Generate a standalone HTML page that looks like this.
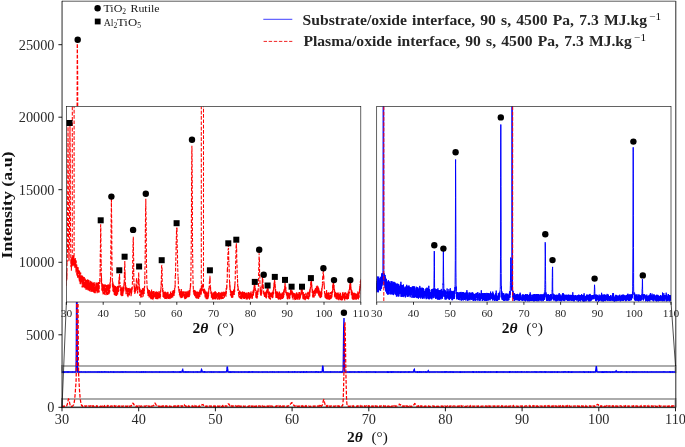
<!DOCTYPE html><html><head><meta charset="utf-8"><style>html,body{margin:0;padding:0;background:#fff;}svg{display:block;will-change:transform;}</style></head><body><svg width="685" height="447" viewBox="0 0 685 447"><defs><clipPath id="cm"><rect x="62.0" y="1.3" width="613.5" height="406.0"/></clipPath><clipPath id="cl"><rect x="66.4" y="106.5" width="294.4" height="195.5"/></clipPath><clipPath id="cr"><rect x="376.7" y="106.5" width="294.3" height="195.5"/></clipPath></defs><g fill="none" stroke="#a8a8a8" stroke-width="1.9"><rect x="62.0" y="366" width="613.5" height="6.2"/><rect x="62.0" y="399" width="613.5" height="8.3"/></g><g clip-path="url(#cm)" fill="none"><polyline points="62,371.9 62.3,372 62.5,372 62.8,372 63,372 63.3,371.9 63.5,371.9 63.8,372.1 64,372 64.3,371.9 64.6,372.1 64.8,372 65.1,372.1 65.3,372 65.6,372 65.8,371.9 66.1,372 66.3,372.1 66.6,372 66.9,372 67.1,372 67.4,371.9 67.6,372.1 67.9,372 68.1,372 68.4,371.9 68.6,372.1 68.9,372 69.2,372 69.4,372.1 69.7,372 69.9,372.1 70.2,372 70.4,372.1 70.7,372 70.9,372.1 71.2,372.1 71.5,371.9 71.7,371.9 72,371.9 72.2,372.1 72.5,372 72.7,372 73,372 73.2,372 73.5,372 73.8,372 74,372 74.3,372 74.5,372.1 74.8,372 75,372.1 75.3,372.1 75.5,372.1 75.8,372 76.1,370.4 76.3,353.5 76.6,292 76.8,250.8 77.1,307.4 77.3,359.9 77.6,371.1 77.8,372 78.1,372 78.4,372 78.6,371.9 78.9,372.1 79.1,372.1 79.4,371.9 79.6,372.1 79.9,372 80.1,371.9 80.4,372 80.7,372.1 80.9,372.1 81.2,371.9 81.4,372 81.7,371.9 81.9,372 82.2,372 82.5,372.1 82.7,372.1 83,372 83.2,372.1 83.5,372 83.7,371.9 84,372 84.2,371.9 84.5,371.9 84.8,372 85,372 85.3,371.9 85.5,371.9 85.8,372.1 86,372 86.3,372.1 86.5,372.1 86.8,372 87.1,372 87.3,372 87.6,372 87.8,372 88.1,372 88.3,372 88.6,372.1 88.8,372 89.1,372 89.4,372 89.6,371.9 89.9,372 90.1,372.1 90.4,372 90.6,372 90.9,371.9 91.1,372 91.4,372 91.7,371.9 91.9,372 92.2,372 92.4,371.9 92.7,372 92.9,372 93.2,372 93.4,372 93.7,372 94,372 94.2,371.9 94.5,371.9 94.7,372 95,372.1 95.2,372 95.5,372 95.7,372 96,372 96.3,372 96.5,372 96.8,372 97,372 97.3,372 97.5,372 97.8,372.1 98,371.9 98.3,372 98.6,372 98.8,372 99.1,371.9 99.3,372.1 99.6,371.9 99.8,371.9 100.1,372 100.3,372 100.6,371.9 100.9,372 101.1,372 101.4,372.1 101.6,372 101.9,372.1 102.1,371.9 102.4,372 102.6,372 102.9,372.1 103.2,372 103.4,371.9 103.7,371.9 103.9,372 104.2,371.9 104.4,372.1 104.7,372.1 104.9,371.9 105.2,372 105.5,372.1 105.7,372 106,372.1 106.2,372 106.5,371.9 106.7,372 107,372.1 107.2,372 107.5,372 107.8,372 108,372 108.3,372 108.5,372.1 108.8,371.9 109,371.9 109.3,372.1 109.5,372.1 109.8,372.1 110.1,372 110.3,372.1 110.6,372.1 110.8,371.9 111.1,372 111.3,372.1 111.6,372 111.8,372 112.1,372 112.4,372 112.6,371.9 112.9,371.9 113.1,372 113.4,372 113.6,372.1 113.9,371.9 114.1,372.1 114.4,372 114.7,372.1 114.9,372.1 115.2,372.1 115.4,372 115.7,371.9 115.9,372 116.2,371.9 116.4,372 116.7,372 117,372 117.2,372 117.5,372.1 117.7,372 118,372 118.2,372 118.5,372.1 118.7,372 119,372.1 119.3,372 119.5,371.9 119.8,372 120,372.1 120.3,371.9 120.5,372.1 120.8,372.1 121,372.1 121.3,372.1 121.6,371.9 121.8,372 122.1,372.1 122.3,371.9 122.6,372 122.8,372 123.1,372 123.3,372 123.6,372 123.9,372.1 124.1,371.9 124.4,371.9 124.6,371.9 124.9,371.9 125.1,371.9 125.4,372.1 125.7,372.1 125.9,371.9 126.2,372 126.4,372 126.7,372 126.9,372 127.2,372 127.4,372 127.7,372 128,371.9 128.2,372 128.5,371.9 128.7,372 129,372 129.2,372 129.5,371.9 129.7,371.9 130,372 130.3,372 130.5,372.1 130.8,372 131,372.1 131.3,372 131.5,372 131.8,372 132,372 132.3,372 132.6,372 132.8,372 133.1,372 133.3,371.9 133.6,372 133.8,372 134.1,371.9 134.3,372 134.6,372 134.9,372.1 135.1,372.1 135.4,372 135.6,372.1 135.9,372.1 136.1,372 136.4,372 136.6,371.9 136.9,372.1 137.2,372 137.4,372.1 137.7,372.1 137.9,372 138.2,372 138.4,372 138.7,371.9 138.9,372 139.2,371.9 139.5,371.9 139.7,372.1 140,371.9 140.2,371.9 140.5,371.9 140.7,372.1 141,371.9 141.2,371.9 141.5,372.1 141.8,371.9 142,372.1 142.3,372 142.5,372.1 142.8,372.1 143,372 143.3,372.1 143.5,371.9 143.8,372.1 144.1,372 144.3,372 144.6,371.9 144.8,372 145.1,372.1 145.3,371.9 145.6,372 145.8,372 146.1,372.1 146.4,371.9 146.6,371.9 146.9,371.9 147.1,372 147.4,372.1 147.6,372 147.9,372 148.1,372 148.4,372 148.7,372 148.9,371.9 149.2,372 149.4,372.1 149.7,372 149.9,372 150.2,371.9 150.4,372 150.7,372.1 151,372 151.2,372 151.5,372 151.7,372 152,372.1 152.2,371.9 152.5,371.9 152.7,372 153,372.1 153.3,372 153.5,372 153.8,372 154,371.9 154.3,372 154.5,371.9 154.8,372 155,372 155.3,371.9 155.6,372 155.8,372.1 156.1,372 156.3,372 156.6,372 156.8,372.1 157.1,372 157.3,372 157.6,371.9 157.9,371.9 158.1,372 158.4,372 158.6,371.9 158.9,372 159.1,372 159.4,372.1 159.6,371.9 159.9,372.1 160.2,372 160.4,372 160.7,372 160.9,372.1 161.2,372.1 161.4,372 161.7,372 161.9,372 162.2,372.1 162.5,372 162.7,372 163,372.1 163.2,372 163.5,371.9 163.7,371.9 164,372 164.2,372 164.5,372.1 164.8,372.1 165,371.9 165.3,371.9 165.5,372 165.8,371.9 166,372 166.3,372.1 166.6,372.1 166.8,372 167.1,372.1 167.3,372 167.6,372 167.8,372 168.1,371.9 168.3,371.9 168.6,372.1 168.9,372 169.1,372 169.4,372 169.6,372 169.9,371.9 170.1,372 170.4,372 170.6,372 170.9,371.9 171.2,372 171.4,372.1 171.7,372 171.9,372 172.2,371.9 172.4,372 172.7,372 172.9,371.9 173.2,372.1 173.5,372.1 173.7,371.9 174,372.1 174.2,372 174.5,372.1 174.7,372.1 175,372 175.2,372 175.5,372 175.8,372.1 176,372 176.3,372.1 176.5,372.1 176.8,372 177,372 177.3,371.9 177.5,372 177.8,372 178.1,372 178.3,372 178.6,372 178.8,371.9 179.1,372 179.3,372 179.6,371.9 179.8,372.1 180.1,372 180.4,371.9 180.6,372.1 180.9,371.9 181.1,372 181.4,372 181.6,372 181.9,371.9 182.1,371.3 182.4,370.2 182.7,369.7 182.9,370.6 183.2,371.5 183.4,372 183.7,372 183.9,372 184.2,372 184.4,372 184.7,372 185,372 185.2,372.1 185.5,371.9 185.7,372 186,371.9 186.2,372.1 186.5,372 186.7,372 187,372 187.3,372 187.5,372.1 187.8,372 188,372.1 188.3,371.9 188.5,372 188.8,371.9 189,371.9 189.3,372.1 189.6,372 189.8,371.9 190.1,371.9 190.3,372 190.6,372 190.8,372.1 191.1,372 191.3,372 191.6,371.9 191.9,372 192.1,371.9 192.4,372 192.6,372 192.9,371.9 193.1,372 193.4,372.1 193.6,371.9 193.9,372.1 194.2,372.1 194.4,372.1 194.7,372 194.9,372 195.2,372 195.4,372 195.7,372.1 195.9,372 196.2,372 196.5,372.1 196.7,372 197,372 197.2,372 197.5,371.9 197.7,372.1 198,372 198.2,372 198.5,372 198.8,372 199,371.9 199.3,372 199.5,371.9 199.8,372 200,372 200.3,372 200.5,372 200.8,372 201.1,371.6 201.3,370.3 201.6,369.6 201.8,370.1 202.1,371.2 202.3,371.9 202.6,371.9 202.8,371.9 203.1,372 203.4,372.1 203.6,372 203.9,372.1 204.1,372 204.4,371.9 204.6,372.1 204.9,372 205.2,372.1 205.4,372 205.7,372 205.9,372 206.2,372.1 206.4,372.1 206.7,372.1 206.9,372 207.2,372.1 207.5,372 207.7,371.9 208,371.9 208.2,371.9 208.5,371.9 208.7,371.9 209,372 209.2,372 209.5,372 209.8,372 210,372 210.3,372 210.5,372 210.8,372.1 211,372 211.3,371.9 211.5,372.1 211.8,372 212.1,372 212.3,372 212.6,372 212.8,372 213.1,371.9 213.3,371.9 213.6,371.9 213.8,372.1 214.1,371.9 214.4,372 214.6,371.9 214.9,371.9 215.1,371.9 215.4,372 215.6,371.9 215.9,371.9 216.1,371.9 216.4,371.9 216.7,372 216.9,371.9 217.2,371.9 217.4,372 217.7,372 217.9,372 218.2,371.9 218.4,372 218.7,372 219,371.9 219.2,372.1 219.5,371.9 219.7,371.9 220,372 220.2,371.9 220.5,372 220.7,372 221,371.9 221.3,371.9 221.5,372 221.8,372 222,372.1 222.3,372 222.5,372.1 222.8,372 223,371.9 223.3,372 223.6,372.1 223.8,372 224.1,372 224.3,371.9 224.6,372 224.8,372.1 225.1,372 225.3,371.9 225.6,371.9 225.9,371.9 226.1,371.9 226.4,371.9 226.6,371.5 226.9,369.9 227.1,367.3 227.4,366.6 227.6,369.2 227.9,371.2 228.2,372 228.4,372.1 228.7,372.1 228.9,371.9 229.2,372 229.4,372 229.7,372.1 229.9,371.9 230.2,372 230.5,372.1 230.7,371.9 231,372 231.2,372 231.5,372 231.7,372.1 232,371.9 232.2,372 232.5,372 232.8,372.1 233,372 233.3,372.1 233.5,372 233.8,372 234,371.9 234.3,372.1 234.5,372 234.8,372 235.1,371.9 235.3,372 235.6,372 235.8,372 236.1,372 236.3,372 236.6,371.9 236.8,372 237.1,371.9 237.4,372 237.6,372.1 237.9,372 238.1,371.9 238.4,371.9 238.6,372.1 238.9,372 239.1,372.1 239.4,372.1 239.7,372 239.9,372.1 240.2,372 240.4,372 240.7,372 240.9,371.9 241.2,372 241.4,372.1 241.7,371.9 242,372 242.2,371.9 242.5,371.9 242.7,372 243,371.9 243.2,371.9 243.5,371.9 243.7,372 244,372 244.3,371.9 244.5,371.9 244.8,372.1 245,371.9 245.3,372 245.5,372 245.8,372.1 246.1,372 246.3,372.1 246.6,372 246.8,371.9 247.1,371.9 247.3,371.9 247.6,372.1 247.8,371.9 248.1,371.9 248.4,372.1 248.6,371.9 248.9,372.1 249.1,371.9 249.4,372 249.6,371.9 249.9,372.1 250.1,372 250.4,372 250.7,372.1 250.9,372.1 251.2,372 251.4,372 251.7,372 251.9,371.9 252.2,372.1 252.4,372 252.7,372.1 253,371.9 253.2,372 253.5,372 253.7,372 254,371.9 254.2,372 254.5,372 254.7,371.9 255,372 255.3,372 255.5,372 255.8,372 256,372 256.3,371.9 256.5,372 256.8,372.1 257,372 257.3,372 257.6,371.9 257.8,371.9 258.1,371.9 258.3,372.1 258.6,372 258.8,372.1 259.1,372.1 259.3,372 259.6,372.1 259.9,372 260.1,372 260.4,372.1 260.6,372.1 260.9,372.1 261.1,372 261.4,372.1 261.6,372 261.9,372.1 262.2,372.1 262.4,372 262.7,372.1 262.9,371.9 263.2,371.9 263.4,372 263.7,372 263.9,372 264.2,372 264.5,371.9 264.7,372 265,372 265.2,372 265.5,372 265.7,372 266,372 266.2,372 266.5,371.9 266.8,372 267,372 267.3,371.9 267.5,371.9 267.8,372.1 268,372 268.3,372.1 268.5,372.1 268.8,372.1 269.1,372 269.3,371.9 269.6,372 269.8,372 270.1,372 270.3,372 270.6,372 270.8,372.1 271.1,372 271.4,372 271.6,372.1 271.9,372.1 272.1,372 272.4,371.9 272.6,372.1 272.9,371.9 273.1,371.9 273.4,372 273.7,372 273.9,371.9 274.2,371.9 274.4,371.9 274.7,372.1 274.9,372 275.2,372.1 275.4,372.1 275.7,372.1 276,371.9 276.2,371.9 276.5,371.9 276.7,372 277,372 277.2,371.9 277.5,372 277.7,371.9 278,372 278.3,371.9 278.5,372.1 278.8,372 279,372 279.3,371.9 279.5,372 279.8,372 280,372 280.3,372.1 280.6,372.1 280.8,371.9 281.1,371.9 281.3,372.1 281.6,372.1 281.8,372 282.1,372.1 282.3,372 282.6,372 282.9,371.9 283.1,371.9 283.4,372 283.6,372.1 283.9,372.1 284.1,372 284.4,372 284.6,372.1 284.9,372.1 285.2,372 285.4,372 285.7,372 285.9,371.9 286.2,371.9 286.4,372 286.7,372.1 286.9,372 287.2,372 287.5,372 287.7,372 288,372.1 288.2,372 288.5,372.1 288.7,371.9 289,372 289.3,372 289.5,372 289.8,372.1 290,372.1 290.3,372.1 290.5,372 290.8,371.9 291,372 291.3,372 291.6,372 291.8,372 292.1,372 292.3,372.1 292.6,371.9 292.8,372 293.1,372 293.3,372 293.6,372.1 293.9,372.1 294.1,372 294.4,371.9 294.6,372.1 294.9,371.9 295.1,372 295.4,372.1 295.6,372 295.9,372 296.2,372.1 296.4,372.1 296.7,372 296.9,372 297.2,372 297.4,371.9 297.7,372 297.9,372.1 298.2,371.9 298.5,371.9 298.7,371.9 299,371.9 299.2,372 299.5,372 299.7,372.1 300,372 300.2,372.1 300.5,371.9 300.8,372 301,372.1 301.3,371.9 301.5,372 301.8,372 302,372 302.3,372 302.5,371.9 302.8,371.9 303.1,372.1 303.3,371.9 303.6,372.1 303.8,371.9 304.1,372.1 304.3,372 304.6,372 304.8,371.9 305.1,371.9 305.4,372.1 305.6,371.9 305.9,371.9 306.1,372.1 306.4,372.1 306.6,371.9 306.9,372.1 307.1,372 307.4,372 307.7,371.9 307.9,372 308.2,372.1 308.4,372 308.7,371.9 308.9,371.9 309.2,371.9 309.4,372 309.7,372.1 310,371.9 310.2,371.9 310.5,372.1 310.7,372.1 311,372.1 311.2,371.9 311.5,372 311.7,372.1 312,372 312.3,372 312.5,372 312.8,371.9 313,372 313.3,372 313.5,372.1 313.8,372 314,372 314.3,372 314.6,372 314.8,372 315.1,372.1 315.3,371.9 315.6,372 315.8,372.1 316.1,372.1 316.3,371.9 316.6,372.1 316.9,372.1 317.1,371.9 317.4,372 317.6,371.9 317.9,371.9 318.1,372.1 318.4,372 318.6,372.1 318.9,371.9 319.2,371.9 319.4,372.1 319.7,372.1 319.9,372.1 320.2,372 320.4,372 320.7,372.1 320.9,371.9 321.2,372 321.5,372 321.7,371.9 322,371.9 322.2,370.9 322.5,368.3 322.7,365.6 323,366.7 323.2,369.8 323.5,371.6 323.8,372.1 324,372.1 324.3,372.1 324.5,372.1 324.8,372 325,372.1 325.3,372 325.5,371.9 325.8,372 326.1,372 326.3,372 326.6,372 326.8,372 327.1,372.1 327.3,372 327.6,372 327.9,372 328.1,372.1 328.4,372.1 328.6,372 328.9,372 329.1,372 329.4,371.9 329.6,372 329.9,372.1 330.2,372.1 330.4,371.9 330.7,372.1 330.9,372 331.2,372.1 331.4,372 331.7,371.9 331.9,372 332.2,372.1 332.5,372 332.7,372.1 333,372 333.2,372 333.5,372 333.7,372 334,372 334.2,372 334.5,372 334.8,372.1 335,372 335.3,371.9 335.5,371.9 335.8,372 336,372 336.3,371.9 336.5,371.9 336.8,372 337.1,372 337.3,371.9 337.6,372 337.8,372.1 338.1,372 338.3,372 338.6,372.1 338.8,372.1 339.1,372.1 339.4,372 339.6,372 339.9,371.9 340.1,372.1 340.4,372 340.6,372 340.9,372.1 341.1,372 341.4,371.9 341.7,372.1 341.9,372 342.2,371.9 342.4,371.9 342.7,372 342.9,371.6 343.2,368.8 343.4,354.8 343.7,328.2 344,318.1 344.2,339.9 344.5,362.7 344.7,370.7 345,371.9 345.2,372 345.5,371.9 345.7,372.1 346,372 346.3,371.9 346.5,372 346.8,372.1 347,372.1 347.3,371.9 347.5,371.9 347.8,372 348,372 348.3,372.1 348.6,372.1 348.8,372 349.1,372 349.3,372 349.6,372.1 349.8,371.9 350.1,372 350.3,371.9 350.6,372 350.9,371.9 351.1,372.1 351.4,372 351.6,372 351.9,371.9 352.1,371.9 352.4,372 352.6,372.1 352.9,372 353.2,372 353.4,372.1 353.7,372 353.9,372 354.2,371.9 354.4,372 354.7,372.1 354.9,371.9 355.2,372 355.5,372 355.7,372 356,372.1 356.2,372.1 356.5,372.1 356.7,372 357,371.9 357.2,371.9 357.5,372 357.8,372 358,371.9 358.3,372.1 358.5,371.9 358.8,372.1 359,372.1 359.3,371.9 359.5,372.1 359.8,372 360.1,371.9 360.3,371.9 360.6,371.9 360.8,372 361.1,372 361.3,372.1 361.6,372.1 361.8,371.9 362.1,372 362.4,372 362.6,371.9 362.9,372 363.1,372 363.4,372 363.6,372 363.9,371.9 364.1,371.9 364.4,372 364.7,372 364.9,371.9 365.2,372 365.4,371.9 365.7,372 365.9,372 366.2,371.9 366.4,372.1 366.7,372 367,372 367.2,372 367.5,372 367.7,372 368,371.9 368.2,372.1 368.5,372.1 368.8,372 369,372 369.3,372 369.5,372.1 369.8,372 370,371.9 370.3,372.1 370.5,372.1 370.8,372 371.1,372.1 371.3,372 371.6,371.9 371.8,372 372.1,372 372.3,372 372.6,372 372.8,371.9 373.1,372 373.4,372.1 373.6,372 373.9,372 374.1,372.1 374.4,372 374.6,372 374.9,372 375.1,372.1 375.4,371.9 375.7,371.9 375.9,372.1 376.2,372 376.4,372 376.7,372.1 376.9,372.1 377.2,372 377.4,372.1 377.7,372.1 378,372 378.2,372 378.5,371.9 378.7,372 379,372 379.2,372 379.5,372 379.7,372 380,371.9 380.3,372 380.5,372 380.8,372 381,371.9 381.3,372 381.5,372 381.8,372 382,371.9 382.3,372 382.6,371.9 382.8,372 383.1,372 383.3,371.9 383.6,371.9 383.8,372 384.1,371.9 384.3,372 384.6,371.9 384.9,371.9 385.1,372 385.4,372.1 385.6,372.1 385.9,372 386.1,372 386.4,371.9 386.6,372 386.9,372 387.2,372.1 387.4,371.9 387.7,372.1 387.9,372 388.2,372 388.4,372 388.7,372.1 388.9,371.9 389.2,372 389.5,372 389.7,371.9 390,371.9 390.2,372.1 390.5,372.1 390.7,372 391,372.1 391.2,371.9 391.5,372 391.8,372.1 392,371.9 392.3,372 392.5,372.1 392.8,372 393,372.1 393.3,371.9 393.5,372 393.8,372 394.1,372 394.3,372 394.6,372.1 394.8,372 395.1,372 395.3,372 395.6,372 395.8,372.1 396.1,372 396.4,372 396.6,372 396.9,372 397.1,371.9 397.4,371.9 397.6,372 397.9,371.9 398.1,372.1 398.4,372 398.7,372.1 398.9,372.1 399.2,372 399.4,372 399.7,371.9 399.9,372 400.2,372 400.4,372.1 400.7,371.9 401,371.9 401.2,372.1 401.5,372 401.7,372 402,372 402.2,371.9 402.5,372 402.7,372 403,372 403.3,371.9 403.5,371.9 403.8,372 404,372.1 404.3,371.9 404.5,371.9 404.8,371.9 405,372.1 405.3,372 405.6,372 405.8,372.1 406.1,372 406.3,372 406.6,372 406.8,371.9 407.1,372 407.3,372 407.6,371.9 407.9,371.9 408.1,372 408.4,372 408.6,372.1 408.9,371.9 409.1,372.1 409.4,372 409.6,372.1 409.9,372 410.2,372 410.4,372 410.7,371.9 410.9,372 411.2,372.1 411.4,372 411.7,371.9 412,372 412.2,371.9 412.5,372 412.7,372 413,372 413.2,372 413.5,371.8 413.7,371.1 414,369.9 414.3,369.5 414.5,370.5 414.8,371.6 415,371.9 415.3,372 415.5,372 415.8,372 416,372 416.3,372 416.6,372 416.8,372 417.1,371.9 417.3,372.1 417.6,372 417.8,371.9 418.1,372.1 418.3,372 418.6,372 418.9,372 419.1,371.9 419.4,372.1 419.6,371.9 419.9,372 420.1,372.1 420.4,371.9 420.6,372 420.9,372 421.2,371.9 421.4,372.1 421.7,372 421.9,371.9 422.2,372 422.4,371.9 422.7,372 422.9,372.1 423.2,372.1 423.5,371.9 423.7,372 424,372 424.2,372 424.5,372 424.7,372 425,371.9 425.2,372 425.5,371.9 425.8,372.1 426,371.9 426.3,372.1 426.5,371.9 426.8,371.9 427,372 427.3,372 427.5,372 427.8,371.7 428.1,371.2 428.3,370.7 428.6,371.2 428.8,371.7 429.1,372.1 429.3,371.9 429.6,371.9 429.8,372 430.1,372.1 430.4,372 430.6,372 430.9,372 431.1,372 431.4,372 431.6,372 431.9,371.9 432.1,372 432.4,372 432.7,372 432.9,372 433.2,372 433.4,372 433.7,372 433.9,372 434.2,372.1 434.4,372 434.7,371.9 435,372 435.2,371.9 435.5,371.9 435.7,372 436,372 436.2,371.9 436.5,371.9 436.7,371.9 437,371.9 437.3,372 437.5,372 437.8,372.1 438,372 438.3,372 438.5,372 438.8,371.9 439,372 439.3,372.1 439.6,372 439.8,372 440.1,372 440.3,371.9 440.6,371.9 440.8,371.9 441.1,372 441.3,372 441.6,372 441.9,371.9 442.1,372.1 442.4,372 442.6,372 442.9,372 443.1,372 443.4,371.9 443.6,372 443.9,372 444.2,372 444.4,372.1 444.7,371.9 444.9,372.1 445.2,372.1 445.4,372 445.7,372.1 445.9,371.9 446.2,372.1 446.5,372.1 446.7,371.9 447,372 447.2,372.1 447.5,372 447.7,372.1 448,372.1 448.2,372 448.5,371.9 448.8,371.9 449,372.1 449.3,372 449.5,372 449.8,372 450,372.1 450.3,372 450.6,371.9 450.8,372.1 451.1,372 451.3,372 451.6,372.1 451.8,372 452.1,371.9 452.3,372.1 452.6,371.9 452.9,371.9 453.1,372.1 453.4,371.9 453.6,372.1 453.9,372 454.1,372 454.4,371.9 454.6,372 454.9,372 455.2,372 455.4,372 455.7,372 455.9,372.1 456.2,372.1 456.4,372.1 456.7,372.1 456.9,371.9 457.2,372 457.5,371.9 457.7,371.9 458,372.1 458.2,372.1 458.5,372.1 458.7,372 459,371.9 459.2,372 459.5,371.9 459.8,372.1 460,372 460.3,372 460.5,372.1 460.8,371.9 461,372.1 461.3,372 461.5,372 461.8,371.9 462.1,372.1 462.3,372 462.6,372 462.8,372 463.1,372 463.3,372 463.6,371.9 463.8,372 464.1,371.9 464.4,372.1 464.6,372 464.9,371.9 465.1,372 465.4,371.9 465.6,372 465.9,372 466.1,372 466.4,372 466.7,372 466.9,372 467.2,372.1 467.4,372 467.7,372.1 467.9,372 468.2,371.9 468.4,371.9 468.7,372.1 469,372 469.2,372 469.5,372 469.7,372.1 470,372 470.2,372 470.5,372 470.7,371.9 471,372 471.3,372 471.5,372 471.8,372 472,372 472.3,372 472.5,371.9 472.8,372.1 473,371.9 473.3,372.1 473.6,371.9 473.8,372.1 474.1,372 474.3,371.9 474.6,372 474.8,372.1 475.1,372.1 475.3,372.1 475.6,372.1 475.9,371.9 476.1,372 476.4,371.9 476.6,372.1 476.9,372 477.1,372 477.4,372.1 477.6,372.1 477.9,372 478.2,372.1 478.4,372 478.7,371.9 478.9,372.1 479.2,371.9 479.4,371.9 479.7,372.1 479.9,372 480.2,372 480.5,371.9 480.7,371.9 481,372 481.2,371.9 481.5,372 481.7,372.1 482,371.9 482.2,372 482.5,372 482.8,372 483,372.1 483.3,372 483.5,371.9 483.8,371.9 484,372 484.3,372.1 484.5,371.9 484.8,372 485.1,371.9 485.3,372.1 485.6,372 485.8,372 486.1,372 486.3,371.9 486.6,372 486.8,372.1 487.1,372.1 487.4,372 487.6,371.9 487.9,371.9 488.1,372.1 488.4,372 488.6,372 488.9,372 489.1,372 489.4,372 489.7,372 489.9,372.1 490.2,372.1 490.4,372 490.7,371.9 490.9,372.1 491.2,372 491.4,372 491.7,372 492,372.1 492.2,372 492.5,371.9 492.7,371.9 493,372 493.2,372 493.5,372 493.8,372.1 494,372 494.3,372 494.5,372 494.8,372 495,372 495.3,372 495.5,372 495.8,372 496.1,372.1 496.3,371.9 496.6,372.1 496.8,372 497.1,372.1 497.3,371.9 497.6,372 497.8,372 498.1,372 498.4,371.9 498.6,372 498.9,371.9 499.1,372 499.4,372 499.6,371.9 499.9,371.9 500.1,371.9 500.4,372.1 500.7,372 500.9,372 501.2,372 501.4,372 501.7,372.1 501.9,372 502.2,371.9 502.4,372 502.7,372 503,371.9 503.2,372.1 503.5,372 503.7,372 504,372 504.2,372 504.5,372 504.7,372.1 505,372 505.3,372 505.5,371.9 505.8,372 506,372 506.3,372 506.5,372 506.8,371.9 507,371.9 507.3,371.9 507.6,371.9 507.8,372.1 508.1,372 508.3,371.9 508.6,372 508.8,372 509.1,371.9 509.3,372.1 509.6,371.9 509.9,372.1 510.1,371.9 510.4,372 510.6,371.9 510.9,372.1 511.1,372.1 511.4,372 511.6,371.9 511.9,372 512.2,372 512.4,371.9 512.7,372.1 512.9,372.1 513.2,372.1 513.4,372 513.7,372 513.9,372.1 514.2,372 514.5,372 514.7,371.9 515,371.9 515.2,372.1 515.5,371.9 515.7,372 516,372 516.2,372.1 516.5,372.1 516.8,372 517,372.1 517.3,371.9 517.5,372 517.8,372 518,372 518.3,372 518.5,372.1 518.8,372 519.1,372.1 519.3,372 519.6,372 519.8,372 520.1,372 520.3,372.1 520.6,372 520.8,372 521.1,372 521.4,371.9 521.6,372.1 521.9,371.9 522.1,372 522.4,372 522.6,371.9 522.9,372 523.1,372 523.4,372.1 523.7,372.1 523.9,372 524.2,372.1 524.4,372.1 524.7,371.9 524.9,372.1 525.2,372.1 525.4,372.1 525.7,372.1 526,372 526.2,371.9 526.5,372 526.7,371.9 527,372.1 527.2,372 527.5,372.1 527.7,372 528,372 528.3,372.1 528.5,372 528.8,372 529,372 529.3,372 529.5,372 529.8,372 530,372 530.3,372.1 530.6,372.1 530.8,372.1 531.1,372 531.3,371.9 531.6,372 531.8,372.1 532.1,372 532.4,371.9 532.6,372 532.9,372 533.1,372 533.4,372 533.6,372 533.9,372 534.1,372.1 534.4,372.1 534.7,371.9 534.9,372 535.2,372.1 535.4,372 535.7,372 535.9,372.1 536.2,371.9 536.4,372.1 536.7,372 537,372 537.2,372 537.5,372 537.7,371.9 538,372 538.2,372 538.5,372.1 538.7,372.1 539,372 539.3,372.1 539.5,372 539.8,372 540,371.9 540.3,372.1 540.5,372.1 540.8,372.1 541,371.9 541.3,372.1 541.6,371.9 541.8,372 542.1,372 542.3,371.9 542.6,372 542.8,372.1 543.1,372 543.3,372 543.6,372.1 543.9,372 544.1,372.1 544.4,372 544.6,371.9 544.9,372.1 545.1,371.9 545.4,372 545.6,372.1 545.9,371.9 546.2,372 546.4,372.1 546.7,372 546.9,372 547.2,372.1 547.4,372.1 547.7,372 547.9,372 548.2,372 548.5,372 548.7,372.1 549,372.1 549.2,371.9 549.5,371.9 549.7,371.9 550,372.1 550.2,371.9 550.5,371.9 550.8,372.1 551,371.9 551.3,372.1 551.5,372 551.8,372.1 552,372.1 552.3,371.9 552.5,372.1 552.8,372 553.1,371.9 553.3,371.9 553.6,372 553.8,372 554.1,372 554.3,372.1 554.6,371.9 554.8,372 555.1,371.9 555.4,372 555.6,372.1 555.9,372 556.1,371.9 556.4,371.9 556.6,372 556.9,372 557.1,372.1 557.4,371.9 557.7,372.1 557.9,372 558.2,372.1 558.4,372 558.7,371.9 558.9,371.9 559.2,372 559.4,371.9 559.7,371.9 560,372.1 560.2,372.1 560.5,372.1 560.7,372.1 561,372 561.2,372.1 561.5,372 561.7,372 562,372 562.3,371.9 562.5,371.9 562.8,371.9 563,372 563.3,371.9 563.5,372.1 563.8,372 564,372 564.3,372.1 564.6,371.9 564.8,372.1 565.1,372.1 565.3,372 565.6,371.9 565.8,372.1 566.1,372.1 566.3,372.1 566.6,372 566.9,372 567.1,371.9 567.4,371.9 567.6,372 567.9,372 568.1,371.9 568.4,372.1 568.6,371.9 568.9,372.1 569.2,371.9 569.4,372.1 569.7,372.1 569.9,372.1 570.2,372 570.4,372 570.7,372 570.9,372.1 571.2,371.9 571.5,372.1 571.7,372 572,371.9 572.2,372.1 572.5,372 572.7,371.9 573,372 573.2,371.9 573.5,372 573.8,372 574,372.1 574.3,372 574.5,372.1 574.8,372.1 575,372 575.3,372 575.6,372 575.8,371.9 576.1,372 576.3,371.9 576.6,372 576.8,372 577.1,372 577.3,372 577.6,372 577.9,371.9 578.1,372 578.4,372 578.6,371.9 578.9,372 579.1,372.1 579.4,372 579.6,372.1 579.9,372 580.2,372.1 580.4,372 580.7,372.1 580.9,372 581.2,371.9 581.4,372 581.7,372 581.9,372 582.2,372 582.5,372.1 582.7,372.1 583,372.1 583.2,371.9 583.5,372 583.7,372 584,372.1 584.2,371.9 584.5,371.9 584.8,372.1 585,372 585.3,372 585.5,372 585.8,372 586,372 586.3,372 586.5,372.1 586.8,372 587.1,372.1 587.3,372 587.6,372 587.8,372 588.1,372 588.3,372.1 588.6,371.9 588.8,372.1 589.1,372 589.4,372 589.6,372 589.9,371.9 590.1,371.9 590.4,372.1 590.6,372 590.9,372.1 591.1,371.9 591.4,371.9 591.7,372 591.9,372 592.2,372 592.4,372 592.7,372 592.9,372 593.2,372 593.4,372.1 593.7,371.9 594,372 594.2,371.9 594.5,371.9 594.7,372 595,372 595.2,372 595.5,371.8 595.7,371 596,368.5 596.3,366.1 596.5,367.3 596.8,370.3 597,371.7 597.3,371.9 597.5,371.9 597.8,372 598,371.9 598.3,372 598.6,372 598.8,372 599.1,372 599.3,372.1 599.6,372.1 599.8,372 600.1,372 600.3,372 600.6,372 600.9,372 601.1,372 601.4,372 601.6,372.1 601.9,371.9 602.1,372 602.4,372.1 602.6,371.9 602.9,372 603.2,372.1 603.4,371.9 603.7,372.1 603.9,372 604.2,371.9 604.4,372 604.7,371.9 604.9,372.1 605.2,372 605.5,372.1 605.7,372.1 606,371.9 606.2,372 606.5,371.9 606.7,372.1 607,371.9 607.2,371.9 607.5,371.9 607.8,372.1 608,371.9 608.3,372 608.5,372 608.8,372 609,372 609.3,372.1 609.5,372 609.8,372 610.1,372.1 610.3,371.9 610.6,371.9 610.8,372.1 611.1,372 611.3,372.1 611.6,372.1 611.8,372 612.1,372 612.4,371.9 612.6,372.1 612.9,372 613.1,372 613.4,371.9 613.6,371.9 613.9,372.1 614.1,371.9 614.4,372 614.7,372 614.9,372 615.2,372 615.4,371.9 615.7,371.6 615.9,371.2 616.2,370.8 616.5,371.1 616.7,371.6 617,372 617.2,371.9 617.5,371.9 617.7,372 618,372.1 618.2,372 618.5,371.9 618.8,372.1 619,371.9 619.3,372 619.5,372.1 619.8,372.1 620,372.1 620.3,371.9 620.5,372.1 620.8,372 621.1,371.9 621.3,372.1 621.6,372.1 621.8,371.9 622.1,372 622.3,372.1 622.6,372 622.8,372 623.1,372.1 623.4,372 623.6,372.1 623.9,372.1 624.1,372.1 624.4,372 624.6,371.9 624.9,372 625.1,372 625.4,372 625.7,372 625.9,372 626.2,371.9 626.4,372.1 626.7,372 626.9,371.9 627.2,372.1 627.4,372 627.7,372 628,372 628.2,371.9 628.5,372 628.7,372.1 629,372 629.2,372.1 629.5,372 629.7,372.1 630,371.9 630.3,372 630.5,371.9 630.8,371.9 631,372 631.3,372 631.5,372 631.8,371.9 632,372 632.3,372 632.6,372.1 632.8,371.9 633.1,372 633.3,372.1 633.6,372 633.8,372 634.1,372.1 634.3,371.9 634.6,371.9 634.9,371.9 635.1,372 635.4,372.1 635.6,372 635.9,372 636.1,372.1 636.4,371.9 636.6,371.9 636.9,372 637.2,371.9 637.4,372 637.7,371.9 637.9,372 638.2,372.1 638.4,372 638.7,372 638.9,372 639.2,372 639.5,371.9 639.7,371.9 640,372 640.2,372 640.5,372 640.7,372 641,372 641.2,372.1 641.5,372 641.8,371.9 642,371.9 642.3,371.9 642.5,371.9 642.8,372.1 643,372 643.3,372 643.5,372.1 643.8,372.1 644.1,372.1 644.3,371.9 644.6,372 644.8,372 645.1,372 645.3,372 645.6,371.9 645.8,371.9 646.1,372 646.4,372 646.6,372 646.9,372 647.1,372 647.4,372 647.6,371.9 647.9,372.1 648.1,372 648.4,372 648.7,372.1 648.9,372.1 649.2,372 649.4,371.9 649.7,372 649.9,372 650.2,372 650.4,371.9 650.7,372 651,372 651.2,372.1 651.5,372 651.7,372 652,372.1 652.2,372 652.5,371.9 652.7,372 653,371.9 653.3,372 653.5,372.1 653.8,372.1 654,372 654.3,371.9 654.5,371.9 654.8,371.9 655,372 655.3,372 655.6,371.9 655.8,372 656.1,372 656.3,372 656.6,372.1 656.8,372 657.1,372 657.4,372 657.6,372 657.9,372 658.1,371.9 658.4,372 658.6,372 658.9,371.9 659.1,371.9 659.4,372.1 659.7,372 659.9,371.9 660.2,372 660.4,372 660.7,372 660.9,372 661.2,372 661.4,371.9 661.7,372 662,372 662.2,371.9 662.5,372 662.7,372 663,372.1 663.2,372.1 663.5,371.9 663.7,372 664,372 664.3,371.9 664.5,372.1 664.8,372.1 665,372.1 665.3,372 665.5,372.1 665.8,372 666,372 666.3,372 666.6,372.1 666.8,372.1 667.1,372 667.3,371.9 667.6,372 667.8,372 668.1,372 668.3,372.1 668.6,372.1 668.9,372 669.1,372 669.4,372 669.6,371.9 669.9,372.1 670.1,371.9 670.4,372.1 670.6,372 670.9,372 671.2,371.9 671.4,372 671.7,372 671.9,372 672.2,371.9 672.4,372.1 672.7,372 672.9,372 673.2,372 673.5,372 673.7,372 674,372 674.2,372 674.5,371.9 674.7,372 675,372.1 675.2,371.9 675.5,371.9" stroke="#0000ff" stroke-width="1.4"/><polyline points="62,406 62.3,406 62.5,406.1 62.8,406 63,405.9 63.3,406.1 63.5,406.5 63.8,406.4 64,406.4 64.3,406 64.6,406.2 64.8,406.1 65.1,406 65.3,406 65.6,406 65.8,406.4 66.1,406.3 66.3,406.2 66.6,406.1 66.9,405.3 67.1,404.8 67.4,404.1 67.6,402.9 67.9,401.6 68.1,400.3 68.4,399 68.6,399.1 68.9,399.6 69.2,400.6 69.4,401.7 69.7,403.2 69.9,404.1 70.2,405.4 70.4,405.9 70.7,406 70.9,406 71.2,406.4 71.5,406.2 71.7,406.4 72,406.4 72.2,406.1 72.5,406 72.7,406 73,405.7 73.2,405.3 73.5,404.9 73.8,404.6 74,403.2 74.3,402 74.5,400.7 74.8,398.3 75,395.8 75.3,392.6 75.5,388.9 75.8,385.3 76.1,380.1 76.3,371.3 76.6,342.5 76.8,264.6 77.1,135.1 77.3,40.8 77.6,76.4 77.8,202.8 78.1,310.1 78.4,358.9 78.6,373.6 78.9,379.4 79.1,383.8 79.4,388.2 79.6,391.8 79.9,394.8 80.1,397.7 80.4,399.9 80.7,401.8 80.9,402.9 81.2,404.3 81.4,405.1 81.7,405.7 81.9,405.8 82.2,406.2 82.5,405.7 82.7,406 83,406.4 83.2,406.3 83.5,406.1 83.7,406.5 84,406.3 84.2,406.4 84.5,406.1 84.8,406 85,406.2 85.3,406 85.5,406.1 85.8,406.5 86,406.1 86.3,405.9 86.5,405.9 86.8,406 87.1,406.4 87.3,406.1 87.6,406.1 87.8,406 88.1,406.5 88.3,406.2 88.6,406 88.8,405.9 89.1,405.9 89.4,406 89.6,406.3 89.9,406 90.1,405.9 90.4,406.2 90.6,406 90.9,406.5 91.1,406 91.4,406.2 91.7,406.4 91.9,406.1 92.2,406.5 92.4,406.2 92.7,406 92.9,406.1 93.2,405.9 93.4,406.2 93.7,406 94,406.4 94.2,406.4 94.5,406.2 94.7,405.9 95,406.1 95.2,406 95.5,406 95.7,406 96,406.4 96.3,406 96.5,405.9 96.8,406.5 97,406.2 97.3,406.5 97.5,406.1 97.8,406.4 98,406.3 98.3,406.4 98.6,406.3 98.8,406.2 99.1,406 99.3,406 99.6,406.4 99.8,406.4 100.1,406.5 100.3,406.1 100.6,406.3 100.9,406.4 101.1,406.3 101.4,406.4 101.6,406.2 101.9,406.3 102.1,406.3 102.4,406.1 102.6,406.5 102.9,406.5 103.2,405.9 103.4,406.5 103.7,406.5 103.9,406.3 104.2,405.9 104.4,406.4 104.7,406 104.9,406.5 105.2,406.3 105.5,405.9 105.7,406 106,406.3 106.2,406.2 106.5,406.3 106.7,406.5 107,406 107.2,405.9 107.5,406.5 107.8,405.9 108,406.4 108.3,406 108.5,406.4 108.8,406.4 109,406.4 109.3,406.2 109.5,406.4 109.8,406 110.1,406.3 110.3,406.1 110.6,406.4 110.8,406.4 111.1,406.2 111.3,406.2 111.6,405.9 111.8,405.9 112.1,406.3 112.4,406.2 112.6,406.4 112.9,406.3 113.1,406 113.4,406.1 113.6,406.4 113.9,406.2 114.1,405.9 114.4,406.4 114.7,406.4 114.9,406 115.2,406.2 115.4,406.1 115.7,406.4 115.9,406.1 116.2,406 116.4,406.2 116.7,406.5 117,406 117.2,406 117.5,406.3 117.7,406.4 118,406.2 118.2,406.2 118.5,406.4 118.7,406.4 119,405.9 119.3,406.4 119.5,406 119.8,406.1 120,406.4 120.3,406.2 120.5,406.4 120.8,406 121,406.4 121.3,406 121.6,406 121.8,406.2 122.1,406.1 122.3,406.2 122.6,406.4 122.8,406.3 123.1,405.9 123.3,406.1 123.6,406.2 123.9,406.2 124.1,406.3 124.4,406.2 124.6,405.9 124.9,406 125.1,406.4 125.4,406.1 125.7,406.4 125.9,406.5 126.2,406.3 126.4,406.3 126.7,406.3 126.9,406.1 127.2,406.4 127.4,406.2 127.7,406.4 128,406.1 128.2,406.4 128.5,406.4 128.7,406.3 129,406.2 129.2,406 129.5,406.4 129.7,406.1 130,406.3 130.3,406 130.5,405.9 130.8,405.9 131,406.1 131.3,405.6 131.5,405.7 131.8,405 132,404.7 132.3,404 132.6,403.8 132.8,403.2 133.1,403.3 133.3,403.8 133.6,403.7 133.8,404.5 134.1,404.7 134.3,405.2 134.6,405.3 134.9,405.6 135.1,406.3 135.4,406.3 135.6,406.3 135.9,406.4 136.1,406.5 136.4,406 136.6,406.2 136.9,406.2 137.2,406.2 137.4,406.5 137.7,406.4 137.9,406.5 138.2,406 138.4,406.3 138.7,406.3 138.9,406.3 139.2,406.3 139.5,406.4 139.7,406.1 140,406.5 140.2,406.1 140.5,406.3 140.7,406.4 141,406.3 141.2,406.1 141.5,406 141.8,406.1 142,406.3 142.3,406.5 142.5,406.4 142.8,406.1 143,406.1 143.3,406.4 143.5,406.1 143.8,406.1 144.1,405.9 144.3,406 144.6,406.2 144.8,406.3 145.1,406.3 145.3,406.1 145.6,406.5 145.8,406.3 146.1,406 146.4,405.9 146.6,406.5 146.9,406.5 147.1,406.5 147.4,406.3 147.6,406.1 147.9,406 148.1,406.1 148.4,406 148.7,406.5 148.9,406.4 149.2,406.4 149.4,406 149.7,406 149.9,406.1 150.2,406.5 150.4,406 150.7,406.4 151,406.3 151.2,406.2 151.5,406.5 151.7,406.1 152,406.2 152.2,406 152.5,405.9 152.7,405.9 153,405.9 153.3,405.7 153.5,405.4 153.8,405.5 154,404.6 154.3,404.3 154.5,403.6 154.8,403.2 155,403.1 155.3,403.5 155.6,403.9 155.8,404.4 156.1,404.9 156.3,405.5 156.6,405.9 156.8,406 157.1,406.1 157.3,405.9 157.6,406.4 157.9,406.2 158.1,405.9 158.4,406 158.6,406.4 158.9,406.1 159.1,406.1 159.4,406.3 159.6,406.4 159.9,406.1 160.2,406.1 160.4,406.2 160.7,405.9 160.9,406.4 161.2,405.9 161.4,406.5 161.7,406 161.9,406 162.2,406.4 162.5,406.4 162.7,406 163,406.2 163.2,406.2 163.5,406.3 163.7,406 164,406.4 164.2,406.5 164.5,406.3 164.8,406.5 165,406.5 165.3,406.1 165.5,406.4 165.8,406.4 166,406.3 166.3,406 166.6,406.3 166.8,406.4 167.1,406.1 167.3,406.3 167.6,406.4 167.8,406.3 168.1,405.9 168.3,406.3 168.6,406.1 168.9,406.4 169.1,406.3 169.4,406.1 169.6,406.4 169.9,406.3 170.1,406.1 170.4,406.4 170.6,406.4 170.9,406.4 171.2,406.4 171.4,406.3 171.7,406.3 171.9,406.3 172.2,406.2 172.4,406.5 172.7,406.1 172.9,405.9 173.2,406.3 173.5,406.2 173.7,406.2 174,406.3 174.2,406 174.5,406 174.7,405.9 175,406.4 175.2,406.4 175.5,406.3 175.8,406 176,406.5 176.3,406.4 176.5,406.2 176.8,405.9 177,406.4 177.3,406.3 177.5,406.3 177.8,405.9 178.1,406.3 178.3,405.9 178.6,406.2 178.8,406 179.1,406.1 179.3,406.4 179.6,406.3 179.8,406.4 180.1,406.1 180.4,406.1 180.6,406.3 180.9,405.9 181.1,406.1 181.4,406.5 181.6,406.3 181.9,406.4 182.1,406 182.4,406.2 182.7,406.1 182.9,405.8 183.2,405.5 183.4,405.1 183.7,404.8 183.9,405.2 184.2,405.3 184.4,405 184.7,405.5 185,405.6 185.2,405.9 185.5,406.2 185.7,406 186,406.2 186.2,406 186.5,406.2 186.7,405.9 187,406.1 187.3,406.1 187.5,406.4 187.8,406 188,406.4 188.3,406 188.5,406.5 188.8,406 189,406 189.3,406 189.6,406.5 189.8,406.3 190.1,406.4 190.3,406.2 190.6,406 190.8,406.1 191.1,406.2 191.3,406.5 191.6,406 191.9,406 192.1,406.4 192.4,406 192.6,406.5 192.9,406.1 193.1,406.2 193.4,406.3 193.6,406.4 193.9,405.9 194.2,406.4 194.4,406 194.7,406.3 194.9,405.9 195.2,406.4 195.4,406 195.7,406 195.9,405.9 196.2,406.1 196.5,406.1 196.7,406.5 197,406.3 197.2,406.1 197.5,406.5 197.7,406 198,406 198.2,406.5 198.5,406.5 198.8,406.3 199,406.5 199.3,405.9 199.5,406.4 199.8,406.3 200,406.3 200.3,406.4 200.5,405.9 200.8,405.8 201.1,405.6 201.3,405.6 201.6,405.4 201.8,405 202.1,404.6 202.3,404.7 202.6,404.7 202.8,404.8 203.1,404.6 203.4,405 203.6,405.4 203.9,405.7 204.1,406 204.4,405.9 204.6,406.2 204.9,406.1 205.2,406.1 205.4,406.3 205.7,406.5 205.9,406 206.2,406.1 206.4,406.5 206.7,406 206.9,405.9 207.2,406 207.5,406.4 207.7,406.3 208,406.5 208.2,406.2 208.5,405.9 208.7,406.1 209,406.3 209.2,406.1 209.5,406 209.8,406.1 210,406.2 210.3,406.1 210.5,406.2 210.8,406 211,405.9 211.3,406.4 211.5,406.3 211.8,406.2 212.1,406 212.3,406.1 212.6,406.2 212.8,406.4 213.1,406.2 213.3,406.5 213.6,406.2 213.8,406 214.1,406.3 214.4,406.3 214.6,406.3 214.9,406.3 215.1,405.9 215.4,406.2 215.6,406.4 215.9,406 216.1,405.9 216.4,406 216.7,406.1 216.9,406.2 217.2,406.1 217.4,406.3 217.7,406 217.9,406.1 218.2,406.3 218.4,406.2 218.7,406.5 219,406.5 219.2,406.1 219.5,406.1 219.7,406.2 220,406.2 220.2,406.1 220.5,406.4 220.7,406 221,406.2 221.3,406 221.5,406.4 221.8,406.3 222,406.5 222.3,406 222.5,406.3 222.8,406.3 223,405.9 223.3,406.4 223.6,406.4 223.8,405.9 224.1,406.5 224.3,406.4 224.6,406.3 224.8,406.2 225.1,406.1 225.3,405.9 225.6,406.2 225.9,406.4 226.1,406 226.4,406.1 226.6,405.9 226.9,406 227.1,406 227.4,405.6 227.6,404.8 227.9,404.5 228.2,403.9 228.4,404 228.7,404.3 228.9,404.5 229.2,404.4 229.4,405 229.7,405.2 229.9,405.7 230.2,406.2 230.5,406 230.7,406.4 231,406.5 231.2,406.4 231.5,406 231.7,406.5 232,406.5 232.2,406.5 232.5,405.9 232.8,405.9 233,406.1 233.3,406.2 233.5,406.2 233.8,406 234,406.3 234.3,406.3 234.5,406.3 234.8,406.2 235.1,406.2 235.3,406.3 235.6,405.9 235.8,406.2 236.1,406 236.3,406 236.6,406.4 236.8,406.1 237.1,406.1 237.4,406.1 237.6,406.3 237.9,406 238.1,406.3 238.4,405.9 238.6,406.5 238.9,406 239.1,406.4 239.4,406.2 239.7,406.2 239.9,406.1 240.2,406.1 240.4,406.4 240.7,406.2 240.9,406.2 241.2,406 241.4,406.3 241.7,406 242,406.2 242.2,406.3 242.5,406.2 242.7,406.2 243,406.2 243.2,406 243.5,406.5 243.7,406.3 244,406.3 244.3,406.5 244.5,406.2 244.8,406.1 245,406.1 245.3,406.1 245.5,406.1 245.8,406.1 246.1,406 246.3,406.2 246.6,406.1 246.8,406.1 247.1,406.3 247.3,406.1 247.6,406.4 247.8,406.4 248.1,406.1 248.4,406.4 248.6,406 248.9,406 249.1,406.5 249.4,405.9 249.6,405.9 249.9,406.4 250.1,405.9 250.4,406.3 250.7,406.2 250.9,406 251.2,406 251.4,406.5 251.7,406.1 251.9,406 252.2,406.2 252.4,406.3 252.7,406.1 253,406 253.2,406.4 253.5,406 253.7,405.9 254,405.9 254.2,406.5 254.5,406.2 254.7,406.3 255,406.2 255.3,406.5 255.5,406.1 255.8,406.1 256,406.3 256.3,405.9 256.5,406.1 256.8,406.4 257,406.2 257.3,406.2 257.6,406.5 257.8,406.2 258.1,406.3 258.3,406.1 258.6,406 258.8,406.1 259.1,406 259.3,405.9 259.6,406.1 259.9,406 260.1,406.2 260.4,406.3 260.6,406.4 260.9,406.4 261.1,406.1 261.4,406.3 261.6,406.4 261.9,406.1 262.2,406.4 262.4,406 262.7,406.5 262.9,406.4 263.2,406.5 263.4,406.4 263.7,406.3 263.9,406.2 264.2,406.3 264.5,406.4 264.7,406.2 265,406.3 265.2,406.5 265.5,406.1 265.7,406.1 266,405.9 266.2,406.4 266.5,406.3 266.8,406.3 267,406 267.3,406 267.5,406.2 267.8,406.4 268,406.1 268.3,406.2 268.5,406.2 268.8,406.4 269.1,406 269.3,406.4 269.6,405.9 269.8,406.3 270.1,406.4 270.3,406.2 270.6,406.3 270.8,406.1 271.1,406 271.4,406.1 271.6,406.1 271.9,406.3 272.1,406.2 272.4,406.3 272.6,406.5 272.9,406.4 273.1,406.4 273.4,406.5 273.7,406.5 273.9,406.3 274.2,406.1 274.4,406.2 274.7,406.4 274.9,406.4 275.2,406.4 275.4,406.3 275.7,406.3 276,406.1 276.2,406.3 276.5,406 276.7,406.3 277,406 277.2,405.9 277.5,406.5 277.7,406.4 278,406.1 278.3,405.9 278.5,406.4 278.8,406.4 279,406 279.3,406.4 279.5,406.4 279.8,406.2 280,406.1 280.3,405.9 280.6,405.9 280.8,406.2 281.1,406.3 281.3,406.3 281.6,406 281.8,406.4 282.1,405.9 282.3,406.3 282.6,406 282.9,405.9 283.1,406 283.4,406.4 283.6,406 283.9,405.9 284.1,406.2 284.4,406.1 284.6,406.2 284.9,406.2 285.2,406.3 285.4,406.4 285.7,406.1 285.9,406.3 286.2,406 286.4,406 286.7,406 286.9,406.4 287.2,406.1 287.5,406.3 287.7,406.4 288,406 288.2,405.8 288.5,405.8 288.7,405.8 289,405.5 289.3,405.1 289.5,405.3 289.8,404.9 290,404.7 290.3,404.3 290.5,403.9 290.8,403.6 291,403.3 291.3,402.9 291.6,403.1 291.8,403.2 292.1,402.8 292.3,403.1 292.6,403.4 292.8,403.9 293.1,404.5 293.3,404.7 293.6,405.2 293.9,405.2 294.1,405.6 294.4,405.6 294.6,406 294.9,405.8 295.1,405.8 295.4,406.1 295.6,406.2 295.9,406.4 296.2,406.1 296.4,406.4 296.7,406.4 296.9,406 297.2,406.4 297.4,406.5 297.7,406.5 297.9,406.3 298.2,406.1 298.5,406.2 298.7,406.3 299,406.3 299.2,406 299.5,406.4 299.7,406.2 300,405.9 300.2,406.1 300.5,405.9 300.8,406.2 301,406 301.3,406.2 301.5,406.1 301.8,406.4 302,406.4 302.3,406 302.5,406.4 302.8,406.2 303.1,406.1 303.3,406.4 303.6,405.9 303.8,406.1 304.1,406.3 304.3,406 304.6,406.2 304.8,406.4 305.1,406.1 305.4,406.3 305.6,406 305.9,406.5 306.1,406.5 306.4,406 306.6,406.4 306.9,406.1 307.1,405.9 307.4,406 307.7,406.3 307.9,406.2 308.2,406.2 308.4,406 308.7,406 308.9,406.1 309.2,406.2 309.4,406.4 309.7,406.2 310,406.1 310.2,406.4 310.5,406.3 310.7,406.4 311,406.4 311.2,406.2 311.5,406.1 311.7,406 312,406.3 312.3,406.3 312.5,406.4 312.8,406.5 313,406.2 313.3,406.2 313.5,406.5 313.8,406 314,406.1 314.3,406.2 314.6,406.3 314.8,406.3 315.1,406 315.3,406.2 315.6,406 315.8,406.1 316.1,406 316.3,406.1 316.6,406.3 316.9,406.1 317.1,406 317.4,406.2 317.6,406.3 317.9,406.1 318.1,406.1 318.4,406.2 318.6,406.3 318.9,405.9 319.2,406.3 319.4,405.9 319.7,406.4 319.9,406 320.2,406.4 320.4,405.9 320.7,406.2 320.9,406 321.2,406.3 321.5,406.3 321.7,405.8 322,405.5 322.2,405.4 322.5,404.5 322.7,403.4 323,402.2 323.2,401 323.5,400.2 323.8,399.6 324,399.7 324.3,400.7 324.5,402.2 324.8,403.3 325,404.4 325.3,405.3 325.5,405.6 325.8,405.8 326.1,406.3 326.3,405.9 326.6,406.3 326.8,406 327.1,406.3 327.3,406.2 327.6,406.4 327.9,405.9 328.1,406.3 328.4,406.4 328.6,405.9 328.9,406.3 329.1,406.1 329.4,406.3 329.6,406.5 329.9,405.9 330.2,406.1 330.4,406.2 330.7,406.5 330.9,406.5 331.2,405.9 331.4,406 331.7,406.1 331.9,406.4 332.2,406.4 332.5,406.2 332.7,406.5 333,406.4 333.2,406.4 333.5,406.3 333.7,406.1 334,406.3 334.2,406.3 334.5,406.5 334.8,406 335,405.9 335.3,406.1 335.5,406.1 335.8,406.1 336,405.9 336.3,406.3 336.5,406.2 336.8,406.1 337.1,406 337.3,406.2 337.6,406 337.8,406.4 338.1,406.1 338.3,406.4 338.6,406 338.8,406.1 339.1,406.4 339.4,406.2 339.6,406.2 339.9,406.4 340.1,406 340.4,406.4 340.6,406.2 340.9,406.1 341.1,406.1 341.4,406.1 341.7,406.3 341.9,406.1 342.2,406.1 342.4,405.9 342.7,405.4 342.9,403.6 343.2,399.9 343.4,393.5 343.7,383 344,368.4 344.2,351 344.5,335 344.7,324.5 345,322.3 345.2,329.8 345.5,344.4 345.7,361.4 346,377.7 346.3,389.6 346.5,397.6 346.8,402.5 347,404.7 347.3,405.9 347.5,406.3 347.8,406.1 348,406.2 348.3,406.3 348.6,406.2 348.8,406.3 349.1,406.1 349.3,406.4 349.6,406.4 349.8,406.4 350.1,406.3 350.3,406.4 350.6,406.1 350.9,406.5 351.1,406 351.4,406 351.6,406.2 351.9,406 352.1,406.1 352.4,406.3 352.6,406 352.9,406.1 353.2,406.1 353.4,406.5 353.7,405.9 353.9,406.2 354.2,406.2 354.4,406 354.7,406.1 354.9,406.1 355.2,406.1 355.5,406.2 355.7,406.2 356,406.2 356.2,406.2 356.5,406.3 356.7,406.2 357,406 357.2,406.3 357.5,406.1 357.8,406.4 358,406 358.3,406.2 358.5,406.1 358.8,406.3 359,406.4 359.3,406.3 359.5,406.2 359.8,406.5 360.1,406 360.3,406.5 360.6,406.2 360.8,406.3 361.1,406 361.3,405.9 361.6,406 361.8,406.2 362.1,406 362.4,406.4 362.6,406 362.9,406.3 363.1,406.4 363.4,406.3 363.6,406.5 363.9,406.4 364.1,406.4 364.4,405.9 364.7,406.2 364.9,406.1 365.2,406.2 365.4,406.3 365.7,406.3 365.9,406 366.2,406 366.4,405.9 366.7,406.3 367,406.4 367.2,406 367.5,406 367.7,406 368,406.5 368.2,405.9 368.5,406.2 368.8,406.4 369,406 369.3,406.3 369.5,406.1 369.8,406.3 370,406.2 370.3,406 370.5,406.4 370.8,406.2 371.1,406.5 371.3,406.3 371.6,406.5 371.8,406.3 372.1,405.9 372.3,405.9 372.6,406.5 372.8,406.3 373.1,406.4 373.4,406.4 373.6,406.1 373.9,406.3 374.1,406.3 374.4,405.9 374.6,406.2 374.9,406.5 375.1,406.2 375.4,406.4 375.7,405.9 375.9,406.1 376.2,406.2 376.4,406.2 376.7,406.4 376.9,406.2 377.2,406.2 377.4,406.2 377.7,406.3 378,406.2 378.2,406.1 378.5,406.1 378.7,406.4 379,406.1 379.2,406.3 379.5,406.1 379.7,406.5 380,406 380.3,406.2 380.5,406.1 380.8,406.4 381,406.3 381.3,406.1 381.5,406 381.8,406.3 382,406.2 382.3,406 382.6,406 382.8,406.3 383.1,406.3 383.3,406.4 383.6,405.9 383.8,406.2 384.1,406 384.3,406.2 384.6,406 384.9,406 385.1,406.2 385.4,406 385.6,406.4 385.9,406 386.1,406.1 386.4,406.4 386.6,406.1 386.9,406.1 387.2,406.4 387.4,406.2 387.7,406.4 387.9,406.4 388.2,406.5 388.4,406 388.7,406.1 388.9,406.2 389.2,406.1 389.5,406.4 389.7,406.1 390,406.5 390.2,405.9 390.5,406.2 390.7,406.3 391,406.4 391.2,406.2 391.5,406.4 391.8,406.1 392,406.1 392.3,406 392.5,406 392.8,406.2 393,406.3 393.3,406 393.5,406.2 393.8,406.2 394.1,406.5 394.3,406.2 394.6,406.4 394.8,406 395.1,406.4 395.3,405.9 395.6,406 395.8,406.3 396.1,406.2 396.4,406.2 396.6,406.2 396.9,406 397.1,406.1 397.4,405.8 397.6,405.7 397.9,405.6 398.1,405.2 398.4,405.2 398.7,405.1 398.9,405 399.2,404.3 399.4,404.5 399.7,404.3 399.9,404.4 400.2,404.7 400.4,405.1 400.7,404.9 401,405.6 401.2,405.8 401.5,406 401.7,406 402,405.8 402.2,406.2 402.5,406.2 402.7,406 403,406.4 403.3,406.1 403.5,406.4 403.8,406.4 404,406.1 404.3,406 404.5,406.4 404.8,406 405,406 405.3,406.4 405.6,406 405.8,406.1 406.1,406.1 406.3,406.3 406.6,406 406.8,406.1 407.1,405.9 407.3,406.1 407.6,406.3 407.9,406.3 408.1,406.3 408.4,406.4 408.6,405.9 408.9,406.1 409.1,406.3 409.4,406.1 409.6,406.5 409.9,406 410.2,406.5 410.4,406.3 410.7,406.3 410.9,406.5 411.2,406.2 411.4,406.1 411.7,406.2 412,406.3 412.2,406.4 412.5,406.2 412.7,406.2 413,406 413.2,405.8 413.5,405.2 413.7,405.2 414,404.6 414.3,404.1 414.5,403.7 414.8,403.9 415,403.7 415.3,404 415.5,404.5 415.8,404.7 416,405.1 416.3,405.3 416.6,405.7 416.8,406.2 417.1,405.9 417.3,406 417.6,406 417.8,406.3 418.1,406.3 418.3,406 418.6,406.4 418.9,405.9 419.1,406 419.4,406 419.6,406.4 419.9,405.9 420.1,406.3 420.4,406 420.6,406.1 420.9,406 421.2,406.4 421.4,406.1 421.7,406.5 421.9,406.3 422.2,406.2 422.4,406.2 422.7,406.2 422.9,406.2 423.2,406.5 423.5,406 423.7,406 424,406.5 424.2,406.3 424.5,406.3 424.7,406.2 425,405.9 425.2,406 425.5,406.4 425.8,406.1 426,406.3 426.3,406.2 426.5,406 426.8,405.9 427,405.9 427.3,406.3 427.5,406 427.8,406.2 428.1,406.2 428.3,406.4 428.6,406 428.8,406.2 429.1,406.4 429.3,406.3 429.6,406.2 429.8,406.3 430.1,406.4 430.4,406.4 430.6,406.2 430.9,406 431.1,406 431.4,406.3 431.6,406.3 431.9,406.2 432.1,406.3 432.4,406 432.7,406.1 432.9,406.1 433.2,406.3 433.4,406.5 433.7,406.1 433.9,406 434.2,406.1 434.4,406.4 434.7,406.5 435,405.9 435.2,406.1 435.5,406.2 435.7,406.4 436,406.2 436.2,406.2 436.5,406.5 436.7,406.3 437,406.4 437.3,406.4 437.5,406.5 437.8,406.3 438,406.4 438.3,406.2 438.5,406.3 438.8,406.5 439,406.5 439.3,406.4 439.6,406.3 439.8,406.2 440.1,406.2 440.3,406.1 440.6,406.5 440.8,406.3 441.1,406.4 441.3,406.3 441.6,406 441.9,406.2 442.1,406.1 442.4,406.5 442.6,406.3 442.9,406.1 443.1,406.2 443.4,406.4 443.6,406.2 443.9,406.3 444.2,406.1 444.4,406.2 444.7,406.4 444.9,406 445.2,406.3 445.4,406.4 445.7,406.5 445.9,406.2 446.2,406.3 446.5,406.5 446.7,406.4 447,406.4 447.2,406.2 447.5,406 447.7,406.4 448,406 448.2,406.3 448.5,406.1 448.8,406.4 449,406.3 449.3,406.2 449.5,406.2 449.8,406.1 450,406.5 450.3,406.2 450.6,406.5 450.8,406 451.1,405.9 451.3,406 451.6,406.1 451.8,406.5 452.1,406 452.3,406.2 452.6,406.4 452.9,406.1 453.1,406.1 453.4,406 453.6,405.9 453.9,406.2 454.1,406.2 454.4,406 454.6,406.2 454.9,406.2 455.2,406.3 455.4,406 455.7,406 455.9,406.4 456.2,406.3 456.4,406.4 456.7,406.1 456.9,406.2 457.2,406.1 457.5,406.3 457.7,406.5 458,406.2 458.2,406.2 458.5,406.3 458.7,406.2 459,406.1 459.2,405.9 459.5,406.4 459.8,406.2 460,406.4 460.3,406.1 460.5,406.4 460.8,406.4 461,406 461.3,406.4 461.5,405.9 461.8,406.3 462.1,406.4 462.3,406.3 462.6,406.1 462.8,406.1 463.1,406 463.3,406.4 463.6,406.3 463.8,406.4 464.1,406.2 464.4,406.2 464.6,406.5 464.9,406.5 465.1,406.3 465.4,406.3 465.6,406.4 465.9,406.1 466.1,406.1 466.4,406.4 466.7,406.3 466.9,406.4 467.2,406.3 467.4,406.1 467.7,406 467.9,406.4 468.2,406.4 468.4,406.2 468.7,406.1 469,406.4 469.2,406 469.5,406 469.7,406.2 470,406.2 470.2,406.4 470.5,405.9 470.7,406.5 471,406.1 471.3,406.2 471.5,405.9 471.8,406.1 472,406.2 472.3,406.5 472.5,406 472.8,406 473,406.4 473.3,406.5 473.6,406.2 473.8,406.2 474.1,406.4 474.3,406.2 474.6,406.2 474.8,406.2 475.1,406 475.3,406.1 475.6,406.1 475.9,405.9 476.1,406.2 476.4,406.4 476.6,406.4 476.9,406 477.1,406.1 477.4,406.4 477.6,406.5 477.9,406.1 478.2,406 478.4,406.4 478.7,406.1 478.9,406.3 479.2,406.5 479.4,406.1 479.7,406.1 479.9,406.2 480.2,406 480.5,406.2 480.7,406.2 481,406.2 481.2,406.3 481.5,406.3 481.7,406.2 482,406.4 482.2,406 482.5,406 482.8,406.1 483,406 483.3,406.4 483.5,406.4 483.8,406.4 484,406.1 484.3,406.4 484.5,406.5 484.8,406.4 485.1,406.4 485.3,406.3 485.6,405.9 485.8,406.1 486.1,406.1 486.3,406.2 486.6,406.2 486.8,406.5 487.1,406.1 487.4,406.5 487.6,406 487.9,406.4 488.1,406.1 488.4,406.2 488.6,406.3 488.9,405.9 489.1,406.2 489.4,406.3 489.7,406.1 489.9,406 490.2,406.3 490.4,406.1 490.7,406 490.9,406 491.2,406.2 491.4,406.2 491.7,406.1 492,406 492.2,406 492.5,406.3 492.7,406.1 493,406 493.2,406.4 493.5,406.2 493.8,406.1 494,406.5 494.3,406.2 494.5,406 494.8,406.2 495,406.1 495.3,406.4 495.5,406.4 495.8,405.9 496.1,406 496.3,406.3 496.6,406.2 496.8,406.1 497.1,406.2 497.3,406 497.6,406.2 497.8,406.2 498.1,406.5 498.4,406.3 498.6,406.2 498.9,405.9 499.1,406.2 499.4,406.2 499.6,406.3 499.9,406.1 500.1,406.5 500.4,406.3 500.7,406.3 500.9,406.5 501.2,406.5 501.4,406 501.7,406.4 501.9,406.2 502.2,406.3 502.4,405.9 502.7,405.9 503,406.4 503.2,406.1 503.5,406.5 503.7,406.5 504,406.2 504.2,406.3 504.5,406.3 504.7,406.2 505,406.4 505.3,406.5 505.5,406.1 505.8,406.1 506,406.1 506.3,405.9 506.5,406 506.8,406 507,406.3 507.3,406 507.6,406.3 507.8,406.5 508.1,406.1 508.3,406.5 508.6,406.1 508.8,406.1 509.1,406 509.3,406 509.6,406.1 509.9,406.4 510.1,406.3 510.4,406 510.6,405.9 510.9,405.9 511.1,406.1 511.4,406.2 511.6,405.9 511.9,406 512.2,406.3 512.4,406 512.7,405.9 512.9,406.4 513.2,405.9 513.4,406.3 513.7,405.9 513.9,406.4 514.2,406.2 514.5,406.1 514.7,406 515,406.4 515.2,406.2 515.5,406.2 515.7,406.1 516,406 516.2,406.1 516.5,406.1 516.8,406.3 517,406.4 517.3,406.4 517.5,406.1 517.8,406.1 518,406.5 518.3,406.2 518.5,406.2 518.8,405.9 519.1,406.4 519.3,406.2 519.6,406 519.8,406.2 520.1,406 520.3,406.1 520.6,406.1 520.8,406.2 521.1,406.1 521.4,406 521.6,406.4 521.9,406.2 522.1,406.1 522.4,406.3 522.6,406 522.9,406.1 523.1,406.1 523.4,406.2 523.7,406.4 523.9,406.2 524.2,406.1 524.4,406.3 524.7,406.4 524.9,406.1 525.2,406.3 525.4,406.1 525.7,405.9 526,405.9 526.2,405.9 526.5,406.1 526.7,406 527,406.2 527.2,406.3 527.5,406.2 527.7,406.3 528,406.1 528.3,406 528.5,406.4 528.8,406.2 529,406 529.3,406.1 529.5,406.4 529.8,405.9 530,406.4 530.3,406 530.6,406.4 530.8,406.2 531.1,406 531.3,406.1 531.6,406.1 531.8,406.3 532.1,406.4 532.4,406.4 532.6,406 532.9,406.2 533.1,406.4 533.4,406 533.6,406.4 533.9,406 534.1,406.3 534.4,406.2 534.7,406.2 534.9,406.4 535.2,406 535.4,406.1 535.7,406.5 535.9,406.3 536.2,406.4 536.4,406 536.7,406.1 537,406.2 537.2,406.4 537.5,406.2 537.7,405.9 538,406.2 538.2,406.4 538.5,406.4 538.7,406 539,406.1 539.3,406.4 539.5,406.3 539.8,406.3 540,406 540.3,406.2 540.5,406.2 540.8,406.2 541,406.2 541.3,406 541.6,406.4 541.8,406.2 542.1,406 542.3,406.3 542.6,406.1 542.8,406 543.1,406.2 543.3,405.9 543.6,406.5 543.9,406.2 544.1,406.1 544.4,406.5 544.6,406.2 544.9,405.9 545.1,406.3 545.4,405.9 545.6,406.1 545.9,406.2 546.2,406.3 546.4,406.5 546.7,406.4 546.9,406 547.2,406.2 547.4,406 547.7,406.3 547.9,406.2 548.2,406.3 548.5,405.9 548.7,406.2 549,406.2 549.2,405.9 549.5,406.3 549.7,406.5 550,406.3 550.2,406.5 550.5,406 550.8,406.3 551,406.2 551.3,406.2 551.5,406.4 551.8,406.1 552,406 552.3,406.3 552.5,406.4 552.8,406.1 553.1,406.3 553.3,406 553.6,406.5 553.8,406.5 554.1,405.9 554.3,406.3 554.6,406.5 554.8,406.2 555.1,405.9 555.4,406.3 555.6,406.2 555.9,406.1 556.1,405.9 556.4,406 556.6,406.4 556.9,406.2 557.1,406.2 557.4,406.3 557.7,406.1 557.9,406.4 558.2,406.3 558.4,405.9 558.7,406.3 558.9,405.9 559.2,406.2 559.4,406.5 559.7,406.4 560,406.1 560.2,406.5 560.5,406 560.7,406.3 561,406.4 561.2,405.9 561.5,406.1 561.7,406.2 562,406.5 562.3,406 562.5,406.2 562.8,406.4 563,406 563.3,406.4 563.5,406.3 563.8,406.4 564,406.1 564.3,406.3 564.6,406 564.8,406.1 565.1,406.4 565.3,406 565.6,406.2 565.8,406 566.1,406.4 566.3,406.3 566.6,406 566.9,406.4 567.1,406.3 567.4,406.3 567.6,405.9 567.9,406.4 568.1,406.3 568.4,406.1 568.6,405.9 568.9,406.4 569.2,406 569.4,406.4 569.7,406.3 569.9,406.1 570.2,406.2 570.4,406.1 570.7,406.2 570.9,406.4 571.2,406.2 571.5,406.1 571.7,406.3 572,406.5 572.2,406 572.5,406.2 572.7,406.4 573,406.2 573.2,406 573.5,406 573.8,406.3 574,406.2 574.3,405.9 574.5,406 574.8,406.1 575,406.2 575.3,406.2 575.6,406.1 575.8,406 576.1,406.3 576.3,406.4 576.6,406.1 576.8,406.2 577.1,406.3 577.3,406.1 577.6,406.4 577.9,405.9 578.1,406.1 578.4,406.2 578.6,406 578.9,405.9 579.1,406.3 579.4,406.2 579.6,406.3 579.9,406.4 580.2,406.1 580.4,406.4 580.7,406.4 580.9,406.5 581.2,406.1 581.4,405.9 581.7,406.4 581.9,406 582.2,405.9 582.5,406.3 582.7,406.3 583,406.3 583.2,406 583.5,406.3 583.7,406 584,406.2 584.2,406.3 584.5,406.1 584.8,406.1 585,406.4 585.3,406.3 585.5,406.4 585.8,405.9 586,406.4 586.3,406 586.5,406.1 586.8,406.3 587.1,406.4 587.3,406.3 587.6,406.2 587.8,406.2 588.1,406.3 588.3,406 588.6,406.1 588.8,406.2 589.1,406 589.4,406.2 589.6,406.3 589.9,405.9 590.1,406.1 590.4,406.5 590.6,406.4 590.9,406 591.1,406.4 591.4,406.5 591.7,406.3 591.9,406 592.2,406.2 592.4,406 592.7,406.2 592.9,406 593.2,406.1 593.4,406 593.7,406.3 594,406.1 594.2,406.4 594.5,406.4 594.7,406 595,406.3 595.2,406.2 595.5,405.8 595.7,406 596,405.3 596.3,405.2 596.5,405.1 596.8,404.9 597,404.8 597.3,404.4 597.5,404.4 597.8,404.6 598,404.8 598.3,404.7 598.6,405.1 598.8,405.6 599.1,405.7 599.3,405.6 599.6,406.2 599.8,406 600.1,405.9 600.3,406.1 600.6,405.9 600.9,406.4 601.1,406 601.4,405.9 601.6,406.5 601.9,406.1 602.1,406.3 602.4,406.1 602.6,406.1 602.9,406.5 603.2,406.3 603.4,406.1 603.7,406.4 603.9,406.4 604.2,406.4 604.4,406.2 604.7,406.2 604.9,406.4 605.2,406.2 605.5,406.1 605.7,406.3 606,406.3 606.2,406.2 606.5,405.9 606.7,406.5 607,406 607.2,406.3 607.5,406.1 607.8,405.9 608,406 608.3,406.1 608.5,405.9 608.8,406 609,406.2 609.3,406.1 609.5,405.9 609.8,406.1 610.1,406 610.3,406.4 610.6,406.5 610.8,406.4 611.1,406.4 611.3,406.2 611.6,406 611.8,406.3 612.1,406 612.4,406.5 612.6,406 612.9,406.2 613.1,406.3 613.4,406 613.6,406.3 613.9,406.2 614.1,406.3 614.4,406.2 614.7,406.4 614.9,406 615.2,406 615.4,406.3 615.7,406 615.9,406.1 616.2,406.3 616.5,406 616.7,406.1 617,406.3 617.2,406 617.5,406.1 617.7,406.2 618,406.4 618.2,406.2 618.5,406.4 618.8,406.2 619,406 619.3,406.4 619.5,406.2 619.8,406 620,406.2 620.3,406.2 620.5,405.9 620.8,406.1 621.1,406 621.3,406.1 621.6,406.1 621.8,406.5 622.1,405.9 622.3,406.1 622.6,405.9 622.8,406.1 623.1,406.1 623.4,406.1 623.6,406 623.9,406.1 624.1,406.4 624.4,406.4 624.6,406.2 624.9,406.2 625.1,406 625.4,406.5 625.7,405.9 625.9,406.2 626.2,406.2 626.4,406.2 626.7,406.5 626.9,406.3 627.2,406 627.4,406 627.7,406.3 628,405.9 628.2,406.1 628.5,406.4 628.7,406.2 629,406.5 629.2,406.2 629.5,406.1 629.7,406 630,406.2 630.3,406.2 630.5,406.3 630.8,406.3 631,406.4 631.3,406.2 631.5,406.2 631.8,406 632,406.3 632.3,406.1 632.6,406.2 632.8,406.3 633.1,406.2 633.3,406 633.6,406.3 633.8,406 634.1,406.4 634.3,406.5 634.6,406.5 634.9,406.2 635.1,406.1 635.4,406.2 635.6,406.4 635.9,406 636.1,406.3 636.4,406.1 636.6,406.1 636.9,405.9 637.2,406.3 637.4,406.1 637.7,406.2 637.9,406.2 638.2,406.4 638.4,406.3 638.7,406.3 638.9,406.5 639.2,406.4 639.5,406 639.7,406.4 640,406.4 640.2,406 640.5,406.1 640.7,406.4 641,406.4 641.2,405.9 641.5,406.4 641.8,406.4 642,406.2 642.3,406 642.5,406 642.8,406 643,406.4 643.3,406.4 643.5,406.1 643.8,406.3 644.1,406.4 644.3,406.1 644.6,406.4 644.8,406.3 645.1,405.9 645.3,406.1 645.6,406.1 645.8,406 646.1,406.3 646.4,406.2 646.6,406.5 646.9,406.2 647.1,406.2 647.4,406.4 647.6,405.9 647.9,406.1 648.1,406.4 648.4,406.3 648.7,406.4 648.9,405.9 649.2,406.4 649.4,406.1 649.7,406.1 649.9,406.1 650.2,406.2 650.4,406.4 650.7,406.3 651,406.3 651.2,406 651.5,406.3 651.7,406.1 652,406.4 652.2,406.3 652.5,406 652.7,406.1 653,406.3 653.3,406.3 653.5,406 653.8,406 654,406.3 654.3,406 654.5,406.2 654.8,406.4 655,406 655.3,405.9 655.6,406.5 655.8,406.4 656.1,406.3 656.3,406.3 656.6,406.4 656.8,406.2 657.1,406.4 657.4,406.5 657.6,406.3 657.9,406.3 658.1,405.9 658.4,406 658.6,406.2 658.9,406.4 659.1,405.9 659.4,406.4 659.7,406.4 659.9,405.9 660.2,406.3 660.4,406.3 660.7,406.1 660.9,406.2 661.2,406 661.4,406.2 661.7,406.4 662,406.2 662.2,406.2 662.5,406.1 662.7,406.3 663,406.2 663.2,406.1 663.5,406.2 663.7,406.3 664,406.5 664.3,406.1 664.5,406 664.8,406 665,406.1 665.3,406.2 665.5,406 665.8,406 666,406.2 666.3,405.9 666.6,406.1 666.8,406.4 667.1,406.1 667.3,406.3 667.6,406.3 667.8,406.3 668.1,406.5 668.3,406.2 668.6,406 668.9,406.3 669.1,406 669.4,406.2 669.6,405.9 669.9,406 670.1,406.1 670.4,406.3 670.6,406.4 670.9,405.9 671.2,406.5 671.4,406.1 671.7,406.1 671.9,405.9 672.2,406.1 672.4,405.9 672.7,406.1 672.9,406.3 673.2,406.2 673.5,406 673.7,406.5 674,406.4 674.2,406.3 674.5,406.1 674.7,406.1 675,405.9 675.2,406.3 675.5,406.3" stroke="#ff0000" stroke-width="1.25" stroke-dasharray="3.7,1.6"/></g><g stroke="#000" stroke-width="0.7"><line x1="66.4" y1="302.0" x2="62.0" y2="407.3"/><line x1="671.0" y1="302.0" x2="675.5" y2="366"/></g><g fill="#000"><circle cx="77.7" cy="39.8" r="3.2"/><circle cx="343.9" cy="312.8" r="3.2"/></g><g stroke="#000" stroke-width="0.85" fill="none"><line x1="62.0" y1="1.2" x2="675.5" y2="1.2" stroke-width="0.65"/><line x1="62.0" y1="407.3" x2="675.5" y2="407.3"/><line x1="62.05" y1="0.9" x2="62.05" y2="407.3"/><line x1="675.8" y1="0.9" x2="675.8" y2="407.3"/></g><g stroke="#000" stroke-width="0.9"><line x1="58.4" y1="407.3" x2="62.0" y2="407.3"/><line x1="58.4" y1="334.8" x2="62.0" y2="334.8"/><line x1="58.4" y1="262.3" x2="62.0" y2="262.3"/><line x1="58.4" y1="189.7" x2="62.0" y2="189.7"/><line x1="58.4" y1="117.2" x2="62.0" y2="117.2"/><line x1="58.4" y1="44.7" x2="62.0" y2="44.7"/><line x1="62" y1="407.3" x2="62" y2="411.3"/><line x1="138.7" y1="407.3" x2="138.7" y2="411.3"/><line x1="215.4" y1="407.3" x2="215.4" y2="411.3"/><line x1="292.1" y1="407.3" x2="292.1" y2="411.3"/><line x1="368.8" y1="407.3" x2="368.8" y2="411.3"/><line x1="445.4" y1="407.3" x2="445.4" y2="411.3"/><line x1="522.1" y1="407.3" x2="522.1" y2="411.3"/><line x1="598.8" y1="407.3" x2="598.8" y2="411.3"/><line x1="675.5" y1="407.3" x2="675.5" y2="411.3"/></g><g font-family="Liberation Serif, serif" font-size="14.3" fill="#2a2a2a"><text x="54.5" y="412.2" text-anchor="end">0</text><text x="54.5" y="339.7" text-anchor="end">5000</text><text x="54.5" y="267.2" text-anchor="end">10000</text><text x="54.5" y="194.6" text-anchor="end">15000</text><text x="54.5" y="122.1" text-anchor="end">20000</text><text x="54.5" y="49.6" text-anchor="end">25000</text><text x="62" y="424.2" text-anchor="middle">30</text><text x="138.7" y="424.2" text-anchor="middle">40</text><text x="215.4" y="424.2" text-anchor="middle">50</text><text x="292.1" y="424.2" text-anchor="middle">60</text><text x="368.8" y="424.2" text-anchor="middle">70</text><text x="445.4" y="424.2" text-anchor="middle">80</text><text x="522.1" y="424.2" text-anchor="middle">90</text><text x="598.8" y="424.2" text-anchor="middle">100</text><text x="675.5" y="424.2" text-anchor="middle">110</text></g><rect x="66.4" y="106.5" width="294.4" height="195.5" fill="#fff"/><g clip-path="url(#cl)" fill="none"><polyline points="65.4,279.5 65.5,286 65.6,280.1 65.6,275.4 65.7,281.5 65.8,273.9 65.9,273.6 66,281.9 66.1,285.7 66.1,280.9 66.2,271.2 66.3,272 66.4,274.2 66.5,276.7 66.6,281.3 66.6,277.7 66.7,277.1 66.8,270.7 66.9,279.6 67,274.2 67,265.7 67.1,261 67.2,262.2 67.3,257 67.4,254.3 67.5,246.5 67.5,233.3 67.6,202.3 67.7,190.4 67.8,157.4 67.9,148.4 68,122.9 68,121.4 68.1,142.7 68.2,159.3 68.3,176.8 68.4,197.2 68.4,214.9 68.5,230 68.6,250.1 68.7,247.7 68.8,250.5 68.9,261.3 68.9,252.4 69,253.9 69.1,260.2 69.2,252.1 69.3,246.1 69.4,242.5 69.4,235.8 69.5,231.3 69.6,210.9 69.7,186.8 69.8,174.4 69.8,145.7 69.9,136.4 70,125.4 70.1,141.6 70.2,153.5 70.3,170.5 70.3,194.2 70.4,213.1 70.5,232.2 70.6,238.4 70.7,245.2 70.8,256.6 70.8,260.9 70.9,267.2 71,258.2 71.1,264 71.2,261.1 71.2,266 71.3,263.5 71.4,270.8 71.5,267.2 71.6,260.3 71.7,258.6 71.7,266.5 71.8,257.9 71.9,263.1 72,260.7 72.1,257.3 72.2,264.8 72.2,264.3 72.3,264.6 72.4,259.3 72.5,265.9 72.6,260.1 72.6,265.5 72.7,262.6 72.8,262.1 72.9,256 73,267 73.1,263.8 73.1,263.8 73.2,260.2 73.3,255.9 73.4,255.2 73.5,260.6 73.6,263.2 73.6,262.1 73.7,256 73.8,262.8 73.9,256.6 74,262.4 74,265.1 74.1,262.4 74.2,259.5 74.3,265.7 74.4,259.6 74.5,259 74.5,261.5 74.6,266.1 74.7,267.6 74.8,258.3 74.9,259.9 75,261.9 75,263.2 75.1,267.8 75.2,263.3 75.3,258.2 75.4,258.6 75.4,265.6 75.5,267.2 75.6,261.8 75.7,262.2 75.8,260 75.9,265.4 75.9,268.4 76,272.6 76.1,263 76.2,260.8 76.3,270.2 76.4,264.7 76.4,270.5 76.5,269.7 76.6,267.1 76.7,274 76.8,274.6 76.8,264.4 76.9,271.1 77,268.1 77.1,274.9 77.2,276 77.3,272.5 77.3,273.6 77.4,272.8 77.5,267.5 77.6,277.7 77.7,272.2 77.8,269.7 77.8,276.9 77.9,267.1 78,273.4 78.1,269.9 78.2,267.5 78.2,269.1 78.3,277.5 78.4,269.3 78.5,277.1 78.6,276.9 78.7,274.5 78.7,269.3 78.8,275.4 78.9,278.4 79,275.8 79.1,276.5 79.1,274.3 79.2,281.6 79.3,281.2 79.4,277 79.5,272.8 79.6,277.1 79.6,270.8 79.7,277.8 79.8,282 79.9,277.9 80,272.2 80.1,277.2 80.1,284.4 80.2,278.2 80.3,277.7 80.4,284.3 80.5,276.2 80.5,280.5 80.6,273.8 80.7,272.4 80.8,275.3 80.9,276.7 81,281 81,282.6 81.1,279.6 81.2,275.3 81.3,278.8 81.4,278.5 81.5,275 81.5,281.7 81.6,280.4 81.7,281.6 81.8,276.4 81.9,284.6 81.9,277.7 82,286.3 82.1,287.4 82.2,275.5 82.3,283.8 82.4,275.2 82.4,279.7 82.5,275.8 82.6,281.7 82.7,283.5 82.8,287.5 82.9,281.3 82.9,281.3 83,277.2 83.1,276.2 83.2,282.2 83.3,282.5 83.3,277.6 83.4,286.3 83.5,287.5 83.6,276.3 83.7,281.6 83.8,279.9 83.8,282.4 83.9,281 84,286.8 84.1,281.9 84.2,281.3 84.3,278.4 84.3,276.6 84.4,286.6 84.5,287.4 84.6,281.8 84.7,283.1 84.7,286.9 84.8,288.3 84.9,286.7 85,282.2 85.1,288.1 85.2,286.8 85.2,282.5 85.3,278.6 85.4,281.6 85.5,285.5 85.6,280.8 85.7,286 85.7,286 85.8,284.6 85.9,290.1 86,286.7 86.1,287.7 86.1,287.2 86.2,283.3 86.3,281 86.4,279.9 86.5,289.3 86.6,284.7 86.6,285.4 86.7,286.3 86.8,279.7 86.9,287.8 87,289.8 87.1,284.5 87.1,284.8 87.2,279.7 87.3,283.9 87.4,286.1 87.5,282.4 87.5,285.7 87.6,287.5 87.7,279.3 87.8,279.7 87.9,288.1 88,289.8 88,279.8 88.1,290.4 88.2,290 88.3,285 88.4,282.2 88.5,290.5 88.5,285 88.6,289.1 88.7,280.8 88.8,284.9 88.9,280.1 88.9,281 89,287.5 89.1,282.7 89.2,284.6 89.3,286 89.4,291 89.4,282.5 89.5,290.4 89.6,287.2 89.7,283 89.8,286.6 89.9,287.4 89.9,282.1 90,291.6 90.1,290.5 90.2,280.7 90.3,285.1 90.3,281.2 90.4,280.9 90.5,288.2 90.6,287.7 90.7,285.9 90.8,284.3 90.8,290.2 90.9,281.7 91,287.7 91.1,282.8 91.2,283.4 91.3,284.8 91.3,292.2 91.4,287 91.5,291.5 91.6,284.9 91.7,291 91.7,281.5 91.8,286.4 91.9,284.2 92,281.5 92.1,288.6 92.2,284.3 92.2,289 92.3,282.4 92.4,289.5 92.5,282.2 92.6,287.6 92.7,292.1 92.7,286.1 92.8,284.6 92.9,285.7 93,291.7 93.1,285.3 93.1,285.4 93.2,285.7 93.3,287.8 93.4,287.6 93.5,287.9 93.6,290.3 93.6,282.4 93.7,287.7 93.8,292.8 93.9,290.9 94,287.9 94.1,282.3 94.1,290.2 94.2,282.4 94.3,283.1 94.4,289.2 94.5,284.1 94.5,287.8 94.6,286.3 94.7,293.2 94.8,287.5 94.9,290.3 95,292.6 95,291.6 95.1,291.9 95.2,291.7 95.3,293.2 95.4,288 95.5,291.4 95.5,286.9 95.6,290.7 95.7,286.4 95.8,284.3 95.9,285.4 95.9,282.6 96,283.3 96.1,291.3 96.2,282.7 96.3,289 96.4,282.5 96.4,284.3 96.5,284.9 96.6,289.2 96.7,284.3 96.8,284.2 96.9,285.9 96.9,292 97,285.3 97.1,293.2 97.2,288.8 97.3,288 97.3,282.8 97.4,291.8 97.5,288.6 97.6,285.5 97.7,290.1 97.8,282.4 97.8,286.7 97.9,290.8 98,284.1 98.1,286.1 98.2,292.6 98.3,289.8 98.3,285.3 98.4,283.9 98.5,282 98.6,292 98.7,282.9 98.7,290.3 98.8,287.4 98.9,293 99,291.7 99.1,290.7 99.2,292 99.2,290.8 99.3,287.2 99.4,282.3 99.5,283.8 99.6,280.5 99.7,284.5 99.7,282.3 99.8,278.1 99.9,280.5 100,282.3 100.1,269.1 100.1,272.6 100.2,264.8 100.3,250.9 100.4,251.9 100.5,241.2 100.6,230.8 100.6,224.8 100.7,224.8 100.8,226.4 100.9,238.6 101,249.4 101.1,255.4 101.1,264.4 101.2,263.2 101.3,274.9 101.4,273.2 101.5,283.9 101.5,277.4 101.6,279.7 101.7,283.7 101.8,290.4 101.9,286.2 102,289.6 102,285.6 102.1,284.3 102.2,289.7 102.3,291 102.4,287.4 102.5,286.2 102.5,283.6 102.6,288.4 102.7,292.1 102.8,284.6 102.9,293.2 102.9,287 103,284.6 103.1,294.4 103.2,291.3 103.3,285.5 103.4,290.4 103.4,284.3 103.5,290 103.6,287.2 103.7,287.6 103.8,284.9 103.8,285.1 103.9,289.8 104,290 104.1,294 104.2,293 104.3,285.1 104.3,287.1 104.4,286.5 104.5,293.2 104.6,290.1 104.7,284.3 104.8,295 104.8,291.4 104.9,291.5 105,288.3 105.1,291.6 105.2,289.3 105.2,288.4 105.3,286 105.4,287.1 105.5,287.8 105.6,284.6 105.7,285.8 105.7,290.9 105.8,288.8 105.9,291.9 106,292.6 106.1,295.3 106.2,293.7 106.2,289.1 106.3,294.3 106.4,290.1 106.5,294.3 106.6,284.9 106.6,294.3 106.7,290.9 106.8,287.7 106.9,285.1 107,289.3 107.1,288.7 107.1,292 107.2,287 107.3,288.7 107.4,285.1 107.5,294.9 107.6,293.8 107.6,293.1 107.7,292.5 107.8,294.2 107.9,292.9 108,290.1 108,284.2 108.1,287.5 108.2,284.8 108.3,293 108.4,288 108.5,284.6 108.5,293.8 108.6,289.4 108.7,294.5 108.8,286.1 108.9,293.8 109,285.8 109,287.5 109.1,285.4 109.2,294.2 109.3,290.1 109.4,292.7 109.4,284.1 109.5,286.2 109.6,292 109.7,283.8 109.8,292.2 109.9,282.6 109.9,284.7 110,283.1 110.1,282.9 110.2,288.2 110.3,285.8 110.4,283.7 110.4,278.8 110.5,280.3 110.6,276.6 110.7,275.7 110.8,265 110.8,252.5 110.9,246.3 111,241.9 111.1,225.7 111.2,214.8 111.3,209.2 111.3,207.3 111.4,197.1 111.5,208.6 111.6,218.2 111.7,220.2 111.8,235.9 111.8,246.4 111.9,254.2 112,265.6 112.1,268.7 112.2,270.1 112.2,273.8 112.3,277.4 112.4,285.2 112.5,286.9 112.6,284.8 112.7,286.6 112.7,281.5 112.8,289.2 112.9,291.3 113,282.2 113.1,287.3 113.2,285.8 113.2,284 113.3,289.5 113.4,292 113.5,285.4 113.6,284.5 113.6,290.7 113.7,287 113.8,285.3 113.9,286.3 114,286.3 114.1,293.4 114.1,285.4 114.2,288.6 114.3,295 114.4,290.1 114.5,295.3 114.6,289.8 114.6,285.6 114.7,294.5 114.8,289.3 114.9,289.7 115,285.7 115,293.3 115.1,287.8 115.2,291.2 115.3,290.3 115.4,289.3 115.5,295.7 115.5,286 115.6,292.3 115.7,289.2 115.8,294.6 115.9,294.8 116,289.8 116,289.6 116.1,288 116.2,287.6 116.3,287.5 116.4,288 116.4,289 116.5,296 116.6,294.7 116.7,289.8 116.8,292.9 116.9,287.4 116.9,288.5 117,295.3 117.1,288.6 117.2,287.4 117.3,289.5 117.4,293.2 117.4,286.1 117.5,289.8 117.6,294.8 117.7,293.6 117.8,286.3 117.8,288.1 117.9,287.2 118,285.9 118.1,289.8 118.2,286.8 118.3,287.9 118.3,291.9 118.4,286.9 118.5,291.7 118.6,287.8 118.7,285.5 118.8,285.8 118.8,279.6 118.9,285.4 119,287.9 119.1,283.1 119.2,276.7 119.2,279.7 119.3,280.7 119.4,278 119.5,276.5 119.6,274 119.7,278.3 119.7,279.6 119.8,282.6 119.9,281.8 120,284 120.1,286.1 120.2,285.1 120.2,291.3 120.3,290.2 120.4,288.8 120.5,289.5 120.6,290.6 120.6,290.5 120.7,286.9 120.8,294.9 120.9,288.7 121,288 121.1,292.3 121.1,289.9 121.2,295.7 121.3,292.6 121.4,290.5 121.5,289.1 121.6,295.2 121.6,295.5 121.7,287.8 121.8,289.5 121.9,296.2 122,288.4 122,293.2 122.1,286.5 122.2,290.4 122.3,291.4 122.4,291.9 122.5,292 122.5,296 122.6,289.8 122.7,289.5 122.8,293.2 122.9,295.8 123,287.8 123,291 123.1,289.7 123.2,293.4 123.3,288.2 123.4,288.9 123.4,290.6 123.5,285.9 123.6,285.9 123.7,285.6 123.8,291.4 123.9,284.5 123.9,290.2 124,282.5 124.1,285.8 124.2,282.4 124.3,279.4 124.4,272.3 124.4,273.9 124.5,268 124.6,267 124.7,267 124.8,260.5 124.8,267.7 124.9,264 125,276.6 125.1,272.2 125.2,278.2 125.3,280.7 125.3,288.9 125.4,288 125.5,282.9 125.6,290.8 125.7,285.6 125.8,285.3 125.8,290.1 125.9,288.8 126,294.2 126.1,290 126.2,293.8 126.2,290.3 126.3,291.9 126.4,288.1 126.5,287.8 126.6,289.3 126.7,288.1 126.7,287.2 126.8,288.5 126.9,289.8 127,291.8 127.1,289.7 127.2,287.9 127.2,290.3 127.3,289.1 127.4,297 127.5,295.8 127.6,291.4 127.6,291.3 127.7,292.8 127.8,293.5 127.9,296.6 128,297.1 128.1,295.6 128.1,288 128.2,288.7 128.3,291 128.4,290.6 128.5,287.7 128.5,295.1 128.6,295.4 128.7,294.7 128.8,295.4 128.9,295 129,288.6 129,291.5 129.1,290.1 129.2,287.9 129.3,289.8 129.4,291.2 129.5,295.4 129.5,293.8 129.6,290.3 129.7,290.7 129.8,290.8 129.9,289.6 129.9,292.8 130,289.3 130.1,288.9 130.2,290 130.3,291.4 130.4,292.7 130.4,289.4 130.5,290.5 130.6,288.4 130.7,291.5 130.8,289.4 130.9,294 130.9,289.8 131,296.2 131.1,288.8 131.2,296.4 131.3,292.9 131.3,292.9 131.4,292.5 131.5,294.6 131.6,291.1 131.7,287.2 131.8,292.4 131.8,291.8 131.9,288.8 132,290.3 132.1,288.9 132.2,289 132.3,287.4 132.3,288.9 132.4,282.2 132.5,281.6 132.6,277.6 132.7,269.5 132.7,261 132.8,257.9 132.9,254.2 133,248.5 133.1,241.8 133.2,240.7 133.2,239.5 133.3,236.8 133.4,244.1 133.5,254.7 133.6,256.1 133.7,260.7 133.7,273.3 133.8,273 133.9,282.8 134,283 134.1,287.7 134.1,285.3 134.2,283.4 134.3,292.1 134.4,285.7 134.5,288.8 134.6,291.3 134.6,286.5 134.7,288 134.8,294.4 134.9,288.2 135,289.1 135.1,289.5 135.1,289.2 135.2,293.1 135.3,287.8 135.4,290.9 135.5,287.4 135.5,291.8 135.6,287.5 135.7,291.6 135.8,287.8 135.9,287.3 136,288.1 136,288.4 136.1,283.3 136.2,286.1 136.3,282.1 136.4,279.5 136.5,281.4 136.5,281.2 136.6,278.2 136.7,278.9 136.8,282.6 136.9,279.4 136.9,283.1 137,290.8 137.1,289.7 137.2,286.4 137.3,286.1 137.4,287.7 137.4,288.8 137.5,293.5 137.6,290.6 137.7,293.4 137.8,287.9 137.9,290.5 137.9,285.9 138,288.4 138.1,284.2 138.2,282.5 138.3,282.6 138.3,283.5 138.4,282.2 138.5,279.6 138.6,278 138.7,272.5 138.8,276.6 138.8,276.5 138.9,278.3 139,279.5 139.1,286.9 139.2,283.2 139.3,288.9 139.3,286.7 139.4,292.1 139.5,287.2 139.6,286.8 139.7,295.9 139.7,287.7 139.8,292.7 139.9,289 140,290.9 140.1,289.4 140.2,289.5 140.2,293.1 140.3,295.6 140.4,292.4 140.5,290.6 140.6,293.8 140.7,296.5 140.7,296.5 140.8,297.6 140.9,292.5 141,296.7 141.1,291.5 141.1,296.3 141.2,295.3 141.3,292.6 141.4,291.6 141.5,294.7 141.6,289.3 141.6,289.5 141.7,289.8 141.8,291.8 141.9,294.8 142,297.4 142.1,293.3 142.1,292.3 142.2,295.4 142.3,292 142.4,293 142.5,292.5 142.5,289 142.6,289.1 142.7,293.4 142.8,290.4 142.9,291.7 143,292.6 143,295 143.1,288.2 143.2,295 143.3,296.6 143.4,293.2 143.5,290.3 143.5,292.8 143.6,291.8 143.7,293.9 143.8,287.7 143.9,289 143.9,290.2 144,289.6 144.1,291.7 144.2,294 144.3,287.5 144.4,291.2 144.4,288.8 144.5,288.7 144.6,285.9 144.7,286.7 144.8,276 144.9,279.4 144.9,268.6 145,267.3 145.1,266.3 145.2,251.1 145.3,246.4 145.3,237.1 145.4,228.5 145.5,218.4 145.6,208.1 145.7,208.7 145.8,202.7 145.8,198.8 145.9,209.6 146,215.5 146.1,219 146.2,231.8 146.3,241.2 146.3,242.5 146.4,253.6 146.5,265.7 146.6,269.6 146.7,275.5 146.7,279.3 146.8,281.2 146.9,281.6 147,283.6 147.1,286.7 147.2,288.4 147.2,287.4 147.3,289.2 147.4,288.4 147.5,288.1 147.6,292.9 147.7,289 147.7,294.4 147.8,293.7 147.9,293.1 148,296.5 148.1,292 148.1,290.2 148.2,289.3 148.3,296 148.4,294.8 148.5,293.6 148.6,290.2 148.6,295.8 148.7,289.9 148.8,291.1 148.9,294 149,290.4 149.1,294.6 149.1,297.6 149.2,292.8 149.3,296 149.4,297.2 149.5,292.1 149.5,290 149.6,292.1 149.7,292.1 149.8,294.2 149.9,292.5 150,294.5 150,291.5 150.1,297.6 150.2,294.9 150.3,294.9 150.4,298.3 150.5,292.5 150.5,298.5 150.6,297.2 150.7,294.3 150.8,296.7 150.9,294.8 150.9,293.4 151,298.7 151.1,298.7 151.2,291.1 151.3,291.4 151.4,291.6 151.4,293.2 151.5,291.1 151.6,289.5 151.7,299.2 151.8,298.1 151.9,295.2 151.9,295.2 152,295.3 152.1,295 152.2,296.8 152.3,294.9 152.3,295 152.4,299.2 152.5,291.9 152.6,293.7 152.7,299 152.8,299.1 152.8,298.3 152.9,291 153,296 153.1,296.2 153.2,299 153.2,295.4 153.3,291.2 153.4,298.4 153.5,291.1 153.6,298.1 153.7,295.5 153.7,297.5 153.8,291 153.9,297.9 154,298.2 154.1,293.9 154.2,291.2 154.2,293.3 154.3,295.6 154.4,296.9 154.5,293.1 154.6,292.6 154.6,293.3 154.7,297.8 154.8,293.2 154.9,293.4 155,293.3 155.1,292.7 155.1,293.7 155.2,297.4 155.3,297.9 155.4,291.8 155.5,293.2 155.6,294.7 155.6,294.3 155.7,299 155.8,294.5 155.9,297.9 156,294.1 156,294.4 156.1,296.2 156.2,295.2 156.3,291.3 156.4,294.4 156.5,299 156.5,292.9 156.6,299.4 156.7,294.1 156.8,292.4 156.9,299.2 157,292.3 157,298.7 157.1,299.2 157.2,294.3 157.3,293.5 157.4,291.8 157.4,294.1 157.5,293.8 157.6,292.2 157.7,295.7 157.8,297.6 157.9,299.2 157.9,293 158,293.7 158.1,298.9 158.2,292.4 158.3,295.9 158.4,297.8 158.4,294.9 158.5,298.2 158.6,292.6 158.7,297.5 158.8,294.4 158.8,292.4 158.9,297.2 159,291.1 159.1,297.6 159.2,296.4 159.3,291.2 159.3,291.2 159.4,296 159.5,294.7 159.6,293.4 159.7,298.1 159.8,294.1 159.8,294.4 159.9,298.1 160,298.2 160.1,297.7 160.2,294.4 160.2,292.4 160.3,295.9 160.4,294.5 160.5,297.3 160.6,289.9 160.7,291.5 160.7,292.2 160.8,291.5 160.9,286.2 161,287.1 161.1,288.4 161.2,281.8 161.2,282.5 161.3,283.7 161.4,276.1 161.5,275.8 161.6,272.9 161.6,265.5 161.7,265.8 161.8,265.7 161.9,266.1 162,266.5 162.1,271.1 162.1,271.8 162.2,280.4 162.3,284.7 162.4,285 162.5,287.6 162.6,290.4 162.6,292.1 162.7,288.6 162.8,287.7 162.9,291.1 163,293.9 163,296.9 163.1,290.1 163.2,290.7 163.3,297.2 163.4,291.7 163.5,296.5 163.5,295.5 163.6,296.5 163.7,297.7 163.8,297.1 163.9,295.4 164,296 164,294 164.1,291 164.2,297.4 164.3,296.3 164.4,296.7 164.4,293.6 164.5,292.6 164.6,296.7 164.7,293.8 164.8,298.6 164.9,299 164.9,299.1 165,293.9 165.1,295.5 165.2,291.5 165.3,295.6 165.4,297.3 165.4,292.9 165.5,293.2 165.6,291.8 165.7,294.2 165.8,299 165.8,294.7 165.9,293.2 166,299.1 166.1,294.9 166.2,297.6 166.3,296.6 166.3,298.7 166.4,295.8 166.5,295.7 166.6,297.6 166.7,292.6 166.8,293.6 166.8,297.3 166.9,297.6 167,297.1 167.1,294.9 167.2,295.2 167.2,298.6 167.3,292 167.4,297 167.5,292.4 167.6,296 167.7,294.6 167.7,296.9 167.8,291.8 167.9,292.4 168,294.3 168.1,294.5 168.2,292.2 168.2,298.3 168.3,296.1 168.4,299.3 168.5,293.8 168.6,298.3 168.6,294.7 168.7,298.5 168.8,297.7 168.9,295 169,294.9 169.1,293.9 169.1,294.6 169.2,297.5 169.3,295.1 169.4,295 169.5,298.5 169.6,297.6 169.6,296.7 169.7,293.7 169.8,298.9 169.9,296.6 170,296.5 170,297.4 170.1,299.1 170.2,295.6 170.3,297.3 170.4,296.1 170.5,294.4 170.5,292.7 170.6,291.6 170.7,297.7 170.8,294.2 170.9,296.8 171,297 171,293.1 171.1,295.5 171.2,298.9 171.3,297.2 171.4,296.8 171.4,293.1 171.5,295.1 171.6,292.2 171.7,298 171.8,293.1 171.9,294.1 171.9,295.6 172,294.9 172.1,295.2 172.2,293.4 172.3,291.2 172.4,296 172.4,297.1 172.5,292.6 172.6,293.4 172.7,295.5 172.8,292.7 172.8,297.6 172.9,291.5 173,290.7 173.1,295.8 173.2,293.7 173.3,290 173.3,296.5 173.4,295.2 173.5,292.1 173.6,291 173.7,291.7 173.8,295.5 173.8,293.7 173.9,290.5 174,293.4 174.1,296 174.2,291.5 174.2,294.4 174.3,292.8 174.4,289.9 174.5,288.3 174.6,293.1 174.7,288.4 174.7,290.6 174.8,289.6 174.9,289.8 175,286.6 175.1,281 175.2,287 175.2,284.3 175.3,274.6 175.4,274.6 175.5,276.1 175.6,270.5 175.6,267.2 175.7,264.4 175.8,260 175.9,255.1 176,255 176.1,247.1 176.1,245.9 176.2,240.7 176.3,240.6 176.4,236.5 176.5,232.5 176.5,229.5 176.6,228.9 176.7,229.1 176.8,232.6 176.9,227.2 177,229.6 177,237.3 177.1,237.4 177.2,246.3 177.3,249.1 177.4,251.3 177.5,256.1 177.5,263.5 177.6,265.9 177.7,264.7 177.8,270.3 177.9,271.4 177.9,275.8 178,274.6 178.1,276.3 178.2,281.2 178.3,280.6 178.4,288.6 178.4,288.5 178.5,288.1 178.6,288 178.7,290.5 178.8,289.3 178.9,289 178.9,290.7 179,292.4 179.1,288.1 179.2,290.5 179.3,292.6 179.3,293.4 179.4,295.1 179.5,294.8 179.6,289.2 179.7,290.2 179.8,289.4 179.8,293.1 179.9,292 180,296.2 180.1,294.7 180.2,297.2 180.3,294.4 180.3,296.5 180.4,295.7 180.5,294 180.6,292.1 180.7,297.6 180.7,290.8 180.8,292.2 180.9,297.2 181,298.3 181.1,295.5 181.2,296.3 181.2,291.1 181.3,293.7 181.4,289.1 181.5,293.7 181.6,291.9 181.7,298.1 181.7,294.8 181.8,297 181.9,292.8 182,296.7 182.1,297.8 182.1,292.5 182.2,297.7 182.3,296.9 182.4,296.8 182.5,297.6 182.6,292.3 182.6,291.3 182.7,294.1 182.8,291.5 182.9,295.9 183,291.4 183.1,293.4 183.1,292 183.2,296.3 183.3,292.5 183.4,294.2 183.5,295.7 183.5,294.3 183.6,291.5 183.7,292.8 183.8,291.3 183.9,295.9 184,295.6 184,292.3 184.1,296.9 184.2,296.9 184.3,291.6 184.4,293.6 184.5,297.5 184.5,298.7 184.6,294.4 184.7,297.4 184.8,299.1 184.9,298.2 184.9,296.1 185,298.4 185.1,298.4 185.2,298 185.3,298.9 185.4,294.5 185.4,292.3 185.5,291.7 185.6,293.5 185.7,296.1 185.8,294.8 185.9,299.1 185.9,294.1 186,292.7 186.1,292.8 186.2,293.1 186.3,291.2 186.3,293.4 186.4,296.2 186.5,296.9 186.6,295 186.7,297.9 186.8,294.4 186.8,294.2 186.9,297 187,296.5 187.1,297.3 187.2,292.6 187.3,292.2 187.3,294.2 187.4,296.7 187.5,296.3 187.6,291.3 187.7,291.1 187.7,297.3 187.8,295.1 187.9,293.6 188,294.7 188.1,290.8 188.2,291 188.2,291.5 188.3,297 188.4,291.3 188.5,296.1 188.6,294.6 188.7,297 188.7,297.8 188.8,296.1 188.9,292.2 189,291.8 189.1,293.7 189.1,289.9 189.2,294.2 189.3,297.1 189.4,291.3 189.5,292.8 189.6,291.7 189.6,292.2 189.7,291.9 189.8,295.8 189.9,290.7 190,292.5 190.1,287.9 190.1,291.1 190.2,289.3 190.3,288 190.4,284.2 190.5,287.3 190.5,283.4 190.6,286.8 190.7,284.4 190.8,280 190.9,273.5 191,271.3 191,269 191.1,255.6 191.2,249.6 191.3,240.8 191.4,221.4 191.5,209.6 191.5,196.8 191.6,178.2 191.7,165.4 191.8,151.2 191.9,145.8 191.9,146.8 192,151.5 192.1,164.1 192.2,182 192.3,196 192.4,209.2 192.4,228.9 192.5,239.4 192.6,253 192.7,257.3 192.8,265 192.9,273.3 192.9,276.5 193,278.2 193.1,284.1 193.2,286.7 193.3,287.4 193.3,288.5 193.4,292.3 193.5,290.4 193.6,289.1 193.7,291.6 193.8,289.7 193.8,293.6 193.9,294.4 194,293.1 194.1,290.7 194.2,294.9 194.3,291.1 194.3,289.9 194.4,294.2 194.5,290 194.6,295.5 194.7,296.6 194.7,293.5 194.8,292.2 194.9,292.2 195,290.3 195.1,296.6 195.2,291.8 195.2,291 195.3,293.9 195.4,295.3 195.5,290.8 195.6,293.5 195.7,293.6 195.7,297.7 195.8,291.8 195.9,291.6 196,291.7 196.1,294.2 196.1,298.9 196.2,298.2 196.3,297.1 196.4,294.9 196.5,296.5 196.6,295.4 196.6,295.3 196.7,296.7 196.8,297.5 196.9,292 197,291.7 197.1,299 197.1,294.8 197.2,295.8 197.3,297.6 197.4,298.1 197.5,291.4 197.5,292.1 197.6,291.9 197.7,297.5 197.8,296.7 197.9,295.5 198,295.1 198,296.8 198.1,292.4 198.2,295.6 198.3,291.3 198.4,297.9 198.5,292.5 198.5,299 198.6,297.2 198.7,298.6 198.8,292 198.9,292.8 198.9,298.2 199,291.8 199.1,292.7 199.2,296.4 199.3,294 199.4,294.1 199.4,293.9 199.5,295.8 199.6,294.5 199.7,290.2 199.8,292.6 199.9,290.1 199.9,296.9 200,289.4 200.1,291.9 200.2,289.8 200.3,295.2 200.3,289.7 200.4,288.2 200.5,289.7 200.6,293.9 200.7,288.8 200.8,293.2 200.8,289.3 200.9,289.4 201,292.7 201.1,292.6 201.2,290.7 201.2,293.2 201.3,293.4 201.4,291.7 201.5,287.4 201.6,291.5 201.7,286.3 201.7,291.4 201.8,284.8 201.9,286.6 202,291.7 202.1,290.6 202.2,285.9 202.2,286.6 202.3,284.4 202.4,287.2 202.5,287.1 202.6,284.6 202.6,286.7 202.7,287.1 202.8,284.6 202.9,286.6 203,284.6 203.1,284.7 203.1,287.6 203.2,288.2 203.3,291.4 203.4,289.2 203.5,291.5 203.6,292.1 203.6,293.1 203.7,291.6 203.8,290.7 203.9,290.9 204,293.8 204,293.2 204.1,292.2 204.2,288.1 204.3,290.9 204.4,289.5 204.5,289.5 204.5,292.5 204.6,291.3 204.7,289.1 204.8,295.1 204.9,295.7 205,290.3 205,295.6 205.1,297.4 205.2,290.4 205.3,293 205.4,297.5 205.4,291.5 205.5,292.8 205.6,291.6 205.7,294.1 205.8,294.4 205.9,298.6 205.9,298.4 206,293 206.1,294.9 206.2,296.1 206.3,299.3 206.4,291.5 206.4,293.1 206.5,298.2 206.6,293.3 206.7,297.8 206.8,293.6 206.8,299.2 206.9,297.2 207,297.5 207.1,295.6 207.2,295.7 207.3,294.1 207.3,292.6 207.4,293.1 207.5,299.1 207.6,298.8 207.7,298.1 207.8,295.8 207.8,297.1 207.9,297.8 208,291.6 208.1,294.9 208.2,298.8 208.2,296.1 208.3,296.1 208.4,295.4 208.5,297.2 208.6,296.1 208.7,290.9 208.7,294.1 208.8,287.5 208.9,289 209,287.8 209.1,290.4 209.2,287 209.2,286.8 209.3,285.2 209.4,281.3 209.5,282.2 209.6,280.9 209.6,279.5 209.7,279.9 209.8,279.7 209.9,275.7 210,279.6 210.1,280.7 210.1,277.5 210.2,284.1 210.3,285.6 210.4,288.6 210.5,287.6 210.6,287.2 210.6,289.2 210.7,290.5 210.8,293.7 210.9,291.3 211,290.4 211,293.2 211.1,292.9 211.2,292 211.3,291.3 211.4,297.9 211.5,294.8 211.5,293.2 211.6,291.6 211.7,293.5 211.8,297.4 211.9,296.1 212,297.3 212,292.5 212.1,298.2 212.2,297.7 212.3,296.1 212.4,296.4 212.4,299.3 212.5,293.8 212.6,294.7 212.7,297 212.8,293.4 212.9,296.6 212.9,297 213,299.7 213.1,299.1 213.2,298.4 213.3,296.4 213.4,292.6 213.4,292.8 213.5,294.3 213.6,292.3 213.7,298.4 213.8,293.8 213.8,292.2 213.9,299.3 214,292.8 214.1,297.5 214.2,298 214.3,295.2 214.3,294.1 214.4,299 214.5,298.1 214.6,291.5 214.7,297.9 214.8,296.6 214.8,293.2 214.9,296.8 215,299.6 215.1,293.8 215.2,291.7 215.2,295.3 215.3,299.5 215.4,298.5 215.5,291.2 215.6,298.9 215.7,297.5 215.7,297.4 215.8,297.7 215.9,293.2 216,299.3 216.1,296.3 216.2,294.9 216.2,292.5 216.3,292.3 216.4,294.8 216.5,294.8 216.6,295.4 216.6,297.2 216.7,296.2 216.8,295.5 216.9,294 217,293.9 217.1,296.8 217.1,296.2 217.2,299.5 217.3,293.7 217.4,295.8 217.5,296.4 217.6,297.5 217.6,292.3 217.7,299.4 217.8,299 217.9,299.8 218,297.7 218,292.6 218.1,292.6 218.2,296.8 218.3,292.8 218.4,293 218.5,296.7 218.5,298.3 218.6,293 218.7,293.1 218.8,292.1 218.9,297.3 219,295.8 219,298.6 219.1,298.3 219.2,294.6 219.3,298 219.4,299.8 219.4,295.3 219.5,299.6 219.6,298.9 219.7,294 219.8,292.4 219.9,299.5 219.9,293 220,292.4 220.1,292.5 220.2,298.4 220.3,298.7 220.4,295.3 220.4,298.1 220.5,295.1 220.6,295.5 220.7,292.8 220.8,295.2 220.8,298.4 220.9,298.7 221,293 221.1,298.5 221.2,296.9 221.3,292.1 221.3,295.2 221.4,299.3 221.5,293.8 221.6,296.2 221.7,299.1 221.8,292.5 221.8,298.1 221.9,291.4 222,293.6 222.1,298.9 222.2,293.9 222.2,293.9 222.3,293.7 222.4,297 222.5,294.3 222.6,296.2 222.7,296.7 222.7,292.4 222.8,296.4 222.9,292.3 223,292.6 223.1,293.6 223.2,298.9 223.2,298.1 223.3,296.2 223.4,296.3 223.5,293.9 223.6,295.8 223.6,296.4 223.7,297 223.8,291.4 223.9,294.6 224,295.5 224.1,295.9 224.1,296.5 224.2,295.4 224.3,291.9 224.4,298 224.5,293.2 224.6,295 224.6,292.2 224.7,291.4 224.8,292.9 224.9,292.1 225,294.7 225,295.5 225.1,295.3 225.2,295.1 225.3,293.8 225.4,291.7 225.5,294.6 225.5,294.7 225.6,295.8 225.7,292.4 225.8,295.2 225.9,290.6 226,296.7 226,296.5 226.1,291.3 226.2,288 226.3,293.2 226.4,293.2 226.4,292.2 226.5,290.7 226.6,290.1 226.7,284.5 226.8,288.3 226.9,289.2 226.9,281.3 227,281.2 227.1,283.7 227.2,280.2 227.3,276.4 227.3,270.6 227.4,267.4 227.5,271.9 227.6,266.9 227.7,260.3 227.8,259.7 227.8,254.3 227.9,254.6 228,254.9 228.1,249.3 228.2,250.2 228.3,249.1 228.3,245.1 228.4,249.2 228.5,247.9 228.6,251.9 228.7,255.4 228.7,258 228.8,262.2 228.9,260.5 229,265.9 229.1,266.3 229.2,270.5 229.2,271.6 229.3,274.1 229.4,277.7 229.5,280.8 229.6,282.4 229.7,287.3 229.7,281.9 229.8,282.5 229.9,290.1 230,284.7 230.1,289.2 230.1,286.1 230.2,286.7 230.3,289.6 230.4,295.3 230.5,294.7 230.6,295.5 230.6,290.4 230.7,292.5 230.8,296.2 230.9,290.6 231,295.6 231.1,294 231.1,291.3 231.2,293.5 231.3,291.4 231.4,294.3 231.5,297.7 231.5,297.8 231.6,293.9 231.7,290.6 231.8,290.7 231.9,290.6 232,291.5 232,296.1 232.1,291.2 232.2,298 232.3,293.6 232.4,295.6 232.5,296.3 232.5,296.2 232.6,291 232.7,291.4 232.8,292.2 232.9,293.4 232.9,297.4 233,296 233.1,293 233.2,295 233.3,295.1 233.4,293.8 233.4,292.6 233.5,289.4 233.6,293.4 233.7,295 233.8,292.2 233.9,293.6 233.9,294.1 234,294.7 234.1,289 234.2,289.8 234.3,295 234.3,292.9 234.4,291.5 234.5,287.6 234.6,285.3 234.7,291.9 234.8,283.3 234.8,287.3 234.9,286.7 235,280.8 235.1,283.2 235.2,279.1 235.3,277.5 235.3,271.6 235.4,268.9 235.5,269.2 235.6,266.3 235.7,263.2 235.7,261.5 235.8,258.6 235.9,255.1 236,251.3 236.1,245.5 236.2,247.1 236.2,245.7 236.3,245.5 236.4,243.2 236.5,248.3 236.6,247.3 236.7,250.9 236.7,255.3 236.8,259.6 236.9,262.5 237,263.6 237.1,268.4 237.1,272.9 237.2,273.6 237.3,273.6 237.4,278.1 237.5,277.5 237.6,286.2 237.6,280.5 237.7,282.2 237.8,290.5 237.9,290.7 238,286.5 238.1,286.6 238.1,290.5 238.2,289.4 238.3,288.7 238.4,288.5 238.5,293.1 238.5,292 238.6,294.7 238.7,296.2 238.8,291.7 238.9,294.3 239,295.1 239,297.4 239.1,291.6 239.2,295.1 239.3,294.6 239.4,294.1 239.5,293.2 239.5,291.7 239.6,290.1 239.7,296.5 239.8,297.9 239.9,296 239.9,298 240,297.6 240.1,298.5 240.2,292.4 240.3,292.3 240.4,294.1 240.4,294 240.5,294.4 240.6,297.6 240.7,296.9 240.8,299.1 240.9,296.9 240.9,298.6 241,294.7 241.1,291.9 241.2,294 241.3,291.5 241.3,292.1 241.4,295.4 241.5,296.6 241.6,296.9 241.7,296.5 241.8,299.2 241.8,293.8 241.9,299.3 242,293.6 242.1,297 242.2,292.3 242.3,297.5 242.3,297.2 242.4,292.4 242.5,293.1 242.6,293.2 242.7,291.2 242.7,297.8 242.8,292.5 242.9,292.4 243,295.7 243.1,298.1 243.2,296 243.2,292 243.3,294.9 243.4,292.7 243.5,296.2 243.6,292.4 243.7,299.4 243.7,296.2 243.8,296.7 243.9,293.3 244,295.4 244.1,292.2 244.1,292.8 244.2,295.7 244.3,298.2 244.4,294.2 244.5,291.9 244.6,292.2 244.6,299 244.7,299.5 244.8,297.4 244.9,295.4 245,295.2 245.1,294.7 245.1,293.6 245.2,295.4 245.3,292.4 245.4,297.7 245.5,295.8 245.5,296.9 245.6,298.2 245.7,295.1 245.8,296.7 245.9,294.2 246,297.9 246,296.1 246.1,292.6 246.2,299.4 246.3,295.9 246.4,295.3 246.5,293.6 246.5,296.1 246.6,296.9 246.7,297.2 246.8,299.6 246.9,296.1 246.9,293.4 247,293.5 247.1,292.4 247.2,297.4 247.3,299.6 247.4,295.7 247.4,297.2 247.5,298 247.6,294.5 247.7,297.9 247.8,296.8 247.9,298 247.9,298.4 248,297.1 248.1,295 248.2,292.9 248.3,295.3 248.3,297.1 248.4,292.7 248.5,298.8 248.6,293.7 248.7,292.1 248.8,294.6 248.8,292.3 248.9,297.9 249,294.2 249.1,298.9 249.2,299.3 249.3,292.7 249.3,297.2 249.4,298.1 249.5,299.8 249.6,295.6 249.7,298.3 249.7,299.5 249.8,299.2 249.9,293.2 250,296.9 250.1,296.4 250.2,298 250.2,297.3 250.3,293.7 250.4,294.9 250.5,296.4 250.6,292.4 250.7,298 250.7,298.2 250.8,294.2 250.9,294.3 251,292.2 251.1,290.8 251.1,296.7 251.2,292.4 251.3,296 251.4,293.6 251.5,295.7 251.6,296.5 251.6,294 251.7,293.8 251.8,293.4 251.9,297.6 252,295.9 252,299.5 252.1,294.5 252.2,296.6 252.3,292.9 252.4,296.7 252.5,298.8 252.5,295.6 252.6,293.8 252.7,292 252.8,291.5 252.9,293.9 253,294.4 253,291.2 253.1,293.6 253.2,292.7 253.3,290.3 253.4,290 253.4,296.4 253.5,292.7 253.6,294.1 253.7,293.6 253.8,291.3 253.9,287.3 253.9,288.9 254,292.5 254.1,290.3 254.2,284.5 254.3,284.9 254.4,287.5 254.4,285.4 254.5,288.1 254.6,287.5 254.7,283.5 254.8,286.2 254.8,288.8 254.9,286.7 255,285.6 255.1,289.7 255.2,288 255.3,289.4 255.3,287.8 255.4,291.5 255.5,290.7 255.6,289.6 255.7,291 255.8,290.1 255.8,297.5 255.9,291.4 256,295.3 256.1,292.1 256.2,290.8 256.2,297.5 256.3,297.5 256.4,293.2 256.5,295.6 256.6,295.1 256.7,292.6 256.7,291.2 256.8,291.4 256.9,298.3 257,298.3 257.1,290.6 257.2,293.3 257.2,290.9 257.3,290.4 257.4,294 257.5,297.4 257.6,293.8 257.6,292.4 257.7,295.5 257.8,294.9 257.9,289.9 258,288.8 258.1,289.1 258.1,292.6 258.2,292.1 258.3,288.7 258.4,286.7 258.5,283.5 258.6,280.2 258.6,280 258.7,270.3 258.8,267.4 258.9,265 259,262.2 259,259.7 259.1,253.2 259.2,259.6 259.3,257.7 259.4,260 259.5,262.3 259.5,269 259.6,272.5 259.7,276.3 259.8,274 259.9,278.5 260,286.8 260,285.6 260.1,289.3 260.2,292.2 260.3,286.9 260.4,289.4 260.4,293.8 260.5,290.7 260.6,295 260.7,289.7 260.8,295.1 260.9,295.1 260.9,290.2 261,291.5 261.1,292 261.2,290.1 261.3,295.8 261.4,293.1 261.4,291.6 261.5,293 261.6,294 261.7,289.9 261.8,293.9 261.8,286.1 261.9,291.9 262,284.6 262.1,288 262.2,285.5 262.3,280.4 262.3,283.3 262.4,277.1 262.5,278.9 262.6,276.6 262.7,280.6 262.8,281.2 262.8,278.3 262.9,281.5 263,284.9 263.1,288.9 263.2,284.1 263.2,285 263.3,287.4 263.4,287.6 263.5,288.6 263.6,292.5 263.7,295.1 263.7,290.4 263.8,290.9 263.9,290.9 264,294 264.1,295.8 264.2,293.4 264.2,292.6 264.3,293.9 264.4,292.6 264.5,297.8 264.6,297.7 264.6,295.9 264.7,294.6 264.8,292 264.9,293.4 265,294.1 265.1,296 265.1,293.3 265.2,292.9 265.3,296.9 265.4,292.5 265.5,293.9 265.6,298.1 265.6,297.5 265.7,294.1 265.8,291.4 265.9,292.3 266,292.9 266,292.6 266.1,292 266.2,292.7 266.3,298.8 266.4,296.5 266.5,298.2 266.5,295.2 266.6,290.2 266.7,293.3 266.8,297 266.9,290.4 267,292.9 267,289.1 267.1,293.2 267.2,289.6 267.3,288.1 267.4,289.6 267.4,289.1 267.5,291.4 267.6,291.4 267.7,287.5 267.8,285.4 267.9,285.4 267.9,292.4 268,287 268.1,293.2 268.2,288.4 268.3,292.8 268.4,291.7 268.4,295.1 268.5,297.5 268.6,296 268.7,297.6 268.8,291.9 268.8,297.9 268.9,298 269,294 269.1,297 269.2,294.5 269.3,298 269.3,299.1 269.4,296.1 269.5,291.5 269.6,297.9 269.7,294.4 269.8,298.2 269.8,297.5 269.9,295.5 270,296.8 270.1,293.3 270.2,294.1 270.2,297.8 270.3,299.1 270.4,299.6 270.5,297.7 270.6,295.1 270.7,292.7 270.7,294.8 270.8,292.5 270.9,294.5 271,296.9 271.1,293.1 271.2,297.3 271.2,295.7 271.3,295.1 271.4,292.2 271.5,298.1 271.6,294.4 271.6,294.1 271.7,292.4 271.8,297.4 271.9,297.5 272,296.6 272.1,294.1 272.1,296.4 272.2,291.8 272.3,298.3 272.4,293 272.5,293.1 272.6,291.7 272.6,298.1 272.7,295.6 272.8,297.5 272.9,293.6 273,297.8 273,295 273.1,290.3 273.2,291.1 273.3,294 273.4,294.4 273.5,288.4 273.5,294.2 273.6,292.5 273.7,288.1 273.8,286.8 273.9,288.3 274,282.8 274,289.5 274.1,283 274.2,284.7 274.3,283.1 274.4,281.9 274.4,280.8 274.5,284 274.6,279.6 274.7,287 274.8,285 274.9,282.1 274.9,281.5 275,282.5 275.1,284.2 275.2,287.9 275.3,285.6 275.4,293.5 275.4,294 275.5,289 275.6,288.1 275.7,293.8 275.8,296.5 275.8,292.1 275.9,297.4 276,298 276.1,296.8 276.2,294.1 276.3,298.3 276.3,291.2 276.4,298.1 276.5,295.1 276.6,297.4 276.7,297.1 276.7,291.6 276.8,295 276.9,291.7 277,294.1 277.1,297 277.2,296.9 277.2,292.7 277.3,295 277.4,297.7 277.5,298.8 277.6,297.8 277.7,296.1 277.7,298.7 277.8,291.5 277.9,298.5 278,298.8 278.1,293.3 278.1,297.3 278.2,293.3 278.3,293.7 278.4,299.6 278.5,297.6 278.6,299.4 278.6,295.3 278.7,298.8 278.8,299.4 278.9,297.5 279,299.7 279.1,296.8 279.1,292.6 279.2,296 279.3,292.4 279.4,293.9 279.5,291 279.5,295.2 279.6,299 279.7,298 279.8,298.2 279.9,292.7 280,295.5 280,296.5 280.1,295.3 280.2,298.7 280.3,293.6 280.4,294.3 280.5,295.2 280.5,299.8 280.6,295 280.7,296.1 280.8,296.1 280.9,297.5 280.9,293.5 281,295.5 281.1,298.2 281.2,295 281.3,299.7 281.4,295.6 281.4,298.3 281.5,296 281.6,295 281.7,295.2 281.8,295.8 281.9,296.2 281.9,293.3 282,296 282.1,295.8 282.2,297.3 282.3,292.2 282.3,293.8 282.4,295.4 282.5,299.4 282.6,296.6 282.7,292.5 282.8,293.1 282.8,296.1 282.9,298.3 283,297.7 283.1,293.7 283.2,296.2 283.3,298.4 283.3,293.6 283.4,294.9 283.5,297.5 283.6,290.5 283.7,296.8 283.7,295.7 283.8,292.8 283.9,289.6 284,294.4 284.1,295 284.2,290.9 284.2,289.3 284.3,292 284.4,291.9 284.5,286.9 284.6,286.8 284.7,286.9 284.7,289.7 284.8,285.8 284.9,287.5 285,282.4 285.1,283.9 285.1,283.2 285.2,284.2 285.3,287.2 285.4,288.3 285.5,289.8 285.6,287.8 285.6,286.7 285.7,293 285.8,286.8 285.9,288.7 286,292.4 286.1,289.4 286.1,292.8 286.2,293 286.3,295.6 286.4,295.4 286.5,293.8 286.5,291.2 286.6,294.2 286.7,292.6 286.8,293.2 286.9,294.8 287,292.4 287,296.4 287.1,294.1 287.2,298.8 287.3,296.2 287.4,299.1 287.5,297.2 287.5,295.9 287.6,299.3 287.7,297.4 287.8,299.7 287.9,292.1 287.9,294.7 288,294.9 288.1,295.6 288.2,293.3 288.3,296.5 288.4,297.8 288.4,293.6 288.5,292.8 288.6,295.2 288.7,293.5 288.8,294.3 288.9,296.7 288.9,295.3 289,296.1 289.1,298.6 289.2,292.7 289.3,297 289.3,299.2 289.4,298.5 289.5,294.6 289.6,298.1 289.7,298.1 289.8,294.4 289.8,295.1 289.9,298 290,297.7 290.1,296.5 290.2,294 290.3,293.8 290.3,293.8 290.4,295.1 290.5,290.9 290.6,290.2 290.7,291.3 290.7,293.7 290.8,289.4 290.9,289.6 291,287.2 291.1,291.5 291.2,294.7 291.2,287.1 291.3,289 291.4,293.3 291.5,294.8 291.6,289.9 291.7,292.7 291.7,291.3 291.8,294.3 291.9,294.2 292,294.4 292.1,290.3 292.1,293 292.2,296.9 292.3,292 292.4,298.2 292.5,291.5 292.6,298.5 292.6,295.6 292.7,296.2 292.8,296.5 292.9,295.6 293,298 293.1,294.3 293.1,299.8 293.2,292.6 293.3,295.5 293.4,294.3 293.5,296 293.5,294.2 293.6,296.5 293.7,295.6 293.8,296.7 293.9,295.1 294,294.3 294,294.3 294.1,293.5 294.2,293 294.3,294.8 294.4,296.6 294.5,298 294.5,299.6 294.6,292.7 294.7,297.8 294.8,297.4 294.9,296.3 294.9,296.6 295,299 295.1,296.8 295.2,299.3 295.3,299.2 295.4,295.6 295.4,300 295.5,296.5 295.6,297.1 295.7,297.6 295.8,293.7 295.9,298.9 295.9,300.1 296,293.2 296.1,299.7 296.2,299.3 296.3,293.5 296.3,298.2 296.4,292.5 296.5,293.8 296.6,295.3 296.7,292.4 296.8,299.4 296.8,292.3 296.9,294.4 297,298.4 297.1,293.2 297.2,298.1 297.3,295.3 297.3,295.6 297.4,297.5 297.5,298.6 297.6,298.9 297.7,293.7 297.7,295.8 297.8,299.6 297.9,297.2 298,299.9 298.1,297.7 298.2,297.5 298.2,296 298.3,293.4 298.4,297 298.5,298.1 298.6,296.6 298.7,297.4 298.7,298.4 298.8,295.2 298.9,292.5 299,292.3 299.1,295.1 299.1,292.4 299.2,292.8 299.3,294.9 299.4,296.9 299.5,292.1 299.6,297.3 299.6,299.8 299.7,297.9 299.8,295.8 299.9,294.9 300,293.5 300,298.6 300.1,297.7 300.2,293.8 300.3,296 300.4,298.5 300.5,297.1 300.5,295.6 300.6,295.6 300.7,294.6 300.8,292.1 300.9,294 301,294.1 301,288.5 301.1,293.2 301.2,290.5 301.3,286.6 301.4,289.1 301.4,291.7 301.5,288.4 301.6,289.6 301.7,294.4 301.8,292.3 301.9,294.4 301.9,288.6 302,288 302.1,291.5 302.2,293.7 302.3,289.6 302.4,293.9 302.4,294.5 302.5,293 302.6,292.8 302.7,292.1 302.8,297.9 302.8,293.8 302.9,298.3 303,299 303.1,297 303.2,299.2 303.3,297.6 303.3,292.1 303.4,293.9 303.5,293.3 303.6,295.4 303.7,294.2 303.8,298.2 303.8,299.5 303.9,293.7 304,294.6 304.1,296.6 304.2,293.1 304.2,294.4 304.3,299.6 304.4,295.5 304.5,294.1 304.6,297.2 304.7,297.9 304.7,297.9 304.8,299.7 304.9,298.6 305,299.5 305.1,299.8 305.2,299.8 305.2,296.3 305.3,296.6 305.4,298.9 305.5,297.8 305.6,295.4 305.6,299.4 305.7,297.9 305.8,292.8 305.9,294.8 306,295.1 306.1,295.4 306.1,293.2 306.2,296.6 306.3,295.7 306.4,296 306.5,298.1 306.6,297.1 306.6,298.6 306.7,296.3 306.8,295 306.9,295.7 307,297.4 307,298.7 307.1,296.2 307.2,294.4 307.3,296.9 307.4,299.1 307.5,292.5 307.5,292.6 307.6,293.3 307.7,293.1 307.8,294.8 307.9,298.2 308,295.9 308,295.7 308.1,296.3 308.2,296.8 308.3,295.7 308.4,297.4 308.4,299.5 308.5,298.1 308.6,298 308.7,293.1 308.8,293.2 308.9,292.5 308.9,298.7 309,297.8 309.1,297.4 309.2,295.5 309.3,296.6 309.4,296 309.4,292.4 309.5,291.4 309.6,290.8 309.7,291 309.8,297 309.8,292.8 309.9,290.4 310,292.7 310.1,288.6 310.2,292.5 310.3,288.2 310.3,287.3 310.4,288.9 310.5,284.8 310.6,285 310.7,283.3 310.8,281.7 310.8,283.5 310.9,284.8 311,284.5 311.1,283.5 311.2,286.6 311.2,279.8 311.3,279.1 311.4,285.9 311.5,280 311.6,287 311.7,283.3 311.7,288.4 311.8,288.6 311.9,285.1 312,288.2 312.1,292.7 312.2,291.1 312.2,293.7 312.3,290.9 312.4,292 312.5,289.3 312.6,293.4 312.6,296.7 312.7,295 312.8,292.2 312.9,291.6 313,297.7 313.1,295.7 313.1,296.2 313.2,293.8 313.3,295.4 313.4,290.6 313.5,294.4 313.6,297.1 313.6,291.6 313.7,291.5 313.8,294.1 313.9,290.9 314,293.8 314,291.4 314.1,294.4 314.2,297.4 314.3,290.4 314.4,291.8 314.5,290.1 314.5,294.6 314.6,291.1 314.7,293.5 314.8,290.9 314.9,294.5 315,289.5 315,288.7 315.1,294.6 315.2,289.8 315.3,295.7 315.4,291.1 315.4,288 315.5,288 315.6,289.8 315.7,290.5 315.8,289.5 315.9,288 315.9,292 316,288.1 316.1,292.4 316.2,288.1 316.3,293.6 316.4,286.2 316.4,290.5 316.5,292.1 316.6,286.7 316.7,286.9 316.8,290.7 316.8,290 316.9,286.8 317,292.8 317.1,290.5 317.2,285.4 317.3,287.7 317.3,291.6 317.4,290.4 317.5,290.4 317.6,292.2 317.7,290.9 317.8,293.7 317.8,291.7 317.9,286.3 318,286.9 318.1,291.3 318.2,290.3 318.2,287 318.3,290 318.4,289.4 318.5,295.4 318.6,289.2 318.7,289.1 318.7,292 318.8,294.4 318.9,294.8 319,293.5 319.1,289.6 319.2,296.5 319.2,294.3 319.3,296.1 319.4,290.9 319.5,294.9 319.6,295.1 319.6,294.7 319.7,293.2 319.8,297.4 319.9,296.2 320,291.4 320.1,290.7 320.1,297.3 320.2,295.9 320.3,298.1 320.4,293.2 320.5,292.5 320.6,293.3 320.6,297.1 320.7,291.8 320.8,298.3 320.9,294.8 321,296.1 321,293.3 321.1,295.2 321.2,296.4 321.3,296.1 321.4,296.8 321.5,292.5 321.5,291.1 321.6,297 321.7,287.5 321.8,292 321.9,294.6 322,288.4 322,290.3 322.1,287 322.2,286.4 322.3,288.2 322.4,284.8 322.4,281.9 322.5,283.4 322.6,279.5 322.7,277 322.8,275.6 322.9,277.6 322.9,277.9 323,276.6 323.1,272.2 323.2,273 323.3,269.6 323.4,269.3 323.4,274.5 323.5,274.9 323.6,276.2 323.7,274.9 323.8,276.3 323.8,276.1 323.9,284.7 324,284.7 324.1,282.5 324.2,285.9 324.3,286 324.3,285.2 324.4,289.6 324.5,293.2 324.6,290.6 324.7,294.6 324.8,291.4 324.8,295.4 324.9,296.7 325,296.4 325.1,294.3 325.2,296.7 325.2,298 325.3,293.6 325.4,294.2 325.5,297.7 325.6,294 325.7,296.4 325.7,296.2 325.8,295.3 325.9,296.9 326,297.9 326.1,298.9 326.1,296.5 326.2,293.1 326.3,293.3 326.4,298.8 326.5,299.1 326.6,290.1 326.6,295.7 326.7,298.7 326.8,291.9 326.9,299.3 327,295.2 327.1,296.8 327.1,297.4 327.2,293.3 327.3,298.8 327.4,296.3 327.5,293.1 327.5,294.4 327.6,299.5 327.7,293.8 327.8,299.5 327.9,294.4 328,292.5 328,296.4 328.1,293.9 328.2,295.9 328.3,297.3 328.4,299.4 328.5,293 328.5,292.3 328.6,294.1 328.7,293.3 328.8,298.6 328.9,296.1 328.9,298.1 329,292.7 329.1,293.7 329.2,299.9 329.3,294.6 329.4,297.3 329.4,295.2 329.5,299.5 329.6,299.2 329.7,299.4 329.8,296.2 329.9,297.2 329.9,296.2 330,296.5 330.1,296.5 330.2,299.9 330.3,292.1 330.3,295.2 330.4,295.3 330.5,299.4 330.6,294.1 330.7,296.6 330.8,298.3 330.8,299.1 330.9,297.2 331,297.3 331.1,298.1 331.2,292.2 331.3,298.5 331.3,296.6 331.4,297.1 331.5,297.5 331.6,294.7 331.7,291.3 331.7,297.8 331.8,296.1 331.9,297.1 332,294.7 332.1,293 332.2,293.6 332.2,294.7 332.3,291.2 332.4,292.8 332.5,293 332.6,286.8 332.7,285.8 332.7,285 332.8,289.7 332.9,289.9 333,286.1 333.1,282.7 333.1,282.1 333.2,283 333.3,288.2 333.4,282.2 333.5,285 333.6,288.6 333.6,283 333.7,286.7 333.8,287.4 333.9,286.6 334,289.8 334.1,285 334.1,287.7 334.2,291.4 334.3,291.3 334.4,288.1 334.5,293.2 334.5,295.4 334.6,295.3 334.7,290.6 334.8,291 334.9,297.5 335,295.6 335,294.7 335.1,293 335.2,292 335.3,296.9 335.4,295.5 335.5,292.9 335.5,292.1 335.6,292.4 335.7,293.4 335.8,292 335.9,294.6 335.9,293.4 336,298.9 336.1,295.9 336.2,294.3 336.3,295.2 336.4,294.3 336.4,294.1 336.5,295.4 336.6,296.9 336.7,299.6 336.8,297.7 336.9,292.8 336.9,296.4 337,298.2 337.1,299.8 337.2,296 337.3,299.7 337.3,295.8 337.4,298.2 337.5,296 337.6,296.8 337.7,294 337.8,294.4 337.8,292.6 337.9,294 338,297.7 338.1,293.2 338.2,298.4 338.3,298.1 338.3,292.6 338.4,299.4 338.5,295.5 338.6,300.2 338.7,299.2 338.7,299.4 338.8,294 338.9,298.9 339,299.6 339.1,293.8 339.2,293.8 339.2,298.8 339.3,295.7 339.4,298 339.5,297.5 339.6,294.4 339.7,297.4 339.7,294.3 339.8,297.3 339.9,296.7 340,292.6 340.1,297.8 340.1,300.3 340.2,293.8 340.3,295.8 340.4,300 340.5,292.9 340.6,297.9 340.6,297.5 340.7,297.2 340.8,294.2 340.9,294.3 341,297.7 341.1,300 341.1,297.2 341.2,297.2 341.3,299.2 341.4,297.5 341.5,298.6 341.5,296.4 341.6,300.4 341.7,298.8 341.8,297.6 341.9,296.5 342,296.1 342,298.6 342.1,300.3 342.2,298.9 342.3,296.5 342.4,298.8 342.5,292.2 342.5,300.3 342.6,297.3 342.7,295.6 342.8,298 342.9,295.4 342.9,296.1 343,296.6 343.1,298.5 343.2,293.4 343.3,297.5 343.4,297.1 343.4,295.3 343.5,295.7 343.6,294.5 343.7,297.6 343.8,298.9 343.9,298.5 343.9,296.8 344,293 344.1,293.1 344.2,299.3 344.3,298.8 344.3,296.1 344.4,298.8 344.5,299 344.6,300.4 344.7,296.2 344.8,292.7 344.8,300.4 344.9,295.2 345,298.4 345.1,297.3 345.2,294.7 345.3,294.1 345.3,292.5 345.4,294.8 345.5,293.2 345.6,293.1 345.7,294.5 345.7,292.9 345.8,293.9 345.9,295.3 346,299.7 346.1,297 346.2,299.6 346.2,294.3 346.3,293.6 346.4,294.6 346.5,294.3 346.6,293.4 346.7,298.6 346.7,296.3 346.8,294.3 346.9,295.5 347,298 347.1,297 347.1,299.7 347.2,298.5 347.3,296.7 347.4,296.3 347.5,294.2 347.6,294.5 347.6,293.1 347.7,299 347.8,293.3 347.9,297 348,297.2 348.1,296.4 348.1,295.8 348.2,291.4 348.3,299 348.4,297.1 348.5,291.1 348.5,298.5 348.6,292.8 348.7,295.5 348.8,296.6 348.9,293.2 349,291.6 349,289.6 349.1,290.9 349.2,292.5 349.3,292 349.4,293.5 349.4,293 349.5,291.7 349.6,286.3 349.7,284.7 349.8,289.9 349.9,286.6 349.9,287.8 350,282.6 350.1,288.8 350.2,288.8 350.3,281.5 350.4,287.5 350.4,288.5 350.5,282.5 350.6,284.8 350.7,282.7 350.8,286.9 350.8,288.4 350.9,284.4 351,288.4 351.1,292.7 351.2,292.1 351.3,288.5 351.3,295.2 351.4,289.7 351.5,290.6 351.6,291 351.7,292.3 351.8,290.2 351.8,290.6 351.9,292.1 352,290.8 352.1,298.3 352.2,293.6 352.2,292.9 352.3,299 352.4,291.7 352.5,297.8 352.6,296.2 352.7,297.1 352.7,295.6 352.8,293.3 352.9,296.9 353,299.9 353.1,294.1 353.2,296.2 353.2,292.7 353.3,299.5 353.4,299.1 353.5,296.2 353.6,298.5 353.6,299.8 353.7,295.1 353.8,299.3 353.9,297 354,299.4 354.1,296.7 354.1,295 354.2,297.4 354.3,293 354.4,292.6 354.5,294 354.6,294.1 354.6,295.8 354.7,294.3 354.8,293.1 354.9,295.6 355,298.5 355,294.3 355.1,299.9 355.2,295.8 355.3,293.1 355.4,299.3 355.5,294.9 355.5,294.7 355.6,298.6 355.7,294.6 355.8,294 355.9,296.5 356,296.7 356,298.6 356.1,295.8 356.2,299.5 356.3,295.2 356.4,294.5 356.4,299.9 356.5,299 356.6,296.2 356.7,293.3 356.8,299.1 356.9,294.3 356.9,293.5 357,298.4 357.1,294.6 357.2,294.9 357.3,298.6 357.4,298.4 357.4,294.3 357.5,297.3 357.6,295.7 357.7,292.7 357.8,296.4 357.8,292.4 357.9,292.5 358,298.2 358.1,293.7 358.2,295.5 358.3,295.2 358.3,299.4 358.4,296.2 358.5,299.3 358.6,293.6 358.7,295.8 358.8,294 358.8,292.4 358.9,296.1 359,297.7 359.1,296.2 359.2,297.7 359.2,290.9 359.3,292.6 359.4,292.9 359.5,288.7 359.6,293.4 359.7,288.1 359.7,290 359.8,285.9 359.9,288.7 360,286.6 360.1,284.1 360.2,288.4 360.2,286.3 360.3,281.2 360.4,281.7 360.5,282.8 360.6,279.5 360.6,285 360.7,287.3 360.8,279.6 360.9,281.3 361,285.9 361.1,285.8 361.1,290.5 361.2,287 361.3,287.2 361.4,292.9 361.5,295.2 361.6,288.1 361.6,291.2 361.7,295.2 361.8,292.8" stroke="#ff0000" stroke-width="1.1" stroke-dasharray="3.7,1.6"/><line x1="72.3" y1="106.5" x2="72.3" y2="262" stroke="#ff0000" stroke-width="1.05" stroke-dasharray="3.7,1.6" stroke-dashoffset="0"/><line x1="74.1" y1="106.5" x2="74.1" y2="262" stroke="#ff0000" stroke-width="1.05" stroke-dasharray="3.7,1.6" stroke-dashoffset="2"/><line x1="201.3" y1="106.5" x2="201.3" y2="288" stroke="#ff0000" stroke-width="1.05" stroke-dasharray="3.7,1.6" stroke-dashoffset="1"/><line x1="203.5" y1="106.5" x2="203.5" y2="288" stroke="#ff0000" stroke-width="1.05" stroke-dasharray="3.7,1.6" stroke-dashoffset="3"/></g><g fill="#000"><rect x="66.5" y="120" width="6.0" height="6.0"/><rect x="97.7" y="217.3" width="6.0" height="6.0"/><circle cx="111.4" cy="196.6" r="3.2"/><rect x="116.3" y="267.3" width="6.0" height="6.0"/><rect x="121.6" y="253.7" width="6.0" height="6.0"/><circle cx="133.1" cy="229.9" r="3.2"/><rect x="136.1" y="263.5" width="6.0" height="6.0"/><circle cx="145.8" cy="193.8" r="3.2"/><rect x="158.7" y="257.2" width="6.0" height="6.0"/><rect x="173.6" y="220.2" width="6.0" height="6.0"/><circle cx="192" cy="139.8" r="3.2"/><rect x="206.9" y="267.3" width="6.0" height="6.0"/><rect x="225.3" y="240.3" width="6.0" height="6.0"/><rect x="233.3" y="236.7" width="6.0" height="6.0"/><rect x="251.8" y="278.9" width="6.0" height="6.0"/><circle cx="259.2" cy="249.7" r="3.2"/><circle cx="263.7" cy="274.8" r="3.2"/><rect x="264.6" y="282.5" width="6.0" height="6.0"/><rect x="271.8" y="273.9" width="6.0" height="6.0"/><rect x="282" y="276.9" width="6.0" height="6.0"/><rect x="288.6" y="283.7" width="6.0" height="6.0"/><rect x="299" y="283.7" width="6.0" height="6.0"/><rect x="307.9" y="275.1" width="6.0" height="6.0"/><circle cx="323.4" cy="268.3" r="3.2"/><circle cx="334" cy="280.1" r="3.2"/><circle cx="350.3" cy="280.1" r="3.2"/></g><rect x="66.4" y="106.5" width="294.4" height="195.5" fill="none" stroke="#111" stroke-width="0.65"/><g stroke="#000" stroke-width="0.8"><line x1="66.4" y1="302.0" x2="66.4" y2="304.8"/><line x1="103.2" y1="302.0" x2="103.2" y2="304.8"/><line x1="140" y1="302.0" x2="140" y2="304.8"/><line x1="176.8" y1="302.0" x2="176.8" y2="304.8"/><line x1="213.6" y1="302.0" x2="213.6" y2="304.8"/><line x1="250.4" y1="302.0" x2="250.4" y2="304.8"/><line x1="287.2" y1="302.0" x2="287.2" y2="304.8"/><line x1="324" y1="302.0" x2="324" y2="304.8"/><line x1="360.8" y1="302.0" x2="360.8" y2="304.8"/></g><g font-family="Liberation Serif, serif" font-size="11.4" fill="#2a2a2a"><text x="66.4" y="316.6" text-anchor="middle">30</text><text x="103.2" y="316.6" text-anchor="middle">40</text><text x="140" y="316.6" text-anchor="middle">50</text><text x="176.8" y="316.6" text-anchor="middle">60</text><text x="213.6" y="316.6" text-anchor="middle">70</text><text x="250.4" y="316.6" text-anchor="middle">80</text><text x="287.2" y="316.6" text-anchor="middle">90</text><text x="324" y="316.6" text-anchor="middle">100</text><text x="360.8" y="316.6" text-anchor="middle">110</text></g><rect x="376.7" y="106.5" width="294.3" height="195.5" fill="#fff"/><g clip-path="url(#cr)" fill="none"><polyline points="375.7,292.4 375.8,278.4 375.9,280.8 375.9,287.8 376,291.3 376.1,292.4 376.2,287 376.3,288.3 376.4,283.1 376.4,286.8 376.5,280.9 376.6,286.7 376.7,289.6 376.8,286.5 376.9,287.2 376.9,292.3 377,289.7 377.1,287.8 377.2,290.4 377.3,276.5 377.3,278.5 377.4,285.6 377.5,284.1 377.6,291.7 377.7,283.6 377.8,282.5 377.8,286.1 377.9,288.1 378,279.3 378.1,283.3 378.2,284 378.3,292.3 378.3,284 378.4,291.4 378.5,286.2 378.6,282.9 378.7,276.6 378.7,289.9 378.8,281 378.9,278.7 379,290.3 379.1,284.8 379.2,285.4 379.2,286.6 379.3,289 379.4,288.7 379.5,283.1 379.6,290 379.7,287.7 379.7,287.2 379.8,280.2 379.9,284 380,278.1 380.1,282.7 380.1,280.6 380.2,290.2 380.3,281.3 380.4,284.1 380.5,282.1 380.6,290.7 380.6,277.3 380.7,286.3 380.8,283.7 380.9,287.5 381,283 381,279.3 381.1,276.6 381.2,277.7 381.3,280.7 381.4,279.8 381.5,275 381.5,274.4 381.6,288.8 381.7,277.2 381.8,275.5 381.9,286.1 382,273 382,282.1 382.1,284.3 382.2,280.2 382.3,284.4 382.4,274.2 382.4,273.5 382.5,278.6 382.6,283 382.7,273.4 382.8,283.4 382.9,275.8 382.9,270.2 383,240.3 383.1,68.4 383.2,60 383.3,60 383.4,60 383.4,60 383.5,60 383.6,60 383.7,60 383.8,239.8 383.8,280.6 383.9,280 384,276.1 384.1,285.5 384.2,285.2 384.3,281.8 384.3,276.5 384.4,273.5 384.5,274 384.6,274.9 384.7,278.6 384.8,281.2 384.8,279.7 384.9,279.3 385,288.2 385.1,275.1 385.2,283.4 385.2,277.9 385.3,280.9 385.4,277.3 385.5,289.1 385.6,284.3 385.7,284.9 385.7,282.6 385.8,291.5 385.9,284.8 386,278.9 386.1,290.4 386.2,283.9 386.2,278.8 386.3,281.1 386.4,290.6 386.5,286.1 386.6,282.9 386.6,288 386.7,282.9 386.8,293.4 386.9,285.5 387,282.2 387.1,293.4 387.1,292 387.2,292.8 387.3,283.2 387.4,290 387.5,288.9 387.6,288.2 387.6,291.9 387.7,294.7 387.8,283.4 387.9,282 388,280.7 388,284.7 388.1,282 388.2,290.9 388.3,282.1 388.4,289.9 388.5,280.3 388.5,292.4 388.6,294.4 388.7,282.7 388.8,285.9 388.9,283 389,287.9 389,287 389.1,290.9 389.2,283.8 389.3,290.6 389.4,281.5 389.4,288.6 389.5,289.9 389.6,287 389.7,284 389.8,283.1 389.9,289 389.9,294.1 390,288.3 390.1,291 390.2,283.1 390.3,294.4 390.4,286.5 390.4,290 390.5,286.6 390.6,289.9 390.7,283.4 390.8,285.1 390.8,285.6 390.9,287.6 391,281.2 391.1,284.8 391.2,292.7 391.3,285.5 391.3,291.8 391.4,282.3 391.5,284.3 391.6,286.8 391.7,294.3 391.7,294.3 391.8,281.3 391.9,293.1 392,294.2 392.1,281.6 392.2,285.8 392.2,293.4 392.3,286.4 392.4,284.7 392.5,287.4 392.6,291 392.7,294.3 392.7,287.7 392.8,286.5 392.9,283.3 393,284.9 393.1,286.7 393.1,285.5 393.2,286 393.3,294.7 393.4,284.7 393.5,285.3 393.6,295.1 393.6,282.4 393.7,290.1 393.8,287.8 393.9,281.8 394,291.6 394.1,288.8 394.1,289.3 394.2,289.2 394.3,283.8 394.4,282.7 394.5,285.3 394.5,289.1 394.6,283.8 394.7,291.6 394.8,289.3 394.9,282.4 395,293.4 395,283.6 395.1,293.9 395.2,283.8 395.3,294.5 395.4,285.7 395.5,283.6 395.5,290.7 395.6,294.4 395.7,286.1 395.8,284 395.9,293.1 395.9,286.2 396,292.8 396.1,293.6 396.2,292.9 396.3,292.9 396.4,296.5 396.4,285.8 396.5,283.8 396.6,294 396.7,289.9 396.8,283.8 396.9,289.4 396.9,292.2 397,293.8 397.1,292.2 397.2,296.4 397.3,291 397.3,288.6 397.4,288 397.5,292.9 397.6,292.6 397.7,283.6 397.8,293.2 397.8,289 397.9,286.8 398,294.9 398.1,286.7 398.2,285.9 398.3,287.9 398.3,284.3 398.4,296.4 398.5,290.2 398.6,293.8 398.7,284.2 398.7,294.9 398.8,295 398.9,296.4 399,295 399.1,294.4 399.2,290.3 399.2,293.1 399.3,291.1 399.4,285.8 399.5,294.2 399.6,288.2 399.7,288.2 399.7,287.1 399.8,286.5 399.9,292.5 400,291.9 400.1,292.4 400.1,288.9 400.2,293.5 400.3,284.8 400.4,292.3 400.5,289.5 400.6,284 400.6,293.6 400.7,290.6 400.8,291.1 400.9,281.8 401,295.6 401.1,296.9 401.1,291.5 401.2,291.2 401.3,288.2 401.4,295.7 401.5,288.8 401.5,285.1 401.6,294.2 401.7,293.1 401.8,288.2 401.9,296.7 402,286.3 402,292.4 402.1,293.2 402.2,296.8 402.3,285 402.4,285.3 402.4,292.1 402.5,286.2 402.6,286.9 402.7,293.4 402.8,289.9 402.9,291 402.9,295.8 403,286.2 403.1,285.6 403.2,289.3 403.3,290.5 403.4,284.5 403.4,289.6 403.5,285.5 403.6,293.2 403.7,289.9 403.8,297.1 403.8,295.1 403.9,295.5 404,288 404.1,296 404.2,290.5 404.3,290.2 404.3,291.5 404.4,292.7 404.5,291.3 404.6,287.8 404.7,288.9 404.8,292.1 404.8,289.8 404.9,295.7 405,286.7 405.1,294.2 405.2,291.4 405.2,292.9 405.3,296.1 405.4,297.4 405.5,293.8 405.6,288.2 405.7,296.3 405.7,291.4 405.8,287.3 405.9,294.4 406,292 406.1,288.1 406.2,289.4 406.2,286.2 406.3,287.9 406.4,290.7 406.5,294.3 406.6,286.8 406.6,294.7 406.7,284.8 406.8,294.7 406.9,285.7 407,290 407.1,293 407.1,295.6 407.2,296.5 407.3,286.9 407.4,296.8 407.5,294.5 407.6,287.7 407.6,291.3 407.7,286.7 407.8,294.5 407.9,293.9 408,296.1 408,289.7 408.1,287.6 408.2,291.2 408.3,288.2 408.4,285.8 408.5,286.8 408.5,289.1 408.6,296.5 408.7,296 408.8,290.8 408.9,293.7 409,288.5 409,288 409.1,285.6 409.2,295.4 409.3,287.7 409.4,287 409.4,287.9 409.5,295.1 409.6,294.1 409.7,288.6 409.8,291 409.9,290.9 409.9,295.1 410,295 410.1,293.6 410.2,297.2 410.3,294.6 410.4,287.5 410.4,292.5 410.5,289.6 410.6,287.4 410.7,292.2 410.8,294.5 410.8,292.5 410.9,292.1 411,290.9 411.1,287.8 411.2,291.8 411.3,295.1 411.3,291.6 411.4,288.2 411.5,287.7 411.6,290.4 411.7,292.7 411.7,289.8 411.8,292.7 411.9,289.7 412,297.9 412.1,286.8 412.2,292.1 412.2,292.3 412.3,290.4 412.4,287.3 412.5,289.7 412.6,288.6 412.7,291.5 412.7,286.3 412.8,287.8 412.9,291.2 413,296.8 413.1,293.3 413.1,297.3 413.2,294.7 413.3,290.5 413.4,293.7 413.5,291.5 413.6,286.5 413.6,297.6 413.7,286.6 413.8,296.2 413.9,287.2 414,294.2 414.1,296.1 414.1,295.8 414.2,290.7 414.3,294.4 414.4,297.7 414.5,286.5 414.5,294.4 414.6,290.1 414.7,293.4 414.8,292.6 414.9,293.5 415,297 415,288.2 415.1,296.3 415.2,297.3 415.3,291.1 415.4,294.8 415.5,296.3 415.5,295.1 415.6,295.6 415.7,296.2 415.8,294.6 415.9,290.5 415.9,290.1 416,291 416.1,297.2 416.2,286.7 416.3,293.6 416.4,295.4 416.4,289.6 416.5,288.6 416.6,290.9 416.7,297.5 416.8,293 416.9,294.5 416.9,288.4 417,298.1 417.1,288.2 417.2,288.4 417.3,291.4 417.3,287.1 417.4,297.8 417.5,291.6 417.6,290.1 417.7,289.2 417.8,297.7 417.8,297.3 417.9,294.5 418,291.6 418.1,294 418.2,290.6 418.3,293.7 418.3,290.2 418.4,298.7 418.5,297.2 418.6,288.8 418.7,295.6 418.7,293.3 418.8,294.5 418.9,287.8 419,287.6 419.1,287.7 419.2,294.9 419.2,295.5 419.3,297 419.4,297.4 419.5,292.2 419.6,295.2 419.7,297.4 419.7,290.5 419.8,285.9 419.9,289.6 420,293 420.1,295.2 420.1,295.4 420.2,292.4 420.3,295.6 420.4,289.5 420.5,292 420.6,287.9 420.6,291.7 420.7,293.6 420.8,298.6 420.9,287.8 421,295.1 421.1,297.7 421.1,290.6 421.2,295.6 421.3,289.7 421.4,289.2 421.5,295.6 421.5,290.9 421.6,292.3 421.7,294.5 421.8,293.8 421.9,296.8 422,287.7 422,293.2 422.1,296.4 422.2,288.3 422.3,294.7 422.4,295.7 422.4,295.4 422.5,298.6 422.6,287.9 422.7,291.5 422.8,294.8 422.9,288.2 422.9,298.4 423,295.4 423.1,288.1 423.2,289.8 423.3,292.8 423.4,296.4 423.4,288.7 423.5,297.1 423.6,297.3 423.7,296.1 423.8,297.4 423.8,297.1 423.9,293.9 424,295 424.1,298.6 424.2,298 424.3,291.7 424.3,294.4 424.4,293 424.5,292.7 424.6,290.9 424.7,295.3 424.8,296.2 424.8,292.2 424.9,295.6 425,291.2 425.1,291.4 425.2,292.7 425.2,289.2 425.3,290.9 425.4,296 425.5,293 425.6,293.1 425.7,293.2 425.7,294.6 425.8,291.7 425.9,297.7 426,295.1 426.1,288.2 426.2,299.2 426.2,296.1 426.3,290.5 426.4,293 426.5,290.6 426.6,294.3 426.6,289.9 426.7,298.3 426.8,299 426.9,292.2 427,287.6 427.1,293.7 427.1,290.2 427.2,290.4 427.3,295.5 427.4,295 427.5,294.5 427.6,292.3 427.6,288.4 427.7,297.9 427.8,298.3 427.9,297 428,292.6 428,294.6 428.1,288.8 428.2,288.8 428.3,296.3 428.4,295.6 428.5,296 428.5,296.1 428.6,297.8 428.7,298.9 428.8,285.8 428.9,297.9 429,298.2 429,295.8 429.1,299.4 429.2,291.2 429.3,289.1 429.4,297.7 429.4,291.3 429.5,290.7 429.6,297.5 429.7,296.2 429.8,297.5 429.9,298.4 429.9,297.6 430,292.1 430.1,294.8 430.2,295.3 430.3,296 430.4,292.1 430.4,296.9 430.5,292.3 430.6,298.3 430.7,295.6 430.8,297.8 430.8,296.9 430.9,296.9 431,292.8 431.1,296 431.2,289.8 431.3,298.5 431.3,297.3 431.4,295.3 431.5,289.6 431.6,295.4 431.7,295 431.8,289.5 431.8,299.3 431.9,292.8 432,291.6 432.1,290.6 432.2,291.2 432.2,293.7 432.3,289.6 432.4,288.9 432.5,288.9 432.6,293.5 432.7,291.6 432.7,292.4 432.8,296.6 432.9,295.2 433,298.1 433.1,298.2 433.1,289.1 433.2,297.8 433.3,292 433.4,294 433.5,295.7 433.6,294.9 433.6,294.6 433.7,288.5 433.8,292.4 433.9,290.4 434,280.1 434.1,270.5 434.1,262.2 434.2,251 434.3,251.2 434.4,251.3 434.5,266.3 434.5,278.8 434.6,287.5 434.7,292.8 434.8,296.5 434.9,289 435,297.9 435,294.7 435.1,289.2 435.2,288.6 435.3,293.5 435.4,295.4 435.5,296.9 435.5,294.4 435.6,298.8 435.7,297.7 435.8,290.7 435.9,298.4 435.9,294.5 436,289.9 436.1,296.9 436.2,298.6 436.3,298 436.4,294 436.4,291.4 436.5,294 436.6,291.4 436.7,289.2 436.8,291.2 436.9,298 436.9,292.9 437,289.5 437.1,294.4 437.2,297.3 437.3,291.7 437.3,293.6 437.4,299.6 437.5,294.3 437.6,296.2 437.7,289.9 437.8,290.9 437.8,293.3 437.9,288.3 438,296.4 438.1,292.3 438.2,298.5 438.3,298.4 438.3,291.3 438.4,290 438.5,299.6 438.6,291.2 438.7,290.1 438.7,291.5 438.8,296.5 438.9,291.1 439,293.5 439.1,295.6 439.2,296.7 439.2,296.6 439.3,290.6 439.4,296.3 439.5,299.7 439.6,298 439.7,295.8 439.7,290.3 439.8,296.6 439.9,298.1 440,294.9 440.1,294.1 440.1,297.8 440.2,290.2 440.3,297.8 440.4,296.7 440.5,298.4 440.6,291.8 440.6,298.3 440.7,290.1 440.8,290.9 440.9,299.4 441,298.4 441.1,298.3 441.1,292.8 441.2,297.3 441.3,288.9 441.4,292.6 441.5,291.6 441.5,296.3 441.6,295.5 441.7,292.3 441.8,296.2 441.9,296.4 442,298.4 442,295.8 442.1,297.6 442.2,297.7 442.3,298.7 442.4,298.1 442.4,290.7 442.5,293.3 442.6,296.9 442.7,296.6 442.8,292.4 442.9,290.7 442.9,288.2 443,283.6 443.1,284.7 443.2,269.7 443.3,260.5 443.4,247 443.4,255.9 443.5,265 443.6,276.2 443.7,283.3 443.8,283.9 443.8,295.8 443.9,289.4 444,290.4 444.1,297 444.2,291.5 444.3,294 444.3,296.3 444.4,291.7 444.5,289.7 444.6,294.9 444.7,291.9 444.8,292.8 444.8,295.8 444.9,291.1 445,299.4 445.1,294.3 445.2,290.6 445.2,291.4 445.3,292.2 445.4,290.6 445.5,296.9 445.6,295 445.7,297.9 445.7,297.5 445.8,295.6 445.9,299.7 446,298.4 446.1,295.7 446.2,298 446.2,299 446.3,299.1 446.4,294.7 446.5,291.6 446.6,291.6 446.6,293.3 446.7,292.6 446.8,293.5 446.9,294.2 447,298.5 447.1,295.9 447.1,288.5 447.2,290.5 447.3,291.7 447.4,296.8 447.5,295.3 447.6,292.5 447.6,293.3 447.7,297.2 447.8,296.1 447.9,291 448,294.4 448,298.1 448.1,294.4 448.2,294.3 448.3,298.9 448.4,297.1 448.5,293.1 448.5,295.8 448.6,294.6 448.7,292.3 448.8,297.7 448.9,289.2 449,290.8 449,299.6 449.1,297.2 449.2,293.6 449.3,296.1 449.4,295.7 449.4,296.3 449.5,299.7 449.6,292.2 449.7,294.2 449.8,298.5 449.9,292.6 449.9,291 450,297.5 450.1,294.5 450.2,298.4 450.3,288.2 450.4,296 450.4,295.9 450.5,298.4 450.6,295.5 450.7,295.5 450.8,295.4 450.8,294.4 450.9,294.7 451,298.1 451.1,291.1 451.2,293 451.3,296.2 451.3,295.1 451.4,291.9 451.5,298.3 451.6,298 451.7,290.8 451.8,297.6 451.8,292.4 451.9,293.6 452,295.6 452.1,300.1 452.2,296 452.2,300.2 452.3,294.5 452.4,295.8 452.5,296 452.6,292.4 452.7,293 452.7,291.2 452.8,292.3 452.9,299.3 453,292.8 453.1,293.5 453.1,291.5 453.2,295.6 453.3,298.2 453.4,297.8 453.5,293.5 453.6,295.5 453.6,293 453.7,299 453.8,297.4 453.9,291 454,298.9 454.1,293.7 454.1,295 454.2,290.5 454.3,294.7 454.4,297.6 454.5,298.5 454.5,292.8 454.6,292.2 454.7,289.5 454.8,293.2 454.9,294 455,287.1 455,289.1 455.1,284.4 455.2,272.9 455.3,260.6 455.4,233.2 455.5,197.3 455.5,164.7 455.6,159.5 455.7,176 455.8,214.9 455.9,247.6 455.9,268 456,277.5 456.1,290.7 456.2,286.6 456.3,295.9 456.4,297.1 456.4,297.3 456.5,293.5 456.6,291.9 456.7,292.4 456.8,294 456.9,294.7 456.9,299.4 457,295.8 457.1,296.9 457.2,298.9 457.3,295.7 457.3,295.5 457.4,298.6 457.5,292.7 457.6,292.2 457.7,299 457.8,298 457.8,297 457.9,292.4 458,298.3 458.1,299.2 458.2,294.7 458.3,293 458.3,299.1 458.4,293.6 458.5,298.8 458.6,300 458.7,294 458.7,294.3 458.8,294.2 458.9,296 459,295 459.1,297.5 459.2,297.6 459.2,292.1 459.3,299.7 459.4,293.4 459.5,296.6 459.6,297.1 459.7,294.4 459.7,295.7 459.8,298.1 459.9,296.8 460,299.2 460.1,300.3 460.1,295.4 460.2,295.9 460.3,293.1 460.4,292.1 460.5,292.8 460.6,292 460.6,292 460.7,297.7 460.8,294.8 460.9,295.8 461,295.1 461.1,291.9 461.1,299.9 461.2,298.6 461.3,295.6 461.4,292.8 461.5,297.9 461.5,300.6 461.6,297.2 461.7,299.6 461.8,297.2 461.9,293.9 462,295.5 462,294.5 462.1,295 462.2,300 462.3,298.5 462.4,299.9 462.5,297.5 462.5,297.1 462.6,292 462.7,292.9 462.8,293.5 462.9,293.4 462.9,293 463,297.3 463.1,293.7 463.2,300.5 463.3,292.1 463.4,297 463.4,294.9 463.5,292.7 463.6,296.4 463.7,295.7 463.8,295 463.8,298 463.9,295.6 464,292.8 464.1,299.5 464.2,295 464.3,293.9 464.3,294.7 464.4,299.9 464.5,294.8 464.6,295.8 464.7,292.8 464.8,298.3 464.8,294.6 464.9,298.9 465,299.8 465.1,294.5 465.2,295.9 465.2,293.9 465.3,294.8 465.4,293.1 465.5,296.8 465.6,298.7 465.7,295.5 465.7,294.8 465.8,292.6 465.9,300.5 466,295.2 466.1,295.8 466.2,295.8 466.2,296.3 466.3,297 466.4,292.2 466.5,295.3 466.6,298.7 466.6,293.9 466.7,294.5 466.8,297.7 466.9,290.2 467,299.5 467.1,296.7 467.1,296.5 467.2,296.9 467.3,294.4 467.4,296.3 467.5,292.6 467.6,300.3 467.6,298.8 467.7,300.6 467.8,293 467.9,300.5 468,297.8 468,297.8 468.1,299 468.2,294.9 468.3,300.1 468.4,299.5 468.5,296.5 468.5,296.1 468.6,296.2 468.7,296.1 468.8,294.7 468.9,299.9 469,297.2 469,293.1 469.1,293.1 469.2,292.3 469.3,299.9 469.4,293 469.4,297.5 469.5,293.5 469.6,295.6 469.7,299.4 469.8,298.1 469.9,295.5 469.9,300.3 470,298.5 470.1,299.2 470.2,292.7 470.3,295.2 470.4,294.7 470.4,296.9 470.5,299 470.6,294.4 470.7,296.6 470.8,294.8 470.8,296.3 470.9,293.4 471,298.3 471.1,292.9 471.2,296.7 471.3,297.9 471.3,299.9 471.4,297.2 471.5,295.9 471.6,296.2 471.7,297.4 471.8,293.5 471.8,294.1 471.9,292.5 472,297.3 472.1,297.4 472.2,293.2 472.2,299.5 472.3,299.7 472.4,294.6 472.5,293.2 472.6,296.5 472.7,292.3 472.7,299.2 472.8,294.7 472.9,294.1 473,295.7 473.1,300.6 473.1,299.8 473.2,300.1 473.3,300.3 473.4,297.9 473.5,295.4 473.6,293.5 473.6,300.7 473.7,296.2 473.8,295.2 473.9,298.5 474,300 474.1,295.3 474.1,297.9 474.2,300.2 474.3,295.7 474.4,294 474.5,296.1 474.5,294.3 474.6,298.9 474.7,299.2 474.8,295.5 474.9,299.3 475,298.4 475,299.7 475.1,300.7 475.2,298.6 475.3,293.8 475.4,298 475.5,298.4 475.5,300.5 475.6,300.6 475.7,299.4 475.8,298.9 475.9,300.4 475.9,299 476,299.9 476.1,299 476.2,293.1 476.3,294.7 476.4,292.9 476.4,296.6 476.5,298.1 476.6,295.7 476.7,297.6 476.8,293 476.9,296.8 476.9,294.9 477,295 477.1,293.2 477.2,293.7 477.3,293.4 477.3,295 477.4,295.9 477.5,297 477.6,298 477.7,297.8 477.8,300.4 477.8,292.1 477.9,297.6 478,300.5 478.1,297.5 478.2,296.2 478.3,297.9 478.3,295.4 478.4,296.8 478.5,295.3 478.6,298.1 478.7,294.1 478.7,297.7 478.8,296.9 478.9,297.1 479,295 479.1,293.4 479.2,298.3 479.2,299.8 479.3,295.3 479.4,295.1 479.5,293.3 479.6,296.6 479.7,292.9 479.7,300.7 479.8,299.4 479.9,300.7 480,296.2 480.1,293.4 480.1,300.3 480.2,294.5 480.3,294.9 480.4,294.2 480.5,297.3 480.6,296.3 480.6,299.7 480.7,298.7 480.8,295.7 480.9,297 481,294.8 481.1,298.2 481.1,297.6 481.2,298.8 481.3,290.3 481.4,294.5 481.5,295.4 481.5,293 481.6,294.8 481.7,293.1 481.8,297.2 481.9,299 482,297.8 482,298.4 482.1,294.2 482.2,295.7 482.3,301 482.4,299.6 482.5,298.8 482.5,293.8 482.6,295.9 482.7,300.8 482.8,293.5 482.9,293 482.9,295.5 483,298.5 483.1,293.1 483.2,295.8 483.3,299.9 483.4,298.8 483.4,295.9 483.5,296.9 483.6,299.8 483.7,293.8 483.8,297.5 483.8,295.1 483.9,294.2 484,295.4 484.1,294.8 484.2,294.5 484.3,298.9 484.3,300.3 484.4,293 484.5,299.9 484.6,300.4 484.7,295.6 484.8,296.5 484.8,300.7 484.9,299.4 485,293.5 485.1,300.3 485.2,295.6 485.2,297.6 485.3,296.7 485.4,299.5 485.5,298.6 485.6,300.5 485.7,293.1 485.7,296.4 485.8,295 485.9,299.9 486,297.6 486.1,299.7 486.2,300.7 486.2,300.7 486.3,299.2 486.4,295.2 486.5,297.8 486.6,297.9 486.6,300.9 486.7,297.8 486.8,292.9 486.9,300.6 487,295 487.1,295.5 487.1,295.2 487.2,294.2 487.3,293.4 487.4,294.3 487.5,294.5 487.6,296.6 487.6,296.7 487.7,293.8 487.8,300.5 487.9,295 488,295.7 488,293.2 488.1,296.5 488.2,293.9 488.3,299.6 488.4,296 488.5,293.3 488.5,294.2 488.6,300.3 488.7,298 488.8,295.3 488.9,300.1 489,299.4 489,296.5 489.1,295.8 489.2,295.3 489.3,298.4 489.4,296.1 489.4,296.4 489.5,294.5 489.6,295 489.7,293.3 489.8,298.4 489.9,299.7 489.9,295.6 490,299.5 490.1,300.3 490.2,296.7 490.3,296.8 490.4,294.5 490.4,297 490.5,296.2 490.6,291.6 490.7,294.5 490.8,296.1 490.8,293.8 490.9,297.1 491,298.2 491.1,295.7 491.2,299 491.3,298.9 491.3,296.4 491.4,297.5 491.5,297.2 491.6,294.8 491.7,293.4 491.8,293.1 491.8,294.9 491.9,295.3 492,295.8 492.1,296.9 492.2,297.1 492.2,294.5 492.3,299.4 492.4,294 492.5,298.9 492.6,299.9 492.7,300.5 492.7,296.7 492.8,291.6 492.9,295.5 493,294.9 493.1,296.9 493.2,294 493.2,294.1 493.3,295.7 493.4,296.1 493.5,293.4 493.6,299.5 493.6,298.3 493.7,298.4 493.8,297.2 493.9,299.4 494,299 494.1,297.2 494.1,294.5 494.2,295.7 494.3,300.6 494.4,297.9 494.5,298.8 494.5,300.6 494.6,295.6 494.7,299 494.8,296.6 494.9,299.4 495,298.2 495,296.6 495.1,296.7 495.2,298.6 495.3,300.5 495.4,298 495.5,297.8 495.5,293.4 495.6,296.2 495.7,293.5 495.8,297.9 495.9,295.8 495.9,300.2 496,298.5 496.1,298.4 496.2,290.6 496.3,296.9 496.4,294.7 496.4,295.4 496.5,300.7 496.6,300.2 496.7,295.5 496.8,299.4 496.9,299.6 496.9,300.9 497,295.9 497.1,298.4 497.2,295.7 497.3,300.9 497.3,300.5 497.4,300.4 497.5,298.9 497.6,300.4 497.7,299.3 497.8,297.7 497.8,299.9 497.9,297.3 498,299.2 498.1,297.8 498.2,299.2 498.3,296.3 498.3,293.2 498.4,297.6 498.5,294.4 498.6,296.6 498.7,298.4 498.7,297.2 498.8,300.1 498.9,299.3 499,298.2 499.1,299.6 499.2,294.6 499.2,292.7 499.3,296 499.4,294.9 499.5,293.8 499.6,297.5 499.7,292.4 499.7,293.8 499.8,297.3 499.9,291.3 500,291.6 500.1,289.9 500.1,289.8 500.2,289.4 500.3,286.8 500.4,273.3 500.5,256.9 500.6,219 500.6,177.9 500.7,141 500.8,124.5 500.9,142.1 501,186.6 501.1,221.3 501.1,258.8 501.2,273.4 501.3,288.5 501.4,288.4 501.5,286.3 501.5,293.7 501.6,292.6 501.7,291.4 501.8,297.4 501.9,291.6 502,298.4 502,298.6 502.1,299.4 502.2,295.7 502.3,299.8 502.4,293.4 502.5,298.8 502.5,298.3 502.6,297 502.7,300 502.8,294.3 502.9,295.5 502.9,293 503,294.5 503.1,294 503.2,300.1 503.3,293.7 503.4,300.5 503.4,297.3 503.5,293.6 503.6,299.4 503.7,299.7 503.8,294.5 503.8,293.5 503.9,296.2 504,298.1 504.1,300.9 504.2,295.4 504.3,300.5 504.3,296.5 504.4,297.5 504.5,297.4 504.6,298.9 504.7,298.7 504.8,295.2 504.8,297.4 504.9,296.2 505,298.1 505.1,296.9 505.2,297.7 505.2,300.6 505.3,293.6 505.4,299.5 505.5,298.1 505.6,299.9 505.7,295.6 505.7,296.4 505.8,299.2 505.9,298.7 506,298.5 506.1,297.2 506.2,299.7 506.2,297.4 506.3,300.1 506.4,300.5 506.5,300.6 506.6,295.3 506.6,293.5 506.7,295 506.8,297.1 506.9,298.7 507,298.4 507.1,294.4 507.1,299.7 507.2,296.6 507.3,294.5 507.4,300.6 507.5,293.8 507.6,297.2 507.6,296.1 507.7,295.5 507.8,299.1 507.9,296 508,300.5 508,296.9 508.1,295.9 508.2,299.5 508.3,296.4 508.4,295 508.5,295.5 508.5,296 508.6,300.1 508.7,294.6 508.8,300.2 508.9,298.4 509,296.3 509,294.6 509.1,295.1 509.2,295.3 509.3,292.9 509.4,297.8 509.4,297.3 509.5,296 509.6,291.3 509.7,298 509.8,295.5 509.9,297.4 509.9,295.1 510,291 510.1,291.8 510.2,294.9 510.3,287.1 510.4,285.1 510.4,282.2 510.5,280.9 510.6,274 510.7,264.4 510.8,257.5 510.8,259 510.9,261 511,268.4 511.1,276.1 511.2,282.9 511.3,288.1 511.3,286.3 511.4,290.6 511.5,289 511.6,286.7 511.7,289.1 511.8,257.8 511.8,100.9 511.9,60 512,60 512.1,60 512.2,60 512.2,60 512.3,60 512.4,212 512.5,281.2 512.6,294.1 512.7,294.6 512.7,290.8 512.8,292.1 512.9,296.8 513,290.8 513.1,298 513.2,295.5 513.2,295.5 513.3,298.3 513.4,298.9 513.5,298.7 513.6,296.9 513.6,298.6 513.7,297.7 513.8,293.5 513.9,297.3 514,294.5 514.1,294.6 514.1,297.7 514.2,300.8 514.3,299.1 514.4,301 514.5,296.4 514.5,300.9 514.6,293.2 514.7,297.7 514.8,296.8 514.9,294.6 515,297.4 515,299.8 515.1,299.7 515.2,294.6 515.3,297.7 515.4,296.2 515.5,298.1 515.5,297 515.6,300.2 515.7,299.2 515.8,295.8 515.9,295.6 515.9,296.8 516,296.1 516.1,299.2 516.2,296.4 516.3,297.3 516.4,294.3 516.4,295.5 516.5,298.4 516.6,300.2 516.7,297 516.8,294.9 516.9,295.8 516.9,296.5 517,299.3 517.1,294.2 517.2,297.4 517.3,296.9 517.3,295.9 517.4,295.5 517.5,293.9 517.6,295.1 517.7,299.7 517.8,296.3 517.8,296.2 517.9,300.5 518,300.3 518.1,295.7 518.2,295.4 518.3,297 518.3,299.1 518.4,294.6 518.5,300.3 518.6,298.9 518.7,296.7 518.7,299.5 518.8,299.8 518.9,300.2 519,300.5 519.1,297.1 519.2,294.8 519.2,299.4 519.3,298 519.4,294.1 519.5,296.3 519.6,300.9 519.7,294.9 519.7,297.9 519.8,297.1 519.9,300 520,294.7 520.1,292.7 520.1,295.6 520.2,297.1 520.3,299.8 520.4,293.9 520.5,293.8 520.6,296.4 520.6,297.8 520.7,298.2 520.8,300 520.9,298.8 521,299.4 521.1,300 521.1,297.7 521.2,298.9 521.3,300.4 521.4,299.4 521.5,297.9 521.5,299.5 521.6,299.7 521.7,299 521.8,297.4 521.9,299 522,295.4 522,300.4 522.1,298 522.2,294.7 522.3,294.7 522.4,297.9 522.5,297.9 522.5,298.5 522.6,300.8 522.7,295.5 522.8,300.9 522.9,297 522.9,294.4 523,298.6 523.1,295.4 523.2,300.3 523.3,299.1 523.4,297 523.4,297.4 523.5,299.6 523.6,294.7 523.7,298.4 523.8,298 523.9,295.6 523.9,295.2 524,299.4 524.1,299.4 524.2,298.9 524.3,295.2 524.3,297 524.4,295.5 524.5,296.8 524.6,297.9 524.7,299.9 524.8,300.8 524.8,299.3 524.9,299.3 525,295.7 525.1,298.2 525.2,300.6 525.2,296.5 525.3,294.4 525.4,301.3 525.5,298.7 525.6,296.6 525.7,300.1 525.7,294 525.8,295.8 525.9,294.3 526,296 526.1,300.1 526.2,298.1 526.2,296 526.3,294.7 526.4,297.6 526.5,295.6 526.6,297.7 526.6,299.9 526.7,296 526.8,298.5 526.9,300.4 527,296.7 527.1,298 527.1,295.2 527.2,300.9 527.3,294.1 527.4,295.3 527.5,301.2 527.6,295.6 527.6,298 527.7,299.2 527.8,299.3 527.9,295.8 528,297 528,295.7 528.1,299.7 528.2,300 528.3,295.9 528.4,295.5 528.5,299.2 528.5,297.5 528.6,295.4 528.7,298.6 528.8,301.2 528.9,295.1 529,298.3 529,298.3 529.1,295.7 529.2,298.2 529.3,301.2 529.4,294 529.4,299.6 529.5,294.4 529.6,295.7 529.7,295.1 529.8,296.5 529.9,296.6 529.9,298.6 530,298.4 530.1,294.6 530.2,292.4 530.3,294.7 530.4,301 530.4,294.1 530.5,296.8 530.6,300.2 530.7,296.4 530.8,294.8 530.8,295.1 530.9,295.6 531,296.2 531.1,295.2 531.2,300 531.3,300.2 531.3,299.5 531.4,300.1 531.5,300.6 531.6,301 531.7,297.4 531.8,297.6 531.8,297.1 531.9,300.6 532,298.1 532.1,294.7 532.2,296 532.2,300.5 532.3,296.4 532.4,295.7 532.5,299.4 532.6,296.6 532.7,300.5 532.7,296.7 532.8,295.3 532.9,299.8 533,295.2 533.1,298.9 533.2,300.8 533.2,294.9 533.3,294.4 533.4,299 533.5,298.7 533.6,300 533.6,295 533.7,297.8 533.8,297.8 533.9,301.3 534,298.6 534.1,296 534.1,301.2 534.2,294.2 534.3,295.9 534.4,294.2 534.5,300.7 534.5,299.1 534.6,294.2 534.7,298 534.8,294.9 534.9,295.1 535,300.7 535,294.6 535.1,300.7 535.2,295.6 535.3,297.4 535.4,294.7 535.5,299.7 535.5,297.3 535.6,300.1 535.7,296.4 535.8,294.5 535.9,300.8 535.9,298.5 536,301 536.1,298.3 536.2,295.7 536.3,298.1 536.4,296.6 536.4,294.1 536.5,299.9 536.6,294.6 536.7,300.8 536.8,295.8 536.9,299 536.9,298.2 537,295.9 537.1,301.3 537.2,300.9 537.3,297.5 537.3,294.2 537.4,297.6 537.5,300.1 537.6,298.8 537.7,296.7 537.8,294.7 537.8,294.3 537.9,294.7 538,298.1 538.1,299.4 538.2,296.5 538.3,294.5 538.3,295.7 538.4,301 538.5,295.3 538.6,294.2 538.7,294.3 538.7,294.2 538.8,301.2 538.9,300.8 539,300.9 539.1,300.9 539.2,297.3 539.2,295.4 539.3,295.6 539.4,299.6 539.5,295.5 539.6,296.6 539.7,295.7 539.7,297.1 539.8,297.4 539.9,294.5 540,295 540.1,300 540.1,296.3 540.2,295.2 540.3,295.7 540.4,300.1 540.5,299 540.6,299.6 540.6,300.6 540.7,299.5 540.8,294.3 540.9,295.8 541,299.7 541.1,296.8 541.1,296.8 541.2,299.5 541.3,295.6 541.4,298 541.5,294.7 541.5,296 541.6,295 541.7,296.3 541.8,301.2 541.9,300.1 542,296.4 542,299.2 542.1,297.4 542.2,294.2 542.3,300 542.4,298.4 542.5,295.7 542.5,296.2 542.6,298.1 542.7,298 542.8,299.5 542.9,296.1 542.9,295.1 543,298.3 543.1,301.1 543.2,294.9 543.3,295.5 543.4,296.6 543.4,298.9 543.5,300.7 543.6,296.7 543.7,294.3 543.8,296.5 543.9,296.6 543.9,294.7 544,294.7 544.1,296.6 544.2,297.7 544.3,299.4 544.3,292.7 544.4,295.6 544.5,299.7 544.6,296.2 544.7,293.9 544.8,293.3 544.8,289.4 544.9,287.7 545,279.2 545.1,265.1 545.2,256.7 545.2,242.3 545.3,243.3 545.4,254.1 545.5,266.5 545.6,280.6 545.7,284.7 545.7,293.9 545.8,297.3 545.9,296.1 546,292.4 546.1,294.4 546.2,293.9 546.2,298.1 546.3,299.4 546.4,298.5 546.5,297 546.6,300.8 546.6,299.1 546.7,300.3 546.8,299.3 546.9,294.9 547,300.4 547.1,299.2 547.1,296.3 547.2,294.6 547.3,295.4 547.4,298.6 547.5,296.8 547.6,300.7 547.6,295.4 547.7,301 547.8,296.3 547.9,294.7 548,294.4 548,298.1 548.1,295.4 548.2,294.6 548.3,296.9 548.4,299.8 548.5,295.9 548.5,294.5 548.6,297.5 548.7,297.2 548.8,299 548.9,297.9 549,296.8 549,300.9 549.1,301.1 549.2,295.2 549.3,300.6 549.4,300.7 549.4,300.4 549.5,299.2 549.6,300.4 549.7,295.2 549.8,298.4 549.9,299 549.9,299.4 550,296.9 550.1,300.3 550.2,294.7 550.3,299.1 550.4,295.9 550.4,295.1 550.5,294.3 550.6,297.6 550.7,300.2 550.8,295.3 550.8,300 550.9,300.7 551,296.6 551.1,298.2 551.2,294.8 551.3,296.8 551.3,295.6 551.4,294.3 551.5,298.7 551.6,297.4 551.7,300.1 551.8,298.8 551.8,296.5 551.9,298.8 552,296.7 552.1,290.7 552.2,291 552.2,284.1 552.3,277.5 552.4,269.1 552.5,268.4 552.6,266.9 552.7,277.3 552.7,286.1 552.8,292.8 552.9,295.7 553,298.9 553.1,297.4 553.2,298.3 553.2,293.7 553.3,295.8 553.4,299.2 553.5,299.3 553.6,299.6 553.6,295.1 553.7,294.9 553.8,298.3 553.9,300.6 554,296.9 554.1,299.8 554.1,295.7 554.2,296.4 554.3,299 554.4,294.5 554.5,297.6 554.5,297.7 554.6,297.1 554.7,299.1 554.8,297.8 554.9,298.2 555,300.4 555,296.8 555.1,298.7 555.2,299.4 555.3,297.3 555.4,299.7 555.5,295.9 555.5,294.9 555.6,299.2 555.7,300.7 555.8,300.3 555.9,300.1 555.9,298.3 556,301.3 556.1,296.3 556.2,297 556.3,298.5 556.4,297.4 556.4,299.1 556.5,300.2 556.6,298.2 556.7,301.1 556.8,294.8 556.9,299.2 556.9,299.1 557,294.8 557.1,297.5 557.2,300.7 557.3,299.6 557.3,297.7 557.4,297.4 557.5,296.6 557.6,296.3 557.7,295.3 557.8,300.6 557.8,300.5 557.9,297.1 558,296.3 558.1,295.4 558.2,296.4 558.3,300.4 558.3,296.2 558.4,298 558.5,297.2 558.6,300.1 558.7,294.8 558.7,298.5 558.8,294.6 558.9,297.4 559,300.1 559.1,297.1 559.2,293.1 559.2,297.8 559.3,297 559.4,295.9 559.5,298.7 559.6,298.7 559.7,300.3 559.7,300.2 559.8,300.8 559.9,297.8 560,296.2 560.1,300.6 560.1,298.7 560.2,294.5 560.3,300.4 560.4,299.6 560.5,299.1 560.6,299.3 560.6,298.6 560.7,295.6 560.8,296.2 560.9,299.5 561,296.3 561.1,301.3 561.1,296.9 561.2,298.7 561.3,300.8 561.4,300.6 561.5,300.9 561.5,296.5 561.6,298.7 561.7,296.4 561.8,299.8 561.9,296.1 562,294.6 562,298.6 562.1,298.9 562.2,296.8 562.3,299.6 562.4,298.9 562.5,296.3 562.5,293.3 562.6,298 562.7,294.9 562.8,300.5 562.9,294.7 562.9,295.9 563,294.7 563.1,297.1 563.2,295.4 563.3,300.6 563.4,296.3 563.4,293.3 563.5,296.5 563.6,298.5 563.7,300.7 563.8,300.7 563.9,294.1 563.9,297.8 564,297.8 564.1,299.3 564.2,297.5 564.3,300.7 564.3,295.4 564.4,296.7 564.5,301.1 564.6,298.8 564.7,298.4 564.8,300.7 564.8,297.3 564.9,295.2 565,295.6 565.1,298.6 565.2,296.1 565.2,296.1 565.3,298.4 565.4,299.5 565.5,299.4 565.6,297.3 565.7,297.9 565.7,294.9 565.8,296 565.9,296.3 566,299.3 566.1,296 566.2,295.3 566.2,294.7 566.3,300.2 566.4,296.5 566.5,298.9 566.6,299.4 566.6,299.5 566.7,296.7 566.8,299 566.9,295.1 567,297.7 567.1,296 567.1,295.2 567.2,297.1 567.3,299.8 567.4,299.9 567.5,301 567.6,300.7 567.6,298.2 567.7,301 567.8,297.3 567.9,300.8 568,294.7 568,298.5 568.1,295.4 568.2,299.9 568.3,295.8 568.4,296.5 568.5,300.2 568.5,294.8 568.6,300 568.7,296.2 568.8,300.2 568.9,296.4 569,299.9 569,300.8 569.1,294.9 569.2,295.1 569.3,296.6 569.4,298.7 569.4,295.8 569.5,297.7 569.6,298.7 569.7,299.9 569.8,294.9 569.9,300.8 569.9,300 570,295.1 570.1,299.2 570.2,295.1 570.3,296.4 570.4,296.6 570.4,295.2 570.5,298.2 570.6,300.2 570.7,294.9 570.8,297 570.8,295.7 570.9,296.8 571,300 571.1,295.1 571.2,296.7 571.3,296.7 571.3,300.2 571.4,297.4 571.5,300.3 571.6,295.6 571.7,297.2 571.8,300.7 571.8,294.9 571.9,299.7 572,300.8 572.1,297.8 572.2,299.3 572.2,297.7 572.3,299.9 572.4,298.3 572.5,295.9 572.6,297.4 572.7,296.4 572.7,297.5 572.8,292.3 572.9,298.1 573,300.5 573.1,298.1 573.2,295.1 573.2,300.1 573.3,300.9 573.4,295.7 573.5,295 573.6,299.2 573.6,299.6 573.7,298 573.8,300.7 573.9,301.3 574,295.2 574.1,299 574.1,300.3 574.2,300.2 574.3,301.1 574.4,299.1 574.5,296.2 574.6,299.9 574.6,299.3 574.7,298.5 574.8,299.8 574.9,299.3 575,295.5 575,297.7 575.1,299.4 575.2,298 575.3,299.8 575.4,296.1 575.5,295 575.5,296.7 575.6,296 575.7,295.7 575.8,299.9 575.9,295.3 575.9,299.7 576,299 576.1,297.7 576.2,299.2 576.3,300.5 576.4,295.8 576.4,299.8 576.5,300.1 576.6,299.4 576.7,299.5 576.8,298.8 576.9,296.4 576.9,299.5 577,298.5 577.1,298.7 577.2,296.6 577.3,296.6 577.3,299.2 577.4,300.1 577.5,295.6 577.6,297.2 577.7,297.3 577.8,295.2 577.8,299.5 577.9,298 578,299.1 578.1,301 578.2,301.4 578.3,299.9 578.3,301.3 578.4,295.1 578.5,297 578.6,295 578.7,294.7 578.7,297.6 578.8,296.6 578.9,298.6 579,296.5 579.1,295 579.2,295.5 579.2,294.9 579.3,295 579.4,300.9 579.5,296.6 579.6,296.8 579.7,298.3 579.7,295.9 579.8,298.7 579.9,298.2 580,298.1 580.1,298.4 580.1,295.1 580.2,300.6 580.3,300.5 580.4,297.5 580.5,298.2 580.6,295.5 580.6,295.4 580.7,301.3 580.8,300.6 580.9,300.3 581,295.5 581.1,299 581.1,298.6 581.2,299.8 581.3,297.2 581.4,300 581.5,297.4 581.5,299.7 581.6,294.1 581.7,297.5 581.8,295.8 581.9,296.7 582,298.4 582,297.5 582.1,297.7 582.2,295.7 582.3,298 582.4,298.1 582.5,300.8 582.5,295.5 582.6,300.9 582.7,295.7 582.8,295.6 582.9,298.8 582.9,301.3 583,299 583.1,299.6 583.2,294.9 583.3,296.1 583.4,297.9 583.4,295.9 583.5,298.2 583.6,301.4 583.7,295.3 583.8,294.9 583.9,296.6 583.9,301.1 584,300.3 584.1,293.3 584.2,297.3 584.3,301.3 584.3,299.6 584.4,298.1 584.5,299 584.6,298.6 584.7,297.9 584.8,296.8 584.8,300.8 584.9,297.8 585,301.1 585.1,301.3 585.2,298.3 585.2,298.8 585.3,296 585.4,297.6 585.5,297.4 585.6,297.1 585.7,297.9 585.7,296.3 585.8,298.7 585.9,300.1 586,295.9 586.1,298.2 586.2,301.2 586.2,300.6 586.3,300.7 586.4,295.2 586.5,296.6 586.6,297 586.6,295.4 586.7,297.4 586.8,297.5 586.9,294.5 587,300.1 587.1,294.9 587.1,296.1 587.2,296.8 587.3,295.3 587.4,296.1 587.5,296 587.6,298 587.6,297.1 587.7,296.1 587.8,299.4 587.9,297.6 588,299.6 588,297.4 588.1,295.3 588.2,294.8 588.3,301.3 588.4,298.6 588.5,300.2 588.5,297.2 588.6,298.4 588.7,295.3 588.8,300.8 588.9,296.4 589,295.9 589,295.2 589.1,295.7 589.2,300.8 589.3,295.2 589.4,294.9 589.4,294.3 589.5,298.1 589.6,301.2 589.7,299.8 589.8,297.1 589.9,297.3 589.9,298.2 590,301.2 590.1,293.9 590.2,301.1 590.3,299.4 590.4,299.2 590.4,296.4 590.5,297.3 590.6,297.3 590.7,296.5 590.8,300.8 590.8,295.1 590.9,300.8 591,299 591.1,296.3 591.2,297.8 591.3,298.6 591.3,299.9 591.4,300 591.5,298 591.6,297.1 591.7,297.9 591.8,300 591.8,297.9 591.9,297.2 592,298.6 592.1,295 592.2,297.3 592.2,295.1 592.3,297 592.4,298.5 592.5,298 592.6,299.1 592.7,295.2 592.7,295.7 592.8,297.5 592.9,299.1 593,296 593.1,295.1 593.2,296.3 593.2,296.6 593.3,299.1 593.4,298.7 593.5,299.1 593.6,297.5 593.6,298.4 593.7,294.9 593.8,297.5 593.9,298 594,297.2 594.1,299 594.1,295.8 594.2,293.6 594.3,291.4 594.4,289.1 594.5,284.8 594.6,285.8 594.6,285.7 594.7,287.6 594.8,289.6 594.9,295.4 595,297.1 595,294.3 595.1,297.2 595.2,297.9 595.3,299.6 595.4,299.7 595.5,295.4 595.5,300.7 595.6,295.4 595.7,300.9 595.8,296.9 595.9,295.6 595.9,297.7 596,296.5 596.1,299.9 596.2,295.5 596.3,295.1 596.4,294.6 596.4,301.2 596.5,300.8 596.6,299.5 596.7,299.8 596.8,298.7 596.9,297.7 596.9,296.5 597,299.5 597.1,297.6 597.2,300 597.3,299.1 597.3,295.6 597.4,296.6 597.5,295.1 597.6,294.9 597.7,295.4 597.8,299 597.8,296.2 597.9,295.5 598,299 598.1,297.1 598.2,298.8 598.3,301.3 598.3,298.2 598.4,301.4 598.5,296.7 598.6,300.5 598.7,301.1 598.7,300 598.8,298.7 598.9,296 599,299 599.1,300.9 599.2,294.6 599.2,299.7 599.3,301 599.4,296 599.5,297.4 599.6,298.2 599.7,300.5 599.7,299.4 599.8,296.3 599.9,296.5 600,299.3 600.1,296.8 600.1,295.9 600.2,297.5 600.3,299 600.4,300 600.5,295.7 600.6,296.2 600.6,299.8 600.7,299.2 600.8,296.6 600.9,299.7 601,300.9 601.1,294.8 601.1,298.4 601.2,295.8 601.3,296.3 601.4,296.6 601.5,295.8 601.5,300.8 601.6,292.8 601.7,298.3 601.8,295.9 601.9,299.5 602,297.1 602,300.6 602.1,301.4 602.2,298.6 602.3,297.2 602.4,297.5 602.5,294.7 602.5,296.1 602.6,298.8 602.7,300.5 602.8,295.8 602.9,300.7 602.9,300.4 603,295.3 603.1,295 603.2,295.6 603.3,297.1 603.4,301.4 603.4,297.1 603.5,294.7 603.6,300.3 603.7,297.1 603.8,297.4 603.9,301 603.9,296 604,296.7 604.1,298.6 604.2,297.1 604.3,301 604.3,294.7 604.4,298.1 604.5,298.9 604.6,294.6 604.7,301 604.8,295.3 604.8,298.4 604.9,299.8 605,296.5 605.1,297.1 605.2,296.6 605.3,297.8 605.3,296.4 605.4,301.1 605.5,299.8 605.6,299.7 605.7,294.8 605.7,294.8 605.8,297.8 605.9,295.6 606,300.5 606.1,297.3 606.2,297.1 606.2,298.7 606.3,296.9 606.4,297.2 606.5,295.5 606.6,297.5 606.6,299.7 606.7,297.7 606.8,299.3 606.9,300.1 607,298.5 607.1,300.2 607.1,293.9 607.2,295.4 607.3,296.5 607.4,296.1 607.5,297.1 607.6,300.8 607.6,297.5 607.7,297.5 607.8,297.4 607.9,296.3 608,296.6 608,294.6 608.1,299.3 608.2,300.8 608.3,297.6 608.4,294.8 608.5,295.5 608.5,296.5 608.6,297.3 608.7,297.5 608.8,297.7 608.9,299.4 609,296.2 609,298.3 609.1,297.7 609.2,297.2 609.3,301 609.4,296.3 609.4,299.8 609.5,296.4 609.6,300 609.7,299.5 609.8,298.9 609.9,299.7 609.9,298.2 610,297.4 610.1,299.3 610.2,301 610.3,297.3 610.4,300.6 610.4,296.3 610.5,300.8 610.6,295 610.7,295.8 610.8,295 610.8,297.6 610.9,296.9 611,296.2 611.1,299.5 611.2,297.9 611.3,298.9 611.3,296.8 611.4,300.4 611.5,300.1 611.6,297.5 611.7,299.8 611.8,297.7 611.8,297.2 611.9,300.5 612,298.7 612.1,300.1 612.2,299.7 612.2,297.2 612.3,295.8 612.4,297.8 612.5,300.3 612.6,295.1 612.7,300.3 612.7,295.6 612.8,293.1 612.9,300.8 613,295.9 613.1,296.3 613.2,299.7 613.2,298.4 613.3,298.8 613.4,299.4 613.5,293.2 613.6,294.7 613.6,299.5 613.7,295.4 613.8,298.3 613.9,301 614,296.6 614.1,299.6 614.1,301.4 614.2,297 614.3,298.6 614.4,298.5 614.5,301.2 614.6,297.3 614.6,297.5 614.7,300 614.8,296.8 614.9,299 615,300.8 615,301.3 615.1,297.4 615.2,297.7 615.3,300.7 615.4,299.5 615.5,300.7 615.5,299.5 615.6,296.7 615.7,298.9 615.8,300.6 615.9,294.8 615.9,296.3 616,295.1 616.1,299.3 616.2,296 616.3,296.9 616.4,296.5 616.4,301 616.5,295.6 616.6,298.3 616.7,301.2 616.8,296.3 616.9,300.4 616.9,299.2 617,296.1 617.1,296.1 617.2,300.6 617.3,299.4 617.3,298.4 617.4,295.6 617.5,299 617.6,299.6 617.7,300.5 617.8,297.7 617.8,297.2 617.9,297.4 618,299.3 618.1,300.2 618.2,297.9 618.3,298.9 618.3,297.3 618.4,295.8 618.5,296.1 618.6,296.3 618.7,299.6 618.7,300.9 618.8,299.9 618.9,298.9 619,295.7 619.1,296.2 619.2,298.3 619.2,299.2 619.3,295.4 619.4,295.2 619.5,299.8 619.6,296.6 619.7,296.3 619.7,299.8 619.8,294.7 619.9,298 620,300.9 620.1,300.8 620.1,301 620.2,295.9 620.3,301.3 620.4,301.2 620.5,300.3 620.6,300.9 620.6,298.5 620.7,299.4 620.8,297.8 620.9,299.2 621,296.6 621.1,299.5 621.1,297.8 621.2,295.8 621.3,299.9 621.4,300.4 621.5,299.5 621.5,296.6 621.6,299.6 621.7,296.6 621.8,294.9 621.9,298.5 622,295.4 622,299.2 622.1,301 622.2,296.9 622.3,300.7 622.4,294.9 622.5,296.5 622.5,295 622.6,295.8 622.7,299.9 622.8,296.1 622.9,294.7 622.9,297.5 623,297.8 623.1,299.6 623.2,296.3 623.3,297.2 623.4,295.2 623.4,297.1 623.5,297.9 623.6,301 623.7,294.7 623.8,297.5 623.9,298.5 623.9,297.5 624,300.3 624.1,300 624.2,299.6 624.3,295.9 624.3,295.5 624.4,299.4 624.5,299.6 624.6,298 624.7,297.8 624.8,296.3 624.8,300 624.9,295.4 625,296.7 625.1,298.6 625.2,295.9 625.3,298 625.3,298.9 625.4,298.8 625.5,300.7 625.6,298.8 625.7,301.1 625.7,295.6 625.8,296.1 625.9,301.1 626,296.7 626.1,299.4 626.2,296.6 626.2,298.5 626.3,299.4 626.4,300.4 626.5,295.5 626.6,300.3 626.6,295.6 626.7,296.2 626.8,300 626.9,295 627,298.4 627.1,295.5 627.1,296.4 627.2,294.8 627.3,295.8 627.4,297.1 627.5,295 627.6,295.7 627.6,293.9 627.7,299.3 627.8,300.3 627.9,299.3 628,293.8 628,298.9 628.1,299.6 628.2,298 628.3,299.9 628.4,295.2 628.5,297.1 628.5,299.7 628.6,301 628.7,299.2 628.8,295.7 628.9,300.1 629,297.2 629,300.1 629.1,300.4 629.2,296.9 629.3,300.9 629.4,295.5 629.4,294.6 629.5,300.4 629.6,300.3 629.7,299.3 629.8,294.5 629.9,295.5 629.9,296.2 630,296.7 630.1,299 630.2,295.4 630.3,297.4 630.4,297 630.4,298.9 630.5,297.3 630.6,294.6 630.7,296.2 630.8,300.6 630.8,297.1 630.9,299.4 631,297.6 631.1,295 631.2,294.8 631.3,298.1 631.3,294.3 631.4,296.7 631.5,299.8 631.6,298.6 631.7,296.1 631.8,294.8 631.8,298.6 631.9,296.9 632,296.4 632.1,296 632.2,295.1 632.2,296 632.3,297.8 632.4,297.1 632.5,291.5 632.6,292.4 632.7,291.7 632.7,286.2 632.8,270 632.9,248.3 633,216 633.1,182.2 633.2,152.2 633.2,147.3 633.3,173.1 633.4,215.8 633.5,247.5 633.6,272.3 633.6,283.9 633.7,291.1 633.8,292.7 633.9,292.3 634,294.8 634.1,292.9 634.1,294.7 634.2,294.7 634.3,299.1 634.4,294 634.5,294.2 634.6,296.1 634.6,292.8 634.7,299.6 634.8,299.7 634.9,299.5 635,295.2 635,300.3 635.1,297.8 635.2,300.4 635.3,300.6 635.4,296.6 635.5,295.4 635.5,294.6 635.6,299.9 635.7,296.3 635.8,300.9 635.9,300.8 636,295.1 636,299 636.1,298.5 636.2,295.5 636.3,297.5 636.4,294.7 636.4,295.5 636.5,297.3 636.6,295.7 636.7,300.6 636.8,299.9 636.9,294.5 636.9,297.4 637,297.3 637.1,299.6 637.2,300 637.3,298.2 637.3,299.6 637.4,296 637.5,300.3 637.6,298.3 637.7,299.2 637.8,299.4 637.8,300.9 637.9,299.7 638,298.3 638.1,294.5 638.2,295.4 638.3,300.4 638.3,299.8 638.4,295.9 638.5,297.2 638.6,296.4 638.7,301.3 638.7,299.1 638.8,296.6 638.9,297.4 639,294.7 639.1,298.9 639.2,298.6 639.2,300.1 639.3,294.8 639.4,297.1 639.5,299.8 639.6,299.3 639.7,299.2 639.7,299.6 639.8,296.8 639.9,300.6 640,296.8 640.1,296.7 640.1,300.8 640.2,300.2 640.3,295.2 640.4,300.2 640.5,298 640.6,301 640.6,299.1 640.7,299.9 640.8,299.2 640.9,295.5 641,296.2 641.1,297.2 641.1,299.5 641.2,300 641.3,300.4 641.4,296.1 641.5,297.9 641.5,297.4 641.6,298.8 641.7,297.9 641.8,299.5 641.9,298.9 642,294.1 642,296.5 642.1,289.2 642.2,288.8 642.3,286.2 642.4,279 642.5,279.1 642.5,279.4 642.6,289.3 642.7,291.9 642.8,295.8 642.9,296.6 642.9,299 643,299.6 643.1,295.5 643.2,294.5 643.3,295.4 643.4,300.5 643.4,296.5 643.5,295.2 643.6,295.5 643.7,298.1 643.8,294.7 643.9,295.8 643.9,294.6 644,296.6 644.1,294.6 644.2,296.3 644.3,297.5 644.3,296.6 644.4,296.5 644.5,295 644.6,294.5 644.7,295 644.8,295.2 644.8,294.8 644.9,295.5 645,298.6 645.1,297.2 645.2,299.5 645.3,297.3 645.3,297.3 645.4,295.5 645.5,300.4 645.6,301.1 645.7,301.3 645.7,299.6 645.8,299.7 645.9,295.6 646,298.5 646.1,301 646.2,297.3 646.2,300.6 646.3,298.1 646.4,297.4 646.5,298.8 646.6,300 646.6,296 646.7,298.9 646.8,294.6 646.9,298.3 647,299.5 647.1,299.8 647.1,297.8 647.2,300.9 647.3,300.2 647.4,296.2 647.5,300.6 647.6,298.6 647.6,299.9 647.7,301.4 647.8,300.5 647.9,296.3 648,300 648,300.1 648.1,298.8 648.2,300.9 648.3,295.5 648.4,298.8 648.5,297.1 648.5,300.8 648.6,300 648.7,297.6 648.8,296.2 648.9,295.8 649,299.4 649,298.2 649.1,300.9 649.2,297.7 649.3,300.4 649.4,299.1 649.4,300 649.5,298.4 649.6,294.7 649.7,296.4 649.8,301.3 649.9,299.8 649.9,298.2 650,296.5 650.1,295.9 650.2,297.4 650.3,299.9 650.4,297.2 650.4,293.1 650.5,295.6 650.6,298.5 650.7,296.4 650.8,295 650.8,299.1 650.9,298.2 651,295.4 651.1,295.6 651.2,296.8 651.3,299.8 651.3,297.4 651.4,295.4 651.5,297.3 651.6,298.7 651.7,299.7 651.8,296.5 651.8,299.4 651.9,296.2 652,293.6 652.1,296.3 652.2,300.4 652.2,298.8 652.3,296 652.4,299.5 652.5,298.2 652.6,296.7 652.7,300.2 652.7,296.5 652.8,300.1 652.9,299.9 653,295.2 653.1,294.7 653.2,297.5 653.2,298.7 653.3,295.3 653.4,301.1 653.5,297.9 653.6,296.1 653.6,300.4 653.7,301.2 653.8,295.8 653.9,298 654,294.2 654.1,294.7 654.1,296.4 654.2,298.4 654.3,295.9 654.4,297.3 654.5,298 654.6,298.5 654.6,298.7 654.7,295.2 654.8,298.8 654.9,300 655,299.7 655,297.2 655.1,300.3 655.2,300.8 655.3,296.2 655.4,298.5 655.5,297.1 655.5,297.3 655.6,299 655.7,297.4 655.8,295.6 655.9,298.8 656,301.1 656,299.9 656.1,298.8 656.2,296.4 656.3,295.9 656.4,295.1 656.4,298.2 656.5,301.3 656.6,298.1 656.7,297.2 656.8,294.7 656.9,299.2 656.9,297.4 657,297.2 657.1,299.5 657.2,299.7 657.3,301.1 657.3,299.6 657.4,299.9 657.5,295.9 657.6,298.5 657.7,297.7 657.8,294.9 657.8,300.9 657.9,300.4 658,299.3 658.1,298.5 658.2,295.4 658.3,297.7 658.3,301.3 658.4,298.8 658.5,298 658.6,299.2 658.7,299.5 658.7,296.5 658.8,297.5 658.9,296.3 659,297.4 659.1,299.8 659.2,299.2 659.2,300.7 659.3,298 659.4,299.1 659.5,300.8 659.6,297.9 659.7,296.5 659.7,295.9 659.8,300.1 659.9,298.5 660,300.4 660.1,297.1 660.1,296.6 660.2,297.3 660.3,299.1 660.4,298.6 660.5,296.4 660.6,300.7 660.6,295.1 660.7,298.6 660.8,295.1 660.9,299.1 661,299.3 661.1,300.6 661.1,296.1 661.2,296.7 661.3,296.6 661.4,298 661.5,297.3 661.5,300.2 661.6,298.1 661.7,296.5 661.8,298.6 661.9,298.6 662,300.8 662,299.8 662.1,299.5 662.2,298.3 662.3,301.2 662.4,299.8 662.5,292.6 662.5,297.6 662.6,297.7 662.7,300 662.8,295.1 662.9,299.8 662.9,299.3 663,298 663.1,296.2 663.2,300.5 663.3,296.9 663.4,297.1 663.4,301.1 663.5,299 663.6,296.1 663.7,299.2 663.8,293.2 663.9,298.2 663.9,300.6 664,295.5 664.1,299.2 664.2,297.6 664.3,296 664.3,296.2 664.4,299.1 664.5,301 664.6,295.1 664.7,297.8 664.8,301.2 664.8,300 664.9,296.6 665,297.4 665.1,298.8 665.2,297.6 665.3,297.4 665.3,295.6 665.4,297.9 665.5,298.4 665.6,296.3 665.7,298.8 665.7,295.5 665.8,296 665.9,295.6 666,299.4 666.1,298.8 666.2,292.7 666.2,300.3 666.3,297.5 666.4,295.8 666.5,301.3 666.6,300.3 666.7,299.2 666.7,297.8 666.8,299 666.9,294.8 667,300.4 667.1,299.1 667.1,296.9 667.2,296.6 667.3,297.9 667.4,296.3 667.5,298.4 667.6,298.5 667.6,301.1 667.7,299.9 667.8,298.3 667.9,297.5 668,298.7 668,299.9 668.1,300.9 668.2,300.2 668.3,294 668.4,295.7 668.5,294 668.5,296.3 668.6,295.9 668.7,299.9 668.8,296.8 668.9,297.2 669,296.6 669,300.1 669.1,298.6 669.2,296 669.3,301.3 669.4,295 669.4,299.4 669.5,297.7 669.6,301 669.7,298.7 669.8,298.8 669.9,295.6 669.9,296.3 670,296 670.1,298.3 670.2,297 670.3,295.3 670.4,296.2 670.4,300.3 670.5,298 670.6,299.3 670.7,299.1 670.8,297.6 670.8,296.8 670.9,300.4 671,299.7 671.1,300.4 671.2,298.7 671.3,295.5 671.3,300.7 671.4,295.3 671.5,298.8 671.6,296.8 671.7,296.6 671.8,299.9 671.8,294.7 671.9,295 672,301.3" stroke="#0000ff" stroke-width="1"/><line x1="383.8" y1="106.5" x2="383.8" y2="302.0" stroke="#ff0000" stroke-width="1" stroke-dasharray="3.7,1.6"/><line x1="512.7" y1="106.5" x2="512.7" y2="302.0" stroke="#ff0000" stroke-width="1" stroke-dasharray="3.7,1.6"/></g><g fill="#000"><circle cx="434.3" cy="245.2" r="3.2"/><circle cx="443.4" cy="248.6" r="3.2"/><circle cx="455.6" cy="152.3" r="3.2"/><circle cx="500.8" cy="117.4" r="3.2"/><circle cx="545.3" cy="234.2" r="3.2"/><circle cx="552.5" cy="260.1" r="3.2"/><circle cx="594.6" cy="278.6" r="3.2"/><circle cx="633.4" cy="141.6" r="3.2"/><circle cx="642.8" cy="275.4" r="3.2"/></g><rect x="376.7" y="106.5" width="294.3" height="195.5" fill="none" stroke="#111" stroke-width="0.65"/><g stroke="#000" stroke-width="0.8"><line x1="376.7" y1="302.0" x2="376.7" y2="304.8"/><line x1="413.5" y1="302.0" x2="413.5" y2="304.8"/><line x1="450.3" y1="302.0" x2="450.3" y2="304.8"/><line x1="487.1" y1="302.0" x2="487.1" y2="304.8"/><line x1="523.9" y1="302.0" x2="523.9" y2="304.8"/><line x1="560.6" y1="302.0" x2="560.6" y2="304.8"/><line x1="597.4" y1="302.0" x2="597.4" y2="304.8"/><line x1="634.2" y1="302.0" x2="634.2" y2="304.8"/><line x1="671" y1="302.0" x2="671" y2="304.8"/></g><g font-family="Liberation Serif, serif" font-size="11.4" fill="#2a2a2a"><text x="376.7" y="316.6" text-anchor="middle">30</text><text x="413.5" y="316.6" text-anchor="middle">40</text><text x="450.3" y="316.6" text-anchor="middle">50</text><text x="487.1" y="316.6" text-anchor="middle">60</text><text x="523.9" y="316.6" text-anchor="middle">70</text><text x="560.6" y="316.6" text-anchor="middle">80</text><text x="597.4" y="316.6" text-anchor="middle">90</text><text x="634.2" y="316.6" text-anchor="middle">100</text><text x="671" y="316.6" text-anchor="middle">110</text></g><g font-family="Liberation Serif, serif" font-size="15" fill="#111"><text x="346.9" y="442.4" font-weight="bold" textLength="15.8" lengthAdjust="spacingAndGlyphs">2<tspan font-style="italic">θ</tspan></text><text x="371.5" y="442.4" textLength="16.3" lengthAdjust="spacingAndGlyphs">(°)</text><text x="192.6" y="333.1" font-weight="bold" textLength="15.8" lengthAdjust="spacingAndGlyphs">2<tspan font-style="italic">θ</tspan></text><text x="217.1" y="333.1" textLength="16.9" lengthAdjust="spacingAndGlyphs">(°)</text><text x="501.7" y="333.4" font-weight="bold" textLength="15.8" lengthAdjust="spacingAndGlyphs">2<tspan font-style="italic">θ</tspan></text><text x="526.2" y="333.4" textLength="16.9" lengthAdjust="spacingAndGlyphs">(°)</text></g><text transform="translate(12.2,258.5) rotate(-90)" font-family="Liberation Serif, serif" font-size="15.3" font-weight="bold" fill="#111" textLength="107" lengthAdjust="spacingAndGlyphs">Intensity (a.u)</text><circle cx="97.6" cy="8.3" r="3.2"/><rect x="94.8" y="18.6" width="5.8" height="5.8"/><g font-family="Liberation Serif, serif" font-size="10.8" fill="#1a1a1a"><text x="103.4" y="11.5" textLength="18.9" lengthAdjust="spacingAndGlyphs">TiO</text><text x="122.3" y="13.6" font-size="7.6">2</text><text x="130.5" y="11.5" textLength="29" lengthAdjust="spacingAndGlyphs">Rutile</text><text x="103.7" y="25.9" textLength="9.8" lengthAdjust="spacingAndGlyphs">Al</text><text x="113.5" y="27.8" font-size="7.6">2</text><text x="117" y="25.9" textLength="20.1" lengthAdjust="spacingAndGlyphs">TiO</text><text x="137.3" y="27.8" font-size="7.6">5</text></g><line x1="263.3" y1="19.3" x2="292.3" y2="19.3" stroke="#3535ff" stroke-width="0.95"/><line x1="263.6" y1="41.4" x2="292.3" y2="41.4" stroke="#f01818" stroke-width="0.95" stroke-dasharray="3.4,1.7"/><g font-family="Liberation Serif, serif" font-size="14.6" font-weight="bold" fill="#262626" word-spacing="1.2"><text x="302.6" y="24.6" textLength="344.4" lengthAdjust="spacingAndGlyphs">Substrate/oxide interface, 90 s, 4500 Pa, 7.3 MJ.kg</text><text x="303.4" y="45.5" textLength="328.5" lengthAdjust="spacingAndGlyphs">Plasma/oxide interface, 90 s, 4500 Pa, 7.3 MJ.kg</text></g><g font-family="Liberation Serif, serif" font-size="9.6" fill="#111"><text x="649.2" y="19.6" textLength="12.1" lengthAdjust="spacingAndGlyphs">−1</text><text x="634.1" y="40.5" textLength="12" lengthAdjust="spacingAndGlyphs">−1</text></g></svg></body></html>
